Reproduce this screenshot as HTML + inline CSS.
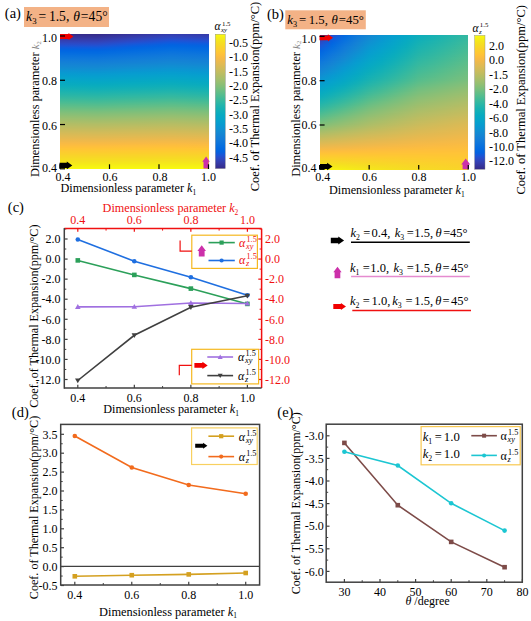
<!DOCTYPE html>
<html><head><meta charset="utf-8"><style>html,body{margin:0;padding:0;background:#fff;width:531px;height:621px;overflow:hidden}svg{display:block}</style></head>
<body><svg width="531" height="621" viewBox="0 0 531 621" font-family='"Liberation Serif", serif'>
<defs><linearGradient id="ga0" x1="0" x2="1" y1="0" y2="0"><stop offset="0.000" stop-color="#352c8a"/><stop offset="0.250" stop-color="#352c8a"/><stop offset="0.500" stop-color="#36359e"/><stop offset="0.750" stop-color="#343eb0"/><stop offset="1.000" stop-color="#353ba9"/></linearGradient><linearGradient id="ga1" x1="0" x2="1" y1="0" y2="0"><stop offset="0.000" stop-color="#362f91"/><stop offset="0.250" stop-color="#362f90"/><stop offset="0.500" stop-color="#3638a4"/><stop offset="0.750" stop-color="#3341b6"/><stop offset="1.000" stop-color="#343eaf"/></linearGradient><linearGradient id="ga2" x1="0" x2="1" y1="0" y2="0"><stop offset="0.000" stop-color="#363297"/><stop offset="0.250" stop-color="#363297"/><stop offset="0.500" stop-color="#353caa"/><stop offset="0.750" stop-color="#3145bc"/><stop offset="1.000" stop-color="#3341b5"/></linearGradient><linearGradient id="ga3" x1="0" x2="1" y1="0" y2="0"><stop offset="0.000" stop-color="#36359e"/><stop offset="0.250" stop-color="#36359d"/><stop offset="0.500" stop-color="#343fb0"/><stop offset="0.750" stop-color="#2e48c2"/><stop offset="1.000" stop-color="#3144bb"/></linearGradient><linearGradient id="ga4" x1="0" x2="1" y1="0" y2="0"><stop offset="0.000" stop-color="#3639a4"/><stop offset="0.250" stop-color="#3638a4"/><stop offset="0.500" stop-color="#3342b7"/><stop offset="0.750" stop-color="#2a4bc8"/><stop offset="1.000" stop-color="#2e48c1"/></linearGradient><linearGradient id="ga5" x1="0" x2="1" y1="0" y2="0"><stop offset="0.000" stop-color="#353cab"/><stop offset="0.250" stop-color="#353caa"/><stop offset="0.500" stop-color="#3045bd"/><stop offset="0.750" stop-color="#254fce"/><stop offset="1.000" stop-color="#2b4bc8"/></linearGradient><linearGradient id="ga6" x1="0" x2="1" y1="0" y2="0"><stop offset="0.000" stop-color="#343fb1"/><stop offset="0.250" stop-color="#343fb1"/><stop offset="0.500" stop-color="#2d49c3"/><stop offset="0.750" stop-color="#1f53d4"/><stop offset="1.000" stop-color="#254fce"/></linearGradient><linearGradient id="ga7" x1="0" x2="1" y1="0" y2="0"><stop offset="0.000" stop-color="#3243b8"/><stop offset="0.250" stop-color="#3342b7"/><stop offset="0.500" stop-color="#294cca"/><stop offset="0.750" stop-color="#1757d9"/><stop offset="1.000" stop-color="#2053d4"/></linearGradient><linearGradient id="ga8" x1="0" x2="1" y1="0" y2="0"><stop offset="0.000" stop-color="#2f46bf"/><stop offset="0.250" stop-color="#3046be"/><stop offset="0.500" stop-color="#2350d0"/><stop offset="0.750" stop-color="#105bdd"/><stop offset="1.000" stop-color="#1857d8"/></linearGradient><linearGradient id="ga9" x1="0" x2="1" y1="0" y2="0"><stop offset="0.000" stop-color="#2c4ac6"/><stop offset="0.250" stop-color="#2d49c5"/><stop offset="0.500" stop-color="#1c55d6"/><stop offset="0.750" stop-color="#0a5fdf"/><stop offset="1.000" stop-color="#115bdd"/></linearGradient><linearGradient id="ga10" x1="0" x2="1" y1="0" y2="0"><stop offset="0.000" stop-color="#264ecc"/><stop offset="0.250" stop-color="#284dcb"/><stop offset="0.500" stop-color="#1459da"/><stop offset="0.750" stop-color="#0462e1"/><stop offset="1.000" stop-color="#0b5edf"/></linearGradient><linearGradient id="ga11" x1="0" x2="1" y1="0" y2="0"><stop offset="0.000" stop-color="#2052d3"/><stop offset="0.250" stop-color="#2251d2"/><stop offset="0.500" stop-color="#0d5dde"/><stop offset="0.750" stop-color="#0265e1"/><stop offset="1.000" stop-color="#0562e0"/></linearGradient><linearGradient id="ga12" x1="0" x2="1" y1="0" y2="0"><stop offset="0.000" stop-color="#1857d8"/><stop offset="0.250" stop-color="#1a56d7"/><stop offset="0.500" stop-color="#0760e0"/><stop offset="0.750" stop-color="#0267e1"/><stop offset="1.000" stop-color="#0364e1"/></linearGradient><linearGradient id="ga13" x1="0" x2="1" y1="0" y2="0"><stop offset="0.000" stop-color="#0f5cdd"/><stop offset="0.250" stop-color="#115bdc"/><stop offset="0.500" stop-color="#0364e1"/><stop offset="0.750" stop-color="#026ae1"/><stop offset="1.000" stop-color="#0267e1"/></linearGradient><linearGradient id="ga14" x1="0" x2="1" y1="0" y2="0"><stop offset="0.000" stop-color="#095fdf"/><stop offset="0.250" stop-color="#0b5edf"/><stop offset="0.500" stop-color="#0266e1"/><stop offset="0.750" stop-color="#046ce0"/><stop offset="1.000" stop-color="#0269e1"/></linearGradient><linearGradient id="ga15" x1="0" x2="1" y1="0" y2="0"><stop offset="0.000" stop-color="#0363e1"/><stop offset="0.250" stop-color="#0462e0"/><stop offset="0.500" stop-color="#0269e1"/><stop offset="0.750" stop-color="#056ee0"/><stop offset="1.000" stop-color="#036be0"/></linearGradient><linearGradient id="ga16" x1="0" x2="1" y1="0" y2="0"><stop offset="0.000" stop-color="#0266e1"/><stop offset="0.250" stop-color="#0265e1"/><stop offset="0.500" stop-color="#036be0"/><stop offset="0.750" stop-color="#0770df"/><stop offset="1.000" stop-color="#056de0"/></linearGradient><linearGradient id="ga17" x1="0" x2="1" y1="0" y2="0"><stop offset="0.000" stop-color="#0268e1"/><stop offset="0.250" stop-color="#0268e1"/><stop offset="0.500" stop-color="#056de0"/><stop offset="0.750" stop-color="#0972de"/><stop offset="1.000" stop-color="#076fdf"/></linearGradient><linearGradient id="ga18" x1="0" x2="1" y1="0" y2="0"><stop offset="0.000" stop-color="#036be0"/><stop offset="0.250" stop-color="#036ae1"/><stop offset="0.500" stop-color="#076fdf"/><stop offset="0.750" stop-color="#0b74dd"/><stop offset="1.000" stop-color="#0971de"/></linearGradient><linearGradient id="ga19" x1="0" x2="1" y1="0" y2="0"><stop offset="0.000" stop-color="#056de0"/><stop offset="0.250" stop-color="#046ce0"/><stop offset="0.500" stop-color="#0971de"/><stop offset="0.750" stop-color="#0d75dc"/><stop offset="1.000" stop-color="#0b73dd"/></linearGradient><linearGradient id="ga20" x1="0" x2="1" y1="0" y2="0"><stop offset="0.000" stop-color="#076fdf"/><stop offset="0.250" stop-color="#066fdf"/><stop offset="0.500" stop-color="#0b73dd"/><stop offset="0.750" stop-color="#0f77db"/><stop offset="1.000" stop-color="#0d75dc"/></linearGradient><linearGradient id="ga21" x1="0" x2="1" y1="0" y2="0"><stop offset="0.000" stop-color="#0972de"/><stop offset="0.250" stop-color="#0871de"/><stop offset="0.500" stop-color="#0d75dc"/><stop offset="0.750" stop-color="#1079da"/><stop offset="1.000" stop-color="#0e77db"/></linearGradient><linearGradient id="ga22" x1="0" x2="1" y1="0" y2="0"><stop offset="0.000" stop-color="#0b74dd"/><stop offset="0.250" stop-color="#0a73dd"/><stop offset="0.500" stop-color="#0f77db"/><stop offset="0.750" stop-color="#117bd9"/><stop offset="1.000" stop-color="#1078da"/></linearGradient><linearGradient id="ga23" x1="0" x2="1" y1="0" y2="0"><stop offset="0.000" stop-color="#0d76dc"/><stop offset="0.250" stop-color="#0d75dc"/><stop offset="0.500" stop-color="#1079da"/><stop offset="0.750" stop-color="#127dd8"/><stop offset="1.000" stop-color="#117ad9"/></linearGradient><linearGradient id="ga24" x1="0" x2="1" y1="0" y2="0"><stop offset="0.000" stop-color="#0f78db"/><stop offset="0.250" stop-color="#0e77db"/><stop offset="0.500" stop-color="#117bd9"/><stop offset="0.750" stop-color="#137ed7"/><stop offset="1.000" stop-color="#127cd8"/></linearGradient><linearGradient id="ga25" x1="0" x2="1" y1="0" y2="0"><stop offset="0.000" stop-color="#117ada"/><stop offset="0.250" stop-color="#1079da"/><stop offset="0.500" stop-color="#127dd8"/><stop offset="0.750" stop-color="#1480d6"/><stop offset="1.000" stop-color="#137ed7"/></linearGradient><linearGradient id="ga26" x1="0" x2="1" y1="0" y2="0"><stop offset="0.000" stop-color="#127cd9"/><stop offset="0.250" stop-color="#117bd9"/><stop offset="0.500" stop-color="#137fd7"/><stop offset="0.750" stop-color="#1482d5"/><stop offset="1.000" stop-color="#1480d6"/></linearGradient><linearGradient id="ga27" x1="0" x2="1" y1="0" y2="0"><stop offset="0.000" stop-color="#137ed7"/><stop offset="0.250" stop-color="#127dd8"/><stop offset="0.500" stop-color="#1480d6"/><stop offset="0.750" stop-color="#1484d4"/><stop offset="1.000" stop-color="#1481d5"/></linearGradient><linearGradient id="ga28" x1="0" x2="1" y1="0" y2="0"><stop offset="0.000" stop-color="#1480d6"/><stop offset="0.250" stop-color="#137fd7"/><stop offset="0.500" stop-color="#1482d5"/><stop offset="0.750" stop-color="#1486d4"/><stop offset="1.000" stop-color="#1483d5"/></linearGradient><linearGradient id="ga29" x1="0" x2="1" y1="0" y2="0"><stop offset="0.000" stop-color="#1482d5"/><stop offset="0.250" stop-color="#1481d6"/><stop offset="0.500" stop-color="#1484d4"/><stop offset="0.750" stop-color="#1388d3"/><stop offset="1.000" stop-color="#1485d4"/></linearGradient><linearGradient id="ga30" x1="0" x2="1" y1="0" y2="0"><stop offset="0.000" stop-color="#1484d4"/><stop offset="0.250" stop-color="#1483d5"/><stop offset="0.500" stop-color="#1487d3"/><stop offset="0.750" stop-color="#128ad3"/><stop offset="1.000" stop-color="#1487d3"/></linearGradient><linearGradient id="ga31" x1="0" x2="1" y1="0" y2="0"><stop offset="0.000" stop-color="#1486d4"/><stop offset="0.250" stop-color="#1485d4"/><stop offset="0.500" stop-color="#1389d3"/><stop offset="0.750" stop-color="#118dd2"/><stop offset="1.000" stop-color="#1389d3"/></linearGradient><linearGradient id="ga32" x1="0" x2="1" y1="0" y2="0"><stop offset="0.000" stop-color="#1388d3"/><stop offset="0.250" stop-color="#1487d3"/><stop offset="0.500" stop-color="#128bd2"/><stop offset="0.750" stop-color="#108fd2"/><stop offset="1.000" stop-color="#128cd2"/></linearGradient><linearGradient id="ga33" x1="0" x2="1" y1="0" y2="0"><stop offset="0.000" stop-color="#128bd2"/><stop offset="0.250" stop-color="#1389d3"/><stop offset="0.500" stop-color="#118ed2"/><stop offset="0.750" stop-color="#0e91d2"/><stop offset="1.000" stop-color="#108ed2"/></linearGradient><linearGradient id="ga34" x1="0" x2="1" y1="0" y2="0"><stop offset="0.000" stop-color="#118dd2"/><stop offset="0.250" stop-color="#128cd2"/><stop offset="0.500" stop-color="#0f90d2"/><stop offset="0.750" stop-color="#0c94d2"/><stop offset="1.000" stop-color="#0f90d2"/></linearGradient><linearGradient id="ga35" x1="0" x2="1" y1="0" y2="0"><stop offset="0.000" stop-color="#0f90d2"/><stop offset="0.250" stop-color="#108ed2"/><stop offset="0.500" stop-color="#0d93d2"/><stop offset="0.750" stop-color="#0a96d1"/><stop offset="1.000" stop-color="#0d93d2"/></linearGradient><linearGradient id="ga36" x1="0" x2="1" y1="0" y2="0"><stop offset="0.000" stop-color="#0d93d2"/><stop offset="0.250" stop-color="#0e91d2"/><stop offset="0.500" stop-color="#0b95d2"/><stop offset="0.750" stop-color="#0998d1"/><stop offset="1.000" stop-color="#0b95d2"/></linearGradient><linearGradient id="ga37" x1="0" x2="1" y1="0" y2="0"><stop offset="0.000" stop-color="#0b95d1"/><stop offset="0.250" stop-color="#0c94d2"/><stop offset="0.500" stop-color="#0997d1"/><stop offset="0.750" stop-color="#089ad0"/><stop offset="1.000" stop-color="#0997d1"/></linearGradient><linearGradient id="ga38" x1="0" x2="1" y1="0" y2="0"><stop offset="0.000" stop-color="#0998d1"/><stop offset="0.250" stop-color="#0a96d1"/><stop offset="0.500" stop-color="#089ad0"/><stop offset="0.750" stop-color="#079dcf"/><stop offset="1.000" stop-color="#0899d1"/></linearGradient><linearGradient id="ga39" x1="0" x2="1" y1="0" y2="0"><stop offset="0.000" stop-color="#089ad0"/><stop offset="0.250" stop-color="#0999d1"/><stop offset="0.500" stop-color="#079cd0"/><stop offset="0.750" stop-color="#069ece"/><stop offset="1.000" stop-color="#079bd0"/></linearGradient><linearGradient id="ga40" x1="0" x2="1" y1="0" y2="0"><stop offset="0.000" stop-color="#079ccf"/><stop offset="0.250" stop-color="#089bd0"/><stop offset="0.500" stop-color="#079ecf"/><stop offset="0.750" stop-color="#06a0cd"/><stop offset="1.000" stop-color="#079dcf"/></linearGradient><linearGradient id="ga41" x1="0" x2="1" y1="0" y2="0"><stop offset="0.000" stop-color="#069ece"/><stop offset="0.250" stop-color="#079dcf"/><stop offset="0.500" stop-color="#06a0cd"/><stop offset="0.750" stop-color="#06a2cc"/><stop offset="1.000" stop-color="#069fce"/></linearGradient><linearGradient id="ga42" x1="0" x2="1" y1="0" y2="0"><stop offset="0.000" stop-color="#06a0cd"/><stop offset="0.250" stop-color="#069fce"/><stop offset="0.500" stop-color="#06a1cc"/><stop offset="0.750" stop-color="#06a3ca"/><stop offset="1.000" stop-color="#06a1cc"/></linearGradient><linearGradient id="ga43" x1="0" x2="1" y1="0" y2="0"><stop offset="0.000" stop-color="#06a2cb"/><stop offset="0.250" stop-color="#06a1cd"/><stop offset="0.500" stop-color="#06a3ca"/><stop offset="0.750" stop-color="#06a5c9"/><stop offset="1.000" stop-color="#06a2cb"/></linearGradient><linearGradient id="ga44" x1="0" x2="1" y1="0" y2="0"><stop offset="0.000" stop-color="#06a4ca"/><stop offset="0.250" stop-color="#06a2cb"/><stop offset="0.500" stop-color="#06a4c9"/><stop offset="0.750" stop-color="#06a6c7"/><stop offset="1.000" stop-color="#06a4c9"/></linearGradient><linearGradient id="ga45" x1="0" x2="1" y1="0" y2="0"><stop offset="0.000" stop-color="#06a5c8"/><stop offset="0.250" stop-color="#06a4c9"/><stop offset="0.500" stop-color="#06a6c7"/><stop offset="0.750" stop-color="#06a7c5"/><stop offset="1.000" stop-color="#06a5c8"/></linearGradient><linearGradient id="ga46" x1="0" x2="1" y1="0" y2="0"><stop offset="0.000" stop-color="#06a7c6"/><stop offset="0.250" stop-color="#06a5c8"/><stop offset="0.500" stop-color="#06a7c5"/><stop offset="0.750" stop-color="#07a9c3"/><stop offset="1.000" stop-color="#06a7c6"/></linearGradient><linearGradient id="ga47" x1="0" x2="1" y1="0" y2="0"><stop offset="0.000" stop-color="#06a8c4"/><stop offset="0.250" stop-color="#06a7c6"/><stop offset="0.500" stop-color="#06a8c3"/><stop offset="0.750" stop-color="#07aac1"/><stop offset="1.000" stop-color="#06a8c4"/></linearGradient><linearGradient id="ga48" x1="0" x2="1" y1="0" y2="0"><stop offset="0.000" stop-color="#07a9c2"/><stop offset="0.250" stop-color="#06a8c4"/><stop offset="0.500" stop-color="#07aac2"/><stop offset="0.750" stop-color="#09abbf"/><stop offset="1.000" stop-color="#07a9c2"/></linearGradient><linearGradient id="ga49" x1="0" x2="1" y1="0" y2="0"><stop offset="0.000" stop-color="#08aac1"/><stop offset="0.250" stop-color="#07a9c2"/><stop offset="0.500" stop-color="#08abc0"/><stop offset="0.750" stop-color="#0aacbd"/><stop offset="1.000" stop-color="#08aac1"/></linearGradient><linearGradient id="ga50" x1="0" x2="1" y1="0" y2="0"><stop offset="0.000" stop-color="#09abbf"/><stop offset="0.250" stop-color="#08aac0"/><stop offset="0.500" stop-color="#0aacbe"/><stop offset="0.750" stop-color="#0cadbb"/><stop offset="1.000" stop-color="#09abbf"/></linearGradient><linearGradient id="ga51" x1="0" x2="1" y1="0" y2="0"><stop offset="0.000" stop-color="#0bacbd"/><stop offset="0.250" stop-color="#09acbe"/><stop offset="0.500" stop-color="#0cadbc"/><stop offset="0.750" stop-color="#0faeb9"/><stop offset="1.000" stop-color="#0bacbd"/></linearGradient><linearGradient id="ga52" x1="0" x2="1" y1="0" y2="0"><stop offset="0.000" stop-color="#0daebb"/><stop offset="0.250" stop-color="#0badbc"/><stop offset="0.500" stop-color="#0eaeba"/><stop offset="0.750" stop-color="#11afb7"/><stop offset="1.000" stop-color="#0daebb"/></linearGradient><linearGradient id="ga53" x1="0" x2="1" y1="0" y2="0"><stop offset="0.000" stop-color="#10afb8"/><stop offset="0.250" stop-color="#0eaeba"/><stop offset="0.500" stop-color="#11afb7"/><stop offset="0.750" stop-color="#14b0b5"/><stop offset="1.000" stop-color="#10afb8"/></linearGradient><linearGradient id="ga54" x1="0" x2="1" y1="0" y2="0"><stop offset="0.000" stop-color="#13b0b6"/><stop offset="0.250" stop-color="#10afb8"/><stop offset="0.500" stop-color="#14b0b5"/><stop offset="0.750" stop-color="#17b1b3"/><stop offset="1.000" stop-color="#13b0b6"/></linearGradient><linearGradient id="ga55" x1="0" x2="1" y1="0" y2="0"><stop offset="0.000" stop-color="#16b1b4"/><stop offset="0.250" stop-color="#13b0b6"/><stop offset="0.500" stop-color="#17b1b3"/><stop offset="0.750" stop-color="#1ab2b1"/><stop offset="1.000" stop-color="#16b1b4"/></linearGradient><linearGradient id="ga56" x1="0" x2="1" y1="0" y2="0"><stop offset="0.000" stop-color="#19b2b2"/><stop offset="0.250" stop-color="#16b1b4"/><stop offset="0.500" stop-color="#1ab2b1"/><stop offset="0.750" stop-color="#1eb3ae"/><stop offset="1.000" stop-color="#19b2b2"/></linearGradient><linearGradient id="ga57" x1="0" x2="1" y1="0" y2="0"><stop offset="0.000" stop-color="#1cb3af"/><stop offset="0.250" stop-color="#1ab2b1"/><stop offset="0.500" stop-color="#1eb3ae"/><stop offset="0.750" stop-color="#21b4ac"/><stop offset="1.000" stop-color="#1cb3af"/></linearGradient><linearGradient id="ga58" x1="0" x2="1" y1="0" y2="0"><stop offset="0.000" stop-color="#20b4ad"/><stop offset="0.250" stop-color="#1db3af"/><stop offset="0.500" stop-color="#21b4ac"/><stop offset="0.750" stop-color="#25b5aa"/><stop offset="1.000" stop-color="#20b4ad"/></linearGradient><linearGradient id="ga59" x1="0" x2="1" y1="0" y2="0"><stop offset="0.000" stop-color="#23b5ab"/><stop offset="0.250" stop-color="#21b4ac"/><stop offset="0.500" stop-color="#25b5aa"/><stop offset="0.750" stop-color="#29b6a7"/><stop offset="1.000" stop-color="#23b5ab"/></linearGradient><linearGradient id="ga60" x1="0" x2="1" y1="0" y2="0"><stop offset="0.000" stop-color="#27b5a8"/><stop offset="0.250" stop-color="#24b5aa"/><stop offset="0.500" stop-color="#29b6a7"/><stop offset="0.750" stop-color="#2db7a5"/><stop offset="1.000" stop-color="#27b5a8"/></linearGradient><linearGradient id="ga61" x1="0" x2="1" y1="0" y2="0"><stop offset="0.000" stop-color="#2bb6a6"/><stop offset="0.250" stop-color="#28b6a7"/><stop offset="0.500" stop-color="#2db7a5"/><stop offset="0.750" stop-color="#31b8a2"/><stop offset="1.000" stop-color="#2bb6a6"/></linearGradient><linearGradient id="ga62" x1="0" x2="1" y1="0" y2="0"><stop offset="0.000" stop-color="#2fb7a3"/><stop offset="0.250" stop-color="#2cb7a5"/><stop offset="0.500" stop-color="#31b8a2"/><stop offset="0.750" stop-color="#35b89f"/><stop offset="1.000" stop-color="#2fb7a3"/></linearGradient><linearGradient id="ga63" x1="0" x2="1" y1="0" y2="0"><stop offset="0.000" stop-color="#34b8a0"/><stop offset="0.250" stop-color="#30b8a2"/><stop offset="0.500" stop-color="#35b89f"/><stop offset="0.750" stop-color="#39b99d"/><stop offset="1.000" stop-color="#34b8a0"/></linearGradient><linearGradient id="ga64" x1="0" x2="1" y1="0" y2="0"><stop offset="0.000" stop-color="#38b99e"/><stop offset="0.250" stop-color="#35b8a0"/><stop offset="0.500" stop-color="#3ab99d"/><stop offset="0.750" stop-color="#3eba9a"/><stop offset="1.000" stop-color="#38b99e"/></linearGradient><linearGradient id="ga65" x1="0" x2="1" y1="0" y2="0"><stop offset="0.000" stop-color="#3dba9b"/><stop offset="0.250" stop-color="#39b99d"/><stop offset="0.500" stop-color="#3eba9a"/><stop offset="0.750" stop-color="#43bb97"/><stop offset="1.000" stop-color="#3dba9b"/></linearGradient><linearGradient id="ga66" x1="0" x2="1" y1="0" y2="0"><stop offset="0.000" stop-color="#41ba98"/><stop offset="0.250" stop-color="#3eba9a"/><stop offset="0.500" stop-color="#43bb97"/><stop offset="0.750" stop-color="#48bb95"/><stop offset="1.000" stop-color="#41ba98"/></linearGradient><linearGradient id="ga67" x1="0" x2="1" y1="0" y2="0"><stop offset="0.000" stop-color="#46bb95"/><stop offset="0.250" stop-color="#43bb97"/><stop offset="0.500" stop-color="#48bb94"/><stop offset="0.750" stop-color="#4cbc92"/><stop offset="1.000" stop-color="#46bb95"/></linearGradient><linearGradient id="ga68" x1="0" x2="1" y1="0" y2="0"><stop offset="0.000" stop-color="#4bbc93"/><stop offset="0.250" stop-color="#48bb95"/><stop offset="0.500" stop-color="#4dbc92"/><stop offset="0.750" stop-color="#52bd8f"/><stop offset="1.000" stop-color="#4bbc93"/></linearGradient><linearGradient id="ga69" x1="0" x2="1" y1="0" y2="0"><stop offset="0.000" stop-color="#50bc90"/><stop offset="0.250" stop-color="#4dbc92"/><stop offset="0.500" stop-color="#52bd8f"/><stop offset="0.750" stop-color="#57bd8d"/><stop offset="1.000" stop-color="#50bc90"/></linearGradient><linearGradient id="ga70" x1="0" x2="1" y1="0" y2="0"><stop offset="0.000" stop-color="#56bd8d"/><stop offset="0.250" stop-color="#52bd8f"/><stop offset="0.500" stop-color="#57bd8c"/><stop offset="0.750" stop-color="#5cbe8a"/><stop offset="1.000" stop-color="#56bd8d"/></linearGradient><linearGradient id="ga71" x1="0" x2="1" y1="0" y2="0"><stop offset="0.000" stop-color="#5bbd8a"/><stop offset="0.250" stop-color="#57bd8c"/><stop offset="0.500" stop-color="#5dbe8a"/><stop offset="0.750" stop-color="#61be87"/><stop offset="1.000" stop-color="#5bbd8a"/></linearGradient><linearGradient id="ga72" x1="0" x2="1" y1="0" y2="0"><stop offset="0.000" stop-color="#60be88"/><stop offset="0.250" stop-color="#5dbe8a"/><stop offset="0.500" stop-color="#62be87"/><stop offset="0.750" stop-color="#66be85"/><stop offset="1.000" stop-color="#60be88"/></linearGradient><linearGradient id="ga73" x1="0" x2="1" y1="0" y2="0"><stop offset="0.000" stop-color="#66be85"/><stop offset="0.250" stop-color="#62be87"/><stop offset="0.500" stop-color="#67be85"/><stop offset="0.750" stop-color="#6cbf83"/><stop offset="1.000" stop-color="#66be85"/></linearGradient><linearGradient id="ga74" x1="0" x2="1" y1="0" y2="0"><stop offset="0.000" stop-color="#6bbe83"/><stop offset="0.250" stop-color="#68be84"/><stop offset="0.500" stop-color="#6dbf82"/><stop offset="0.750" stop-color="#71bf80"/><stop offset="1.000" stop-color="#6bbe83"/></linearGradient><linearGradient id="ga75" x1="0" x2="1" y1="0" y2="0"><stop offset="0.000" stop-color="#70bf80"/><stop offset="0.250" stop-color="#6dbf82"/><stop offset="0.500" stop-color="#72bf80"/><stop offset="0.750" stop-color="#76bf7e"/><stop offset="1.000" stop-color="#70bf80"/></linearGradient><linearGradient id="ga76" x1="0" x2="1" y1="0" y2="0"><stop offset="0.000" stop-color="#76bf7e"/><stop offset="0.250" stop-color="#72bf80"/><stop offset="0.500" stop-color="#77bf7e"/><stop offset="0.750" stop-color="#7bbf7c"/><stop offset="1.000" stop-color="#76bf7e"/></linearGradient><linearGradient id="ga77" x1="0" x2="1" y1="0" y2="0"><stop offset="0.000" stop-color="#7bbf7c"/><stop offset="0.250" stop-color="#78bf7d"/><stop offset="0.500" stop-color="#7cbf7b"/><stop offset="0.750" stop-color="#80bf7a"/><stop offset="1.000" stop-color="#7bbf7c"/></linearGradient><linearGradient id="ga78" x1="0" x2="1" y1="0" y2="0"><stop offset="0.000" stop-color="#80bf7a"/><stop offset="0.250" stop-color="#7dbf7b"/><stop offset="0.500" stop-color="#81bf79"/><stop offset="0.750" stop-color="#85bf78"/><stop offset="1.000" stop-color="#80bf7a"/></linearGradient><linearGradient id="ga79" x1="0" x2="1" y1="0" y2="0"><stop offset="0.000" stop-color="#85bf78"/><stop offset="0.250" stop-color="#82bf79"/><stop offset="0.500" stop-color="#86bf77"/><stop offset="0.750" stop-color="#89bf76"/><stop offset="1.000" stop-color="#85bf78"/></linearGradient><linearGradient id="ga80" x1="0" x2="1" y1="0" y2="0"><stop offset="0.000" stop-color="#89bf76"/><stop offset="0.250" stop-color="#87bf77"/><stop offset="0.500" stop-color="#8bbf75"/><stop offset="0.750" stop-color="#8ebf74"/><stop offset="1.000" stop-color="#89bf76"/></linearGradient><linearGradient id="ga81" x1="0" x2="1" y1="0" y2="0"><stop offset="0.000" stop-color="#8ebf74"/><stop offset="0.250" stop-color="#8bbf75"/><stop offset="0.500" stop-color="#8fbf74"/><stop offset="0.750" stop-color="#93bf72"/><stop offset="1.000" stop-color="#8ebf74"/></linearGradient><linearGradient id="ga82" x1="0" x2="1" y1="0" y2="0"><stop offset="0.000" stop-color="#93bf72"/><stop offset="0.250" stop-color="#90bf73"/><stop offset="0.500" stop-color="#94bf72"/><stop offset="0.750" stop-color="#97bf70"/><stop offset="1.000" stop-color="#93bf72"/></linearGradient><linearGradient id="ga83" x1="0" x2="1" y1="0" y2="0"><stop offset="0.000" stop-color="#97bf70"/><stop offset="0.250" stop-color="#95bf71"/><stop offset="0.500" stop-color="#98bf70"/><stop offset="0.750" stop-color="#9bbf6f"/><stop offset="1.000" stop-color="#97bf70"/></linearGradient><linearGradient id="ga84" x1="0" x2="1" y1="0" y2="0"><stop offset="0.000" stop-color="#9cbf6f"/><stop offset="0.250" stop-color="#99bf70"/><stop offset="0.500" stop-color="#9dbf6e"/><stop offset="0.750" stop-color="#a0be6d"/><stop offset="1.000" stop-color="#9cbf6f"/></linearGradient><linearGradient id="ga85" x1="0" x2="1" y1="0" y2="0"><stop offset="0.000" stop-color="#a0be6d"/><stop offset="0.250" stop-color="#9ebe6e"/><stop offset="0.500" stop-color="#a1be6c"/><stop offset="0.750" stop-color="#a4be6b"/><stop offset="1.000" stop-color="#a0be6d"/></linearGradient><linearGradient id="ga86" x1="0" x2="1" y1="0" y2="0"><stop offset="0.000" stop-color="#a4be6b"/><stop offset="0.250" stop-color="#a2be6c"/><stop offset="0.500" stop-color="#a5be6b"/><stop offset="0.750" stop-color="#a8be6a"/><stop offset="1.000" stop-color="#a4be6b"/></linearGradient><linearGradient id="ga87" x1="0" x2="1" y1="0" y2="0"><stop offset="0.000" stop-color="#a8be6a"/><stop offset="0.250" stop-color="#a6be6a"/><stop offset="0.500" stop-color="#a9be69"/><stop offset="0.750" stop-color="#acbe68"/><stop offset="1.000" stop-color="#a8be6a"/></linearGradient><linearGradient id="ga88" x1="0" x2="1" y1="0" y2="0"><stop offset="0.000" stop-color="#acbe68"/><stop offset="0.250" stop-color="#aabe69"/><stop offset="0.500" stop-color="#adbe67"/><stop offset="0.750" stop-color="#b0bd66"/><stop offset="1.000" stop-color="#acbe68"/></linearGradient><linearGradient id="ga89" x1="0" x2="1" y1="0" y2="0"><stop offset="0.000" stop-color="#b0bd66"/><stop offset="0.250" stop-color="#afbe67"/><stop offset="0.500" stop-color="#b1bd66"/><stop offset="0.750" stop-color="#b4bd65"/><stop offset="1.000" stop-color="#b0bd66"/></linearGradient><linearGradient id="ga90" x1="0" x2="1" y1="0" y2="0"><stop offset="0.000" stop-color="#b4bd65"/><stop offset="0.250" stop-color="#b3bd65"/><stop offset="0.500" stop-color="#b5bd64"/><stop offset="0.750" stop-color="#b8bd63"/><stop offset="1.000" stop-color="#b4bd65"/></linearGradient><linearGradient id="ga91" x1="0" x2="1" y1="0" y2="0"><stop offset="0.000" stop-color="#b8bd63"/><stop offset="0.250" stop-color="#b6bd64"/><stop offset="0.500" stop-color="#b9bd63"/><stop offset="0.750" stop-color="#bbbd62"/><stop offset="1.000" stop-color="#b8bd63"/></linearGradient><linearGradient id="ga92" x1="0" x2="1" y1="0" y2="0"><stop offset="0.000" stop-color="#bcbd62"/><stop offset="0.250" stop-color="#babd62"/><stop offset="0.500" stop-color="#bdbd61"/><stop offset="0.750" stop-color="#bfbc60"/><stop offset="1.000" stop-color="#bcbd62"/></linearGradient><linearGradient id="ga93" x1="0" x2="1" y1="0" y2="0"><stop offset="0.000" stop-color="#c0bc60"/><stop offset="0.250" stop-color="#bebc61"/><stop offset="0.500" stop-color="#c1bc60"/><stop offset="0.750" stop-color="#c3bc5f"/><stop offset="1.000" stop-color="#c0bc60"/></linearGradient><linearGradient id="ga94" x1="0" x2="1" y1="0" y2="0"><stop offset="0.000" stop-color="#c3bc5f"/><stop offset="0.250" stop-color="#c2bc5f"/><stop offset="0.500" stop-color="#c4bc5e"/><stop offset="0.750" stop-color="#c6bc5d"/><stop offset="1.000" stop-color="#c3bc5f"/></linearGradient><linearGradient id="ga95" x1="0" x2="1" y1="0" y2="0"><stop offset="0.000" stop-color="#c7bc5d"/><stop offset="0.250" stop-color="#c6bc5e"/><stop offset="0.500" stop-color="#c8bc5d"/><stop offset="0.750" stop-color="#cabb5c"/><stop offset="1.000" stop-color="#c7bc5d"/></linearGradient><linearGradient id="ga96" x1="0" x2="1" y1="0" y2="0"><stop offset="0.000" stop-color="#cbbb5c"/><stop offset="0.250" stop-color="#c9bb5c"/><stop offset="0.500" stop-color="#ccbb5b"/><stop offset="0.750" stop-color="#cdbb5b"/><stop offset="1.000" stop-color="#cbbb5c"/></linearGradient><linearGradient id="ga97" x1="0" x2="1" y1="0" y2="0"><stop offset="0.000" stop-color="#cebb5a"/><stop offset="0.250" stop-color="#cdbb5b"/><stop offset="0.500" stop-color="#cfbb5a"/><stop offset="0.750" stop-color="#d1bb59"/><stop offset="1.000" stop-color="#cebb5a"/></linearGradient><linearGradient id="ga98" x1="0" x2="1" y1="0" y2="0"><stop offset="0.000" stop-color="#d2bb59"/><stop offset="0.250" stop-color="#d1bb59"/><stop offset="0.500" stop-color="#d3bb58"/><stop offset="0.750" stop-color="#d4bb58"/><stop offset="1.000" stop-color="#d2bb59"/></linearGradient><linearGradient id="ga99" x1="0" x2="1" y1="0" y2="0"><stop offset="0.000" stop-color="#d6ba57"/><stop offset="0.250" stop-color="#d4bb58"/><stop offset="0.500" stop-color="#d6ba57"/><stop offset="0.750" stop-color="#d8ba56"/><stop offset="1.000" stop-color="#d6ba57"/></linearGradient><linearGradient id="ga100" x1="0" x2="1" y1="0" y2="0"><stop offset="0.000" stop-color="#d9ba56"/><stop offset="0.250" stop-color="#d8ba56"/><stop offset="0.500" stop-color="#daba55"/><stop offset="0.750" stop-color="#dbba55"/><stop offset="1.000" stop-color="#d9ba56"/></linearGradient><linearGradient id="ga101" x1="0" x2="1" y1="0" y2="0"><stop offset="0.000" stop-color="#ddba54"/><stop offset="0.250" stop-color="#dbba55"/><stop offset="0.500" stop-color="#ddba54"/><stop offset="0.750" stop-color="#dfba53"/><stop offset="1.000" stop-color="#ddba54"/></linearGradient><linearGradient id="ga102" x1="0" x2="1" y1="0" y2="0"><stop offset="0.000" stop-color="#e0ba52"/><stop offset="0.250" stop-color="#dfba53"/><stop offset="0.500" stop-color="#e1ba52"/><stop offset="0.750" stop-color="#e2b951"/><stop offset="1.000" stop-color="#e0ba52"/></linearGradient><linearGradient id="ga103" x1="0" x2="1" y1="0" y2="0"><stop offset="0.000" stop-color="#e4b951"/><stop offset="0.250" stop-color="#e2b951"/><stop offset="0.500" stop-color="#e4b950"/><stop offset="0.750" stop-color="#e6b950"/><stop offset="1.000" stop-color="#e4b951"/></linearGradient><linearGradient id="ga104" x1="0" x2="1" y1="0" y2="0"><stop offset="0.000" stop-color="#e7b94f"/><stop offset="0.250" stop-color="#e6b950"/><stop offset="0.500" stop-color="#e8b94f"/><stop offset="0.750" stop-color="#e9b94e"/><stop offset="1.000" stop-color="#e7b94f"/></linearGradient><linearGradient id="ga105" x1="0" x2="1" y1="0" y2="0"><stop offset="0.000" stop-color="#ebb94d"/><stop offset="0.250" stop-color="#eab94e"/><stop offset="0.500" stop-color="#ebb94d"/><stop offset="0.750" stop-color="#edb94c"/><stop offset="1.000" stop-color="#ebb94d"/></linearGradient><linearGradient id="ga106" x1="0" x2="1" y1="0" y2="0"><stop offset="0.000" stop-color="#eeb94b"/><stop offset="0.250" stop-color="#edb94c"/><stop offset="0.500" stop-color="#efb94b"/><stop offset="0.750" stop-color="#f0b94a"/><stop offset="1.000" stop-color="#eeb94b"/></linearGradient><linearGradient id="ga107" x1="0" x2="1" y1="0" y2="0"><stop offset="0.000" stop-color="#f1b949"/><stop offset="0.250" stop-color="#f0b94a"/><stop offset="0.500" stop-color="#f2b949"/><stop offset="0.750" stop-color="#f3ba48"/><stop offset="1.000" stop-color="#f1b949"/></linearGradient><linearGradient id="ga108" x1="0" x2="1" y1="0" y2="0"><stop offset="0.000" stop-color="#f5ba47"/><stop offset="0.250" stop-color="#f4ba47"/><stop offset="0.500" stop-color="#f5ba46"/><stop offset="0.750" stop-color="#f6ba46"/><stop offset="1.000" stop-color="#f5ba47"/></linearGradient><linearGradient id="ga109" x1="0" x2="1" y1="0" y2="0"><stop offset="0.000" stop-color="#f8ba44"/><stop offset="0.250" stop-color="#f7ba45"/><stop offset="0.500" stop-color="#f8ba44"/><stop offset="0.750" stop-color="#f9bb43"/><stop offset="1.000" stop-color="#f8ba44"/></linearGradient><linearGradient id="ga110" x1="0" x2="1" y1="0" y2="0"><stop offset="0.000" stop-color="#fabc42"/><stop offset="0.250" stop-color="#fabb42"/><stop offset="0.500" stop-color="#fabc41"/><stop offset="0.750" stop-color="#fbbd40"/><stop offset="1.000" stop-color="#fabc42"/></linearGradient><linearGradient id="ga111" x1="0" x2="1" y1="0" y2="0"><stop offset="0.000" stop-color="#fcbd3f"/><stop offset="0.250" stop-color="#fcbd3f"/><stop offset="0.500" stop-color="#fdbe3e"/><stop offset="0.750" stop-color="#fdbe3d"/><stop offset="1.000" stop-color="#fcbd3f"/></linearGradient><linearGradient id="ga112" x1="0" x2="1" y1="0" y2="0"><stop offset="0.000" stop-color="#febf3c"/><stop offset="0.250" stop-color="#febf3c"/><stop offset="0.500" stop-color="#fec03c"/><stop offset="0.750" stop-color="#fec03b"/><stop offset="1.000" stop-color="#febf3c"/></linearGradient><linearGradient id="ga113" x1="0" x2="1" y1="0" y2="0"><stop offset="0.000" stop-color="#fec139"/><stop offset="0.250" stop-color="#fec13a"/><stop offset="0.500" stop-color="#fec239"/><stop offset="0.750" stop-color="#ffc238"/><stop offset="1.000" stop-color="#fec139"/></linearGradient><linearGradient id="ga114" x1="0" x2="1" y1="0" y2="0"><stop offset="0.000" stop-color="#ffc437"/><stop offset="0.250" stop-color="#ffc337"/><stop offset="0.500" stop-color="#ffc436"/><stop offset="0.750" stop-color="#ffc536"/><stop offset="1.000" stop-color="#ffc437"/></linearGradient><linearGradient id="ga115" x1="0" x2="1" y1="0" y2="0"><stop offset="0.000" stop-color="#fec634"/><stop offset="0.250" stop-color="#fec635"/><stop offset="0.500" stop-color="#fec634"/><stop offset="0.750" stop-color="#fec734"/><stop offset="1.000" stop-color="#fec634"/></linearGradient><linearGradient id="ga116" x1="0" x2="1" y1="0" y2="0"><stop offset="0.000" stop-color="#fec832"/><stop offset="0.250" stop-color="#fec833"/><stop offset="0.500" stop-color="#fec932"/><stop offset="0.750" stop-color="#fec932"/><stop offset="1.000" stop-color="#fec832"/></linearGradient><linearGradient id="ga117" x1="0" x2="1" y1="0" y2="0"><stop offset="0.000" stop-color="#fdcb30"/><stop offset="0.250" stop-color="#fdca31"/><stop offset="0.500" stop-color="#fdcb30"/><stop offset="0.750" stop-color="#fdcb30"/><stop offset="1.000" stop-color="#fdcb30"/></linearGradient><linearGradient id="ga118" x1="0" x2="1" y1="0" y2="0"><stop offset="0.000" stop-color="#fccd2e"/><stop offset="0.250" stop-color="#fccc2f"/><stop offset="0.500" stop-color="#fccd2e"/><stop offset="0.750" stop-color="#fcce2e"/><stop offset="1.000" stop-color="#fccd2e"/></linearGradient><linearGradient id="ga119" x1="0" x2="1" y1="0" y2="0"><stop offset="0.000" stop-color="#fbcf2d"/><stop offset="0.250" stop-color="#fbcf2d"/><stop offset="0.500" stop-color="#fbcf2c"/><stop offset="0.750" stop-color="#fbd02c"/><stop offset="1.000" stop-color="#fbcf2d"/></linearGradient><linearGradient id="ga120" x1="0" x2="1" y1="0" y2="0"><stop offset="0.000" stop-color="#fad12b"/><stop offset="0.250" stop-color="#fad12b"/><stop offset="0.500" stop-color="#fad22b"/><stop offset="0.750" stop-color="#fad22a"/><stop offset="1.000" stop-color="#fad12b"/></linearGradient><linearGradient id="ga121" x1="0" x2="1" y1="0" y2="0"><stop offset="0.000" stop-color="#f9d429"/><stop offset="0.250" stop-color="#f9d329"/><stop offset="0.500" stop-color="#f9d429"/><stop offset="0.750" stop-color="#f9d429"/><stop offset="1.000" stop-color="#f9d429"/></linearGradient><linearGradient id="ga122" x1="0" x2="1" y1="0" y2="0"><stop offset="0.000" stop-color="#f8d627"/><stop offset="0.250" stop-color="#f8d628"/><stop offset="0.500" stop-color="#f8d627"/><stop offset="0.750" stop-color="#f8d727"/><stop offset="1.000" stop-color="#f8d627"/></linearGradient><linearGradient id="ga123" x1="0" x2="1" y1="0" y2="0"><stop offset="0.000" stop-color="#f7d826"/><stop offset="0.250" stop-color="#f7d826"/><stop offset="0.500" stop-color="#f7d825"/><stop offset="0.750" stop-color="#f7d925"/><stop offset="1.000" stop-color="#f7d826"/></linearGradient><linearGradient id="ga124" x1="0" x2="1" y1="0" y2="0"><stop offset="0.000" stop-color="#f6db24"/><stop offset="0.250" stop-color="#f7db24"/><stop offset="0.500" stop-color="#f6db24"/><stop offset="0.750" stop-color="#f6db23"/><stop offset="1.000" stop-color="#f6db24"/></linearGradient><linearGradient id="ga125" x1="0" x2="1" y1="0" y2="0"><stop offset="0.000" stop-color="#f6dd22"/><stop offset="0.250" stop-color="#f6dd22"/><stop offset="0.500" stop-color="#f6dd22"/><stop offset="0.750" stop-color="#f6de22"/><stop offset="1.000" stop-color="#f6dd22"/></linearGradient><linearGradient id="ga126" x1="0" x2="1" y1="0" y2="0"><stop offset="0.000" stop-color="#f5e020"/><stop offset="0.250" stop-color="#f5e020"/><stop offset="0.500" stop-color="#f5e020"/><stop offset="0.750" stop-color="#f5e020"/><stop offset="1.000" stop-color="#f5e020"/></linearGradient><linearGradient id="ga127" x1="0" x2="1" y1="0" y2="0"><stop offset="0.000" stop-color="#f5e31e"/><stop offset="0.250" stop-color="#f5e21e"/><stop offset="0.500" stop-color="#f5e31e"/><stop offset="0.750" stop-color="#f5e31e"/><stop offset="1.000" stop-color="#f5e31e"/></linearGradient><linearGradient id="ga128" x1="0" x2="1" y1="0" y2="0"><stop offset="0.000" stop-color="#f5e51c"/><stop offset="0.250" stop-color="#f5e51c"/><stop offset="0.500" stop-color="#f5e61c"/><stop offset="0.750" stop-color="#f5e61c"/><stop offset="1.000" stop-color="#f5e51c"/></linearGradient><linearGradient id="ga129" x1="0" x2="1" y1="0" y2="0"><stop offset="0.000" stop-color="#f5e81a"/><stop offset="0.250" stop-color="#f5e81a"/><stop offset="0.500" stop-color="#f5e81a"/><stop offset="0.750" stop-color="#f5e91a"/><stop offset="1.000" stop-color="#f5e81a"/></linearGradient><linearGradient id="ga130" x1="0" x2="1" y1="0" y2="0"><stop offset="0.000" stop-color="#f5eb18"/><stop offset="0.250" stop-color="#f5eb18"/><stop offset="0.500" stop-color="#f5ec18"/><stop offset="0.750" stop-color="#f5ec18"/><stop offset="1.000" stop-color="#f5eb18"/></linearGradient><linearGradient id="ga131" x1="0" x2="1" y1="0" y2="0"><stop offset="0.000" stop-color="#f6ef16"/><stop offset="0.250" stop-color="#f5ef16"/><stop offset="0.500" stop-color="#f6ef16"/><stop offset="0.750" stop-color="#f6ef16"/><stop offset="1.000" stop-color="#f6ef16"/></linearGradient><linearGradient id="ga132" x1="0" x2="1" y1="0" y2="0"><stop offset="0.000" stop-color="#f6f214"/><stop offset="0.250" stop-color="#f6f214"/><stop offset="0.500" stop-color="#f6f214"/><stop offset="0.750" stop-color="#f6f214"/><stop offset="1.000" stop-color="#f6f214"/></linearGradient><linearGradient id="ga133" x1="0" x2="1" y1="0" y2="0"><stop offset="0.000" stop-color="#f7f511"/><stop offset="0.250" stop-color="#f7f511"/><stop offset="0.500" stop-color="#f7f511"/><stop offset="0.750" stop-color="#f7f611"/><stop offset="1.000" stop-color="#f7f511"/></linearGradient><linearGradient id="ga134" x1="0" x2="1" y1="0" y2="0"><stop offset="0.000" stop-color="#f8f90f"/><stop offset="0.250" stop-color="#f8f90f"/><stop offset="0.500" stop-color="#f8f90f"/><stop offset="0.750" stop-color="#f8f90f"/><stop offset="1.000" stop-color="#f8f90f"/></linearGradient><linearGradient id="cba" x1="0" x2="0" y1="0" y2="1"><stop offset="0.000" stop-color="#f9fb0e"/><stop offset="0.025" stop-color="#f5ee16"/><stop offset="0.050" stop-color="#f5e31e"/><stop offset="0.075" stop-color="#f7da24"/><stop offset="0.100" stop-color="#fad12b"/><stop offset="0.125" stop-color="#fec932"/><stop offset="0.150" stop-color="#fec13a"/><stop offset="0.175" stop-color="#f8ba44"/><stop offset="0.200" stop-color="#ecb94c"/><stop offset="0.225" stop-color="#e0ba53"/><stop offset="0.250" stop-color="#d3bb58"/><stop offset="0.275" stop-color="#c6bc5e"/><stop offset="0.300" stop-color="#b8bd63"/><stop offset="0.325" stop-color="#aabe69"/><stop offset="0.350" stop-color="#9bbf6f"/><stop offset="0.375" stop-color="#8bbf75"/><stop offset="0.400" stop-color="#7abf7c"/><stop offset="0.425" stop-color="#67be85"/><stop offset="0.450" stop-color="#55bd8e"/><stop offset="0.475" stop-color="#43bb97"/><stop offset="0.500" stop-color="#33b8a1"/><stop offset="0.525" stop-color="#24b5aa"/><stop offset="0.550" stop-color="#18b1b2"/><stop offset="0.575" stop-color="#0eaeba"/><stop offset="0.600" stop-color="#07aac1"/><stop offset="0.625" stop-color="#06a6c7"/><stop offset="0.650" stop-color="#06a0cd"/><stop offset="0.675" stop-color="#089ad0"/><stop offset="0.700" stop-color="#0d93d2"/><stop offset="0.725" stop-color="#128bd3"/><stop offset="0.750" stop-color="#1484d4"/><stop offset="0.775" stop-color="#137dd8"/><stop offset="0.800" stop-color="#0f77db"/><stop offset="0.825" stop-color="#0871de"/><stop offset="0.850" stop-color="#036ae1"/><stop offset="0.875" stop-color="#0462e0"/><stop offset="0.900" stop-color="#1b55d7"/><stop offset="0.925" stop-color="#2d49c3"/><stop offset="0.950" stop-color="#353eaf"/><stop offset="0.975" stop-color="#36349b"/><stop offset="1.000" stop-color="#352a87"/></linearGradient><linearGradient id="gb0" x1="0" x2="1" y1="0" y2="0"><stop offset="0.000" stop-color="#3637a1"/><stop offset="0.083" stop-color="#2450d0"/><stop offset="0.167" stop-color="#026ae1"/><stop offset="0.250" stop-color="#1078da"/><stop offset="0.333" stop-color="#1487d3"/><stop offset="0.417" stop-color="#0c93d2"/><stop offset="0.500" stop-color="#069fce"/><stop offset="0.583" stop-color="#06a7c6"/><stop offset="0.667" stop-color="#0dadbb"/><stop offset="0.750" stop-color="#14b0b5"/><stop offset="0.833" stop-color="#1db3af"/><stop offset="0.917" stop-color="#28b6a8"/><stop offset="1.000" stop-color="#33b8a0"/></linearGradient><linearGradient id="gb1" x1="0" x2="1" y1="0" y2="0"><stop offset="0.000" stop-color="#363aa6"/><stop offset="0.083" stop-color="#1f53d4"/><stop offset="0.167" stop-color="#036be0"/><stop offset="0.250" stop-color="#117ada"/><stop offset="0.333" stop-color="#1388d3"/><stop offset="0.417" stop-color="#0b95d2"/><stop offset="0.500" stop-color="#069fce"/><stop offset="0.583" stop-color="#06a7c5"/><stop offset="0.667" stop-color="#0eaeba"/><stop offset="0.750" stop-color="#15b1b4"/><stop offset="0.833" stop-color="#1fb3ae"/><stop offset="0.917" stop-color="#29b6a7"/><stop offset="1.000" stop-color="#35b8a0"/></linearGradient><linearGradient id="gb2" x1="0" x2="1" y1="0" y2="0"><stop offset="0.000" stop-color="#353cab"/><stop offset="0.083" stop-color="#1956d8"/><stop offset="0.167" stop-color="#046de0"/><stop offset="0.250" stop-color="#117bd9"/><stop offset="0.333" stop-color="#1389d3"/><stop offset="0.417" stop-color="#0b96d1"/><stop offset="0.500" stop-color="#06a0cd"/><stop offset="0.583" stop-color="#06a8c4"/><stop offset="0.667" stop-color="#0faeb9"/><stop offset="0.750" stop-color="#17b1b3"/><stop offset="0.833" stop-color="#20b4ad"/><stop offset="0.917" stop-color="#2bb6a6"/><stop offset="1.000" stop-color="#36b99f"/></linearGradient><linearGradient id="gb3" x1="0" x2="1" y1="0" y2="0"><stop offset="0.000" stop-color="#343fb0"/><stop offset="0.083" stop-color="#135adb"/><stop offset="0.167" stop-color="#056ee0"/><stop offset="0.250" stop-color="#127cd8"/><stop offset="0.333" stop-color="#128bd3"/><stop offset="0.417" stop-color="#0a97d1"/><stop offset="0.500" stop-color="#06a1cc"/><stop offset="0.583" stop-color="#06a8c3"/><stop offset="0.667" stop-color="#10afb8"/><stop offset="0.750" stop-color="#18b1b2"/><stop offset="0.833" stop-color="#21b4ac"/><stop offset="0.917" stop-color="#2cb7a5"/><stop offset="1.000" stop-color="#37b99e"/></linearGradient><linearGradient id="gb4" x1="0" x2="1" y1="0" y2="0"><stop offset="0.000" stop-color="#3341b5"/><stop offset="0.083" stop-color="#0d5dde"/><stop offset="0.167" stop-color="#076fdf"/><stop offset="0.250" stop-color="#137dd8"/><stop offset="0.333" stop-color="#118cd2"/><stop offset="0.417" stop-color="#0998d1"/><stop offset="0.500" stop-color="#06a2cc"/><stop offset="0.583" stop-color="#07a9c3"/><stop offset="0.667" stop-color="#11afb8"/><stop offset="0.750" stop-color="#19b2b1"/><stop offset="0.833" stop-color="#23b4ab"/><stop offset="0.917" stop-color="#2db7a4"/><stop offset="1.000" stop-color="#39b99d"/></linearGradient><linearGradient id="gb5" x1="0" x2="1" y1="0" y2="0"><stop offset="0.000" stop-color="#3244ba"/><stop offset="0.083" stop-color="#095fdf"/><stop offset="0.167" stop-color="#0871de"/><stop offset="0.250" stop-color="#137ed7"/><stop offset="0.333" stop-color="#118dd2"/><stop offset="0.417" stop-color="#0899d1"/><stop offset="0.500" stop-color="#06a3cb"/><stop offset="0.583" stop-color="#07aac2"/><stop offset="0.667" stop-color="#12afb7"/><stop offset="0.750" stop-color="#1ab2b1"/><stop offset="0.833" stop-color="#24b5aa"/><stop offset="0.917" stop-color="#2fb7a3"/><stop offset="1.000" stop-color="#3ab99c"/></linearGradient><linearGradient id="gb6" x1="0" x2="1" y1="0" y2="0"><stop offset="0.000" stop-color="#2f47bf"/><stop offset="0.083" stop-color="#0562e0"/><stop offset="0.167" stop-color="#0a72de"/><stop offset="0.250" stop-color="#137fd6"/><stop offset="0.333" stop-color="#108fd2"/><stop offset="0.417" stop-color="#089ad0"/><stop offset="0.500" stop-color="#06a3ca"/><stop offset="0.583" stop-color="#08aac1"/><stop offset="0.667" stop-color="#13b0b6"/><stop offset="0.750" stop-color="#1cb3b0"/><stop offset="0.833" stop-color="#25b5a9"/><stop offset="0.917" stop-color="#30b7a3"/><stop offset="1.000" stop-color="#3cba9b"/></linearGradient><linearGradient id="gb7" x1="0" x2="1" y1="0" y2="0"><stop offset="0.000" stop-color="#2d49c4"/><stop offset="0.083" stop-color="#0364e1"/><stop offset="0.167" stop-color="#0b73dd"/><stop offset="0.250" stop-color="#1481d6"/><stop offset="0.333" stop-color="#0f90d2"/><stop offset="0.417" stop-color="#079bd0"/><stop offset="0.500" stop-color="#06a4c9"/><stop offset="0.583" stop-color="#08abc0"/><stop offset="0.667" stop-color="#14b0b5"/><stop offset="0.750" stop-color="#1db3af"/><stop offset="0.833" stop-color="#27b5a8"/><stop offset="0.917" stop-color="#32b8a2"/><stop offset="1.000" stop-color="#3dba9b"/></linearGradient><linearGradient id="gb8" x1="0" x2="1" y1="0" y2="0"><stop offset="0.000" stop-color="#294cca"/><stop offset="0.083" stop-color="#0266e1"/><stop offset="0.167" stop-color="#0c75dc"/><stop offset="0.250" stop-color="#1482d5"/><stop offset="0.333" stop-color="#0e91d2"/><stop offset="0.417" stop-color="#079dcf"/><stop offset="0.500" stop-color="#06a5c9"/><stop offset="0.583" stop-color="#09abbf"/><stop offset="0.667" stop-color="#16b1b4"/><stop offset="0.750" stop-color="#1eb3ae"/><stop offset="0.833" stop-color="#28b6a7"/><stop offset="0.917" stop-color="#33b8a1"/><stop offset="1.000" stop-color="#3fba9a"/></linearGradient><linearGradient id="gb9" x1="0" x2="1" y1="0" y2="0"><stop offset="0.000" stop-color="#2450cf"/><stop offset="0.083" stop-color="#0268e1"/><stop offset="0.167" stop-color="#0e76dc"/><stop offset="0.250" stop-color="#1483d5"/><stop offset="0.333" stop-color="#0d93d2"/><stop offset="0.417" stop-color="#079dcf"/><stop offset="0.500" stop-color="#06a5c8"/><stop offset="0.583" stop-color="#09acbe"/><stop offset="0.667" stop-color="#17b1b3"/><stop offset="0.750" stop-color="#20b4ad"/><stop offset="0.833" stop-color="#2ab6a7"/><stop offset="0.917" stop-color="#34b8a0"/><stop offset="1.000" stop-color="#40ba99"/></linearGradient><linearGradient id="gb10" x1="0" x2="1" y1="0" y2="0"><stop offset="0.000" stop-color="#2053d4"/><stop offset="0.083" stop-color="#026ae1"/><stop offset="0.167" stop-color="#0f77db"/><stop offset="0.250" stop-color="#1484d4"/><stop offset="0.333" stop-color="#0c94d2"/><stop offset="0.417" stop-color="#069ece"/><stop offset="0.500" stop-color="#06a6c7"/><stop offset="0.583" stop-color="#0aacbd"/><stop offset="0.667" stop-color="#18b2b2"/><stop offset="0.750" stop-color="#21b4ac"/><stop offset="0.833" stop-color="#2bb6a6"/><stop offset="0.917" stop-color="#36b99f"/><stop offset="1.000" stop-color="#42bb98"/></linearGradient><linearGradient id="gb11" x1="0" x2="1" y1="0" y2="0"><stop offset="0.000" stop-color="#1956d8"/><stop offset="0.083" stop-color="#036be0"/><stop offset="0.167" stop-color="#1079da"/><stop offset="0.250" stop-color="#1486d4"/><stop offset="0.333" stop-color="#0b96d1"/><stop offset="0.417" stop-color="#069fce"/><stop offset="0.500" stop-color="#06a7c6"/><stop offset="0.583" stop-color="#0badbc"/><stop offset="0.667" stop-color="#1ab2b1"/><stop offset="0.750" stop-color="#23b4ab"/><stop offset="0.833" stop-color="#2db7a5"/><stop offset="0.917" stop-color="#37b99e"/><stop offset="1.000" stop-color="#43bb97"/></linearGradient><linearGradient id="gb12" x1="0" x2="1" y1="0" y2="0"><stop offset="0.000" stop-color="#135adb"/><stop offset="0.083" stop-color="#046de0"/><stop offset="0.167" stop-color="#117ada"/><stop offset="0.250" stop-color="#1487d3"/><stop offset="0.333" stop-color="#0a97d1"/><stop offset="0.417" stop-color="#06a0cd"/><stop offset="0.500" stop-color="#06a7c5"/><stop offset="0.583" stop-color="#0cadbb"/><stop offset="0.667" stop-color="#1bb2b0"/><stop offset="0.750" stop-color="#24b5aa"/><stop offset="0.833" stop-color="#2eb7a4"/><stop offset="0.917" stop-color="#39b99d"/><stop offset="1.000" stop-color="#45bb96"/></linearGradient><linearGradient id="gb13" x1="0" x2="1" y1="0" y2="0"><stop offset="0.000" stop-color="#0d5dde"/><stop offset="0.083" stop-color="#066edf"/><stop offset="0.167" stop-color="#117bd9"/><stop offset="0.250" stop-color="#1388d3"/><stop offset="0.333" stop-color="#0998d1"/><stop offset="0.417" stop-color="#06a1cc"/><stop offset="0.500" stop-color="#06a8c4"/><stop offset="0.583" stop-color="#0daeba"/><stop offset="0.667" stop-color="#1cb3af"/><stop offset="0.750" stop-color="#25b5a9"/><stop offset="0.833" stop-color="#30b7a3"/><stop offset="0.917" stop-color="#3ab99c"/><stop offset="1.000" stop-color="#46bb95"/></linearGradient><linearGradient id="gb14" x1="0" x2="1" y1="0" y2="0"><stop offset="0.000" stop-color="#0860df"/><stop offset="0.083" stop-color="#0770df"/><stop offset="0.167" stop-color="#127cd8"/><stop offset="0.250" stop-color="#138ad3"/><stop offset="0.333" stop-color="#0899d1"/><stop offset="0.417" stop-color="#06a2cb"/><stop offset="0.500" stop-color="#07a9c3"/><stop offset="0.583" stop-color="#0faeb9"/><stop offset="0.667" stop-color="#1eb3ae"/><stop offset="0.750" stop-color="#27b5a8"/><stop offset="0.833" stop-color="#31b8a2"/><stop offset="0.917" stop-color="#3cba9b"/><stop offset="1.000" stop-color="#48bb95"/></linearGradient><linearGradient id="gb15" x1="0" x2="1" y1="0" y2="0"><stop offset="0.000" stop-color="#0363e1"/><stop offset="0.083" stop-color="#0971de"/><stop offset="0.167" stop-color="#137ed7"/><stop offset="0.250" stop-color="#128bd2"/><stop offset="0.333" stop-color="#089bd0"/><stop offset="0.417" stop-color="#06a3cb"/><stop offset="0.500" stop-color="#07a9c2"/><stop offset="0.583" stop-color="#10afb8"/><stop offset="0.667" stop-color="#1fb4ad"/><stop offset="0.750" stop-color="#29b6a7"/><stop offset="0.833" stop-color="#33b8a1"/><stop offset="0.917" stop-color="#3eba9a"/><stop offset="1.000" stop-color="#49bc94"/></linearGradient><linearGradient id="gb16" x1="0" x2="1" y1="0" y2="0"><stop offset="0.000" stop-color="#0265e1"/><stop offset="0.083" stop-color="#0a73dd"/><stop offset="0.167" stop-color="#137fd7"/><stop offset="0.250" stop-color="#118dd2"/><stop offset="0.333" stop-color="#079cd0"/><stop offset="0.417" stop-color="#06a4ca"/><stop offset="0.500" stop-color="#07aac1"/><stop offset="0.583" stop-color="#11afb7"/><stop offset="0.667" stop-color="#21b4ac"/><stop offset="0.750" stop-color="#2ab6a6"/><stop offset="0.833" stop-color="#34b8a0"/><stop offset="0.917" stop-color="#3fba99"/><stop offset="1.000" stop-color="#4bbc93"/></linearGradient><linearGradient id="gb17" x1="0" x2="1" y1="0" y2="0"><stop offset="0.000" stop-color="#0267e1"/><stop offset="0.083" stop-color="#0c74dd"/><stop offset="0.167" stop-color="#1480d6"/><stop offset="0.250" stop-color="#108ed2"/><stop offset="0.333" stop-color="#079dcf"/><stop offset="0.417" stop-color="#06a4c9"/><stop offset="0.500" stop-color="#08aac0"/><stop offset="0.583" stop-color="#12b0b6"/><stop offset="0.667" stop-color="#22b4ab"/><stop offset="0.750" stop-color="#2cb6a5"/><stop offset="0.833" stop-color="#36b99f"/><stop offset="0.917" stop-color="#41ba99"/><stop offset="1.000" stop-color="#4cbc92"/></linearGradient><linearGradient id="gb18" x1="0" x2="1" y1="0" y2="0"><stop offset="0.000" stop-color="#0269e1"/><stop offset="0.083" stop-color="#0d76dc"/><stop offset="0.167" stop-color="#1482d5"/><stop offset="0.250" stop-color="#0f90d2"/><stop offset="0.333" stop-color="#079ecf"/><stop offset="0.417" stop-color="#06a5c8"/><stop offset="0.500" stop-color="#09abbf"/><stop offset="0.583" stop-color="#14b0b5"/><stop offset="0.667" stop-color="#24b5aa"/><stop offset="0.750" stop-color="#2db7a4"/><stop offset="0.833" stop-color="#37b99e"/><stop offset="0.917" stop-color="#42bb98"/><stop offset="1.000" stop-color="#4ebc91"/></linearGradient><linearGradient id="gb19" x1="0" x2="1" y1="0" y2="0"><stop offset="0.000" stop-color="#036be1"/><stop offset="0.083" stop-color="#0f77db"/><stop offset="0.167" stop-color="#1483d5"/><stop offset="0.250" stop-color="#0e91d2"/><stop offset="0.333" stop-color="#069fce"/><stop offset="0.417" stop-color="#06a6c7"/><stop offset="0.500" stop-color="#09acbe"/><stop offset="0.583" stop-color="#15b1b4"/><stop offset="0.667" stop-color="#25b5a9"/><stop offset="0.750" stop-color="#2fb7a3"/><stop offset="0.833" stop-color="#39b99d"/><stop offset="0.917" stop-color="#44bb97"/><stop offset="1.000" stop-color="#50bc90"/></linearGradient><linearGradient id="gb20" x1="0" x2="1" y1="0" y2="0"><stop offset="0.000" stop-color="#046ce0"/><stop offset="0.083" stop-color="#1078da"/><stop offset="0.167" stop-color="#1484d4"/><stop offset="0.250" stop-color="#0d93d2"/><stop offset="0.333" stop-color="#06a0cd"/><stop offset="0.417" stop-color="#06a7c6"/><stop offset="0.500" stop-color="#0aacbd"/><stop offset="0.583" stop-color="#17b1b3"/><stop offset="0.667" stop-color="#27b5a8"/><stop offset="0.750" stop-color="#30b7a2"/><stop offset="0.833" stop-color="#3bb99c"/><stop offset="0.917" stop-color="#46bb96"/><stop offset="1.000" stop-color="#51bd8f"/></linearGradient><linearGradient id="gb21" x1="0" x2="1" y1="0" y2="0"><stop offset="0.000" stop-color="#066ee0"/><stop offset="0.083" stop-color="#117ada"/><stop offset="0.167" stop-color="#1486d4"/><stop offset="0.250" stop-color="#0c94d2"/><stop offset="0.333" stop-color="#06a1cc"/><stop offset="0.417" stop-color="#06a7c5"/><stop offset="0.500" stop-color="#0badbc"/><stop offset="0.583" stop-color="#18b1b2"/><stop offset="0.667" stop-color="#29b6a7"/><stop offset="0.750" stop-color="#32b8a1"/><stop offset="0.833" stop-color="#3cba9b"/><stop offset="0.917" stop-color="#47bb95"/><stop offset="1.000" stop-color="#53bd8f"/></linearGradient><linearGradient id="gb22" x1="0" x2="1" y1="0" y2="0"><stop offset="0.000" stop-color="#0770df"/><stop offset="0.083" stop-color="#127bd9"/><stop offset="0.167" stop-color="#1487d3"/><stop offset="0.250" stop-color="#0b96d1"/><stop offset="0.333" stop-color="#06a2cc"/><stop offset="0.417" stop-color="#06a8c4"/><stop offset="0.500" stop-color="#0cadbb"/><stop offset="0.583" stop-color="#1ab2b1"/><stop offset="0.667" stop-color="#2ab6a6"/><stop offset="0.750" stop-color="#34b8a0"/><stop offset="0.833" stop-color="#3eba9a"/><stop offset="0.917" stop-color="#49bc94"/><stop offset="1.000" stop-color="#55bd8e"/></linearGradient><linearGradient id="gb23" x1="0" x2="1" y1="0" y2="0"><stop offset="0.000" stop-color="#0971de"/><stop offset="0.083" stop-color="#127dd8"/><stop offset="0.167" stop-color="#1389d3"/><stop offset="0.250" stop-color="#0997d1"/><stop offset="0.333" stop-color="#06a3cb"/><stop offset="0.417" stop-color="#07a9c3"/><stop offset="0.500" stop-color="#0eaeba"/><stop offset="0.583" stop-color="#1bb2b0"/><stop offset="0.667" stop-color="#2cb7a5"/><stop offset="0.750" stop-color="#35b89f"/><stop offset="0.833" stop-color="#40ba99"/><stop offset="0.917" stop-color="#4bbc93"/><stop offset="1.000" stop-color="#56bd8d"/></linearGradient><linearGradient id="gb24" x1="0" x2="1" y1="0" y2="0"><stop offset="0.000" stop-color="#0b73dd"/><stop offset="0.083" stop-color="#137ed7"/><stop offset="0.167" stop-color="#128ad3"/><stop offset="0.250" stop-color="#0999d1"/><stop offset="0.333" stop-color="#06a4ca"/><stop offset="0.417" stop-color="#07a9c2"/><stop offset="0.500" stop-color="#0faeb9"/><stop offset="0.583" stop-color="#1db3af"/><stop offset="0.667" stop-color="#2eb7a4"/><stop offset="0.750" stop-color="#37b99e"/><stop offset="0.833" stop-color="#41ba98"/><stop offset="0.917" stop-color="#4cbc92"/><stop offset="1.000" stop-color="#58bd8c"/></linearGradient><linearGradient id="gb25" x1="0" x2="1" y1="0" y2="0"><stop offset="0.000" stop-color="#0c74dd"/><stop offset="0.083" stop-color="#137fd6"/><stop offset="0.167" stop-color="#128cd2"/><stop offset="0.250" stop-color="#089ad0"/><stop offset="0.333" stop-color="#06a4c9"/><stop offset="0.417" stop-color="#07aac1"/><stop offset="0.500" stop-color="#10afb8"/><stop offset="0.583" stop-color="#1eb3ae"/><stop offset="0.667" stop-color="#2fb7a3"/><stop offset="0.750" stop-color="#39b99d"/><stop offset="0.833" stop-color="#43bb97"/><stop offset="0.917" stop-color="#4ebc91"/><stop offset="1.000" stop-color="#5abd8b"/></linearGradient><linearGradient id="gb26" x1="0" x2="1" y1="0" y2="0"><stop offset="0.000" stop-color="#0e76dc"/><stop offset="0.083" stop-color="#1481d6"/><stop offset="0.167" stop-color="#118ed2"/><stop offset="0.250" stop-color="#079bd0"/><stop offset="0.333" stop-color="#06a5c8"/><stop offset="0.417" stop-color="#08abc0"/><stop offset="0.500" stop-color="#12afb7"/><stop offset="0.583" stop-color="#20b4ad"/><stop offset="0.667" stop-color="#31b8a2"/><stop offset="0.750" stop-color="#3bb99c"/><stop offset="0.833" stop-color="#45bb96"/><stop offset="0.917" stop-color="#50bc90"/><stop offset="1.000" stop-color="#5bbe8a"/></linearGradient><linearGradient id="gb27" x1="0" x2="1" y1="0" y2="0"><stop offset="0.000" stop-color="#0f78db"/><stop offset="0.083" stop-color="#1482d5"/><stop offset="0.167" stop-color="#0f8fd2"/><stop offset="0.250" stop-color="#079dcf"/><stop offset="0.333" stop-color="#06a6c7"/><stop offset="0.417" stop-color="#09abbf"/><stop offset="0.500" stop-color="#13b0b6"/><stop offset="0.583" stop-color="#22b4ac"/><stop offset="0.667" stop-color="#33b8a1"/><stop offset="0.750" stop-color="#3cba9b"/><stop offset="0.833" stop-color="#47bb95"/><stop offset="0.917" stop-color="#52bd8f"/><stop offset="1.000" stop-color="#5dbe8a"/></linearGradient><linearGradient id="gb28" x1="0" x2="1" y1="0" y2="0"><stop offset="0.000" stop-color="#1079da"/><stop offset="0.083" stop-color="#1484d4"/><stop offset="0.167" stop-color="#0e91d2"/><stop offset="0.250" stop-color="#079ecf"/><stop offset="0.333" stop-color="#06a7c6"/><stop offset="0.417" stop-color="#0aacbe"/><stop offset="0.500" stop-color="#15b0b5"/><stop offset="0.583" stop-color="#23b5ab"/><stop offset="0.667" stop-color="#35b8a0"/><stop offset="0.750" stop-color="#3eba9a"/><stop offset="0.833" stop-color="#49bb94"/><stop offset="0.917" stop-color="#53bd8e"/><stop offset="1.000" stop-color="#5fbe89"/></linearGradient><linearGradient id="gb29" x1="0" x2="1" y1="0" y2="0"><stop offset="0.000" stop-color="#117bd9"/><stop offset="0.083" stop-color="#1485d4"/><stop offset="0.167" stop-color="#0d93d2"/><stop offset="0.250" stop-color="#069fce"/><stop offset="0.333" stop-color="#06a8c5"/><stop offset="0.417" stop-color="#0bacbd"/><stop offset="0.500" stop-color="#16b1b4"/><stop offset="0.583" stop-color="#25b5aa"/><stop offset="0.667" stop-color="#36b99f"/><stop offset="0.750" stop-color="#40ba99"/><stop offset="0.833" stop-color="#4abc93"/><stop offset="0.917" stop-color="#55bd8d"/><stop offset="1.000" stop-color="#60be88"/></linearGradient><linearGradient id="gb30" x1="0" x2="1" y1="0" y2="0"><stop offset="0.000" stop-color="#127cd8"/><stop offset="0.083" stop-color="#1487d3"/><stop offset="0.167" stop-color="#0c94d2"/><stop offset="0.250" stop-color="#06a0cd"/><stop offset="0.333" stop-color="#06a8c4"/><stop offset="0.417" stop-color="#0cadbb"/><stop offset="0.500" stop-color="#18b1b2"/><stop offset="0.583" stop-color="#27b5a8"/><stop offset="0.667" stop-color="#38b99e"/><stop offset="0.750" stop-color="#42bb98"/><stop offset="0.833" stop-color="#4cbc92"/><stop offset="0.917" stop-color="#57bd8d"/><stop offset="1.000" stop-color="#62be87"/></linearGradient><linearGradient id="gb31" x1="0" x2="1" y1="0" y2="0"><stop offset="0.000" stop-color="#137ed7"/><stop offset="0.083" stop-color="#1389d3"/><stop offset="0.167" stop-color="#0a96d1"/><stop offset="0.250" stop-color="#06a1cc"/><stop offset="0.333" stop-color="#07a9c3"/><stop offset="0.417" stop-color="#0daeba"/><stop offset="0.500" stop-color="#1ab2b1"/><stop offset="0.583" stop-color="#29b6a7"/><stop offset="0.667" stop-color="#3ab99c"/><stop offset="0.750" stop-color="#44bb97"/><stop offset="0.833" stop-color="#4ebc91"/><stop offset="0.917" stop-color="#59bd8c"/><stop offset="1.000" stop-color="#64be86"/></linearGradient><linearGradient id="gb32" x1="0" x2="1" y1="0" y2="0"><stop offset="0.000" stop-color="#137fd7"/><stop offset="0.083" stop-color="#128ad3"/><stop offset="0.167" stop-color="#0998d1"/><stop offset="0.250" stop-color="#06a2cb"/><stop offset="0.333" stop-color="#07aac1"/><stop offset="0.417" stop-color="#0faeb9"/><stop offset="0.500" stop-color="#1bb2b0"/><stop offset="0.583" stop-color="#2ab6a6"/><stop offset="0.667" stop-color="#3cba9b"/><stop offset="0.750" stop-color="#46bb96"/><stop offset="0.833" stop-color="#50bc90"/><stop offset="0.917" stop-color="#5bbd8b"/><stop offset="1.000" stop-color="#65be85"/></linearGradient><linearGradient id="gb33" x1="0" x2="1" y1="0" y2="0"><stop offset="0.000" stop-color="#1481d6"/><stop offset="0.083" stop-color="#118cd2"/><stop offset="0.167" stop-color="#0899d1"/><stop offset="0.250" stop-color="#06a3ca"/><stop offset="0.333" stop-color="#08aac0"/><stop offset="0.417" stop-color="#10afb8"/><stop offset="0.500" stop-color="#1db3af"/><stop offset="0.583" stop-color="#2cb7a5"/><stop offset="0.667" stop-color="#3eba9a"/><stop offset="0.750" stop-color="#48bb95"/><stop offset="0.833" stop-color="#52bd8f"/><stop offset="0.917" stop-color="#5cbe8a"/><stop offset="1.000" stop-color="#67be85"/></linearGradient><linearGradient id="gb34" x1="0" x2="1" y1="0" y2="0"><stop offset="0.000" stop-color="#1482d5"/><stop offset="0.083" stop-color="#108ed2"/><stop offset="0.167" stop-color="#089ad0"/><stop offset="0.250" stop-color="#06a4c9"/><stop offset="0.333" stop-color="#09abbf"/><stop offset="0.417" stop-color="#12afb7"/><stop offset="0.500" stop-color="#1fb3ae"/><stop offset="0.583" stop-color="#2eb7a4"/><stop offset="0.667" stop-color="#40ba99"/><stop offset="0.750" stop-color="#49bc94"/><stop offset="0.833" stop-color="#54bd8e"/><stop offset="0.917" stop-color="#5ebe89"/><stop offset="1.000" stop-color="#69be84"/></linearGradient><linearGradient id="gb35" x1="0" x2="1" y1="0" y2="0"><stop offset="0.000" stop-color="#1484d4"/><stop offset="0.083" stop-color="#0f90d2"/><stop offset="0.167" stop-color="#079cd0"/><stop offset="0.250" stop-color="#06a5c8"/><stop offset="0.333" stop-color="#0aacbe"/><stop offset="0.417" stop-color="#14b0b6"/><stop offset="0.500" stop-color="#21b4ac"/><stop offset="0.583" stop-color="#30b7a3"/><stop offset="0.667" stop-color="#42bb98"/><stop offset="0.750" stop-color="#4bbc93"/><stop offset="0.833" stop-color="#56bd8d"/><stop offset="0.917" stop-color="#60be88"/><stop offset="1.000" stop-color="#6abe83"/></linearGradient><linearGradient id="gb36" x1="0" x2="1" y1="0" y2="0"><stop offset="0.000" stop-color="#1485d4"/><stop offset="0.083" stop-color="#0e92d2"/><stop offset="0.167" stop-color="#079dcf"/><stop offset="0.250" stop-color="#06a6c7"/><stop offset="0.333" stop-color="#0bacbd"/><stop offset="0.417" stop-color="#15b1b4"/><stop offset="0.500" stop-color="#22b4ab"/><stop offset="0.583" stop-color="#32b8a1"/><stop offset="0.667" stop-color="#44bb97"/><stop offset="0.750" stop-color="#4dbc92"/><stop offset="0.833" stop-color="#57bd8c"/><stop offset="0.917" stop-color="#62be87"/><stop offset="1.000" stop-color="#6cbf82"/></linearGradient><linearGradient id="gb37" x1="0" x2="1" y1="0" y2="0"><stop offset="0.000" stop-color="#1487d3"/><stop offset="0.083" stop-color="#0c93d2"/><stop offset="0.167" stop-color="#069fce"/><stop offset="0.250" stop-color="#06a7c6"/><stop offset="0.333" stop-color="#0cadbb"/><stop offset="0.417" stop-color="#17b1b3"/><stop offset="0.500" stop-color="#24b5aa"/><stop offset="0.583" stop-color="#34b8a0"/><stop offset="0.667" stop-color="#46bb96"/><stop offset="0.750" stop-color="#4fbc90"/><stop offset="0.833" stop-color="#59bd8b"/><stop offset="0.917" stop-color="#64be86"/><stop offset="1.000" stop-color="#6ebf82"/></linearGradient><linearGradient id="gb38" x1="0" x2="1" y1="0" y2="0"><stop offset="0.000" stop-color="#1389d3"/><stop offset="0.083" stop-color="#0b95d2"/><stop offset="0.167" stop-color="#06a0cd"/><stop offset="0.250" stop-color="#06a7c5"/><stop offset="0.333" stop-color="#0eaeba"/><stop offset="0.417" stop-color="#19b2b2"/><stop offset="0.500" stop-color="#26b5a9"/><stop offset="0.583" stop-color="#36b99f"/><stop offset="0.667" stop-color="#48bb95"/><stop offset="0.750" stop-color="#51bd8f"/><stop offset="0.833" stop-color="#5bbe8a"/><stop offset="0.917" stop-color="#65be85"/><stop offset="1.000" stop-color="#6fbf81"/></linearGradient><linearGradient id="gb39" x1="0" x2="1" y1="0" y2="0"><stop offset="0.000" stop-color="#128bd2"/><stop offset="0.083" stop-color="#0a97d1"/><stop offset="0.167" stop-color="#06a1cc"/><stop offset="0.250" stop-color="#06a8c4"/><stop offset="0.333" stop-color="#0faeb9"/><stop offset="0.417" stop-color="#1bb2b1"/><stop offset="0.500" stop-color="#28b6a7"/><stop offset="0.583" stop-color="#38b99e"/><stop offset="0.667" stop-color="#4abc93"/><stop offset="0.750" stop-color="#53bd8e"/><stop offset="0.833" stop-color="#5dbe89"/><stop offset="0.917" stop-color="#67be85"/><stop offset="1.000" stop-color="#71bf80"/></linearGradient><linearGradient id="gb40" x1="0" x2="1" y1="0" y2="0"><stop offset="0.000" stop-color="#118dd2"/><stop offset="0.083" stop-color="#0899d1"/><stop offset="0.167" stop-color="#06a2cb"/><stop offset="0.250" stop-color="#07a9c2"/><stop offset="0.333" stop-color="#11afb8"/><stop offset="0.417" stop-color="#1cb3af"/><stop offset="0.500" stop-color="#2ab6a6"/><stop offset="0.583" stop-color="#3ab99c"/><stop offset="0.667" stop-color="#4cbc92"/><stop offset="0.750" stop-color="#55bd8d"/><stop offset="0.833" stop-color="#5fbe88"/><stop offset="0.917" stop-color="#69be84"/><stop offset="1.000" stop-color="#73bf80"/></linearGradient><linearGradient id="gb41" x1="0" x2="1" y1="0" y2="0"><stop offset="0.000" stop-color="#108fd2"/><stop offset="0.083" stop-color="#089ad0"/><stop offset="0.167" stop-color="#06a3ca"/><stop offset="0.250" stop-color="#07aac1"/><stop offset="0.333" stop-color="#13b0b6"/><stop offset="0.417" stop-color="#1eb3ae"/><stop offset="0.500" stop-color="#2cb7a5"/><stop offset="0.583" stop-color="#3cba9b"/><stop offset="0.667" stop-color="#4ebc91"/><stop offset="0.750" stop-color="#57bd8c"/><stop offset="0.833" stop-color="#61be88"/><stop offset="0.917" stop-color="#6bbe83"/><stop offset="1.000" stop-color="#74bf7f"/></linearGradient><linearGradient id="gb42" x1="0" x2="1" y1="0" y2="0"><stop offset="0.000" stop-color="#0e91d2"/><stop offset="0.083" stop-color="#079cd0"/><stop offset="0.167" stop-color="#06a4c9"/><stop offset="0.250" stop-color="#08abc0"/><stop offset="0.333" stop-color="#14b0b5"/><stop offset="0.417" stop-color="#20b4ad"/><stop offset="0.500" stop-color="#2eb7a4"/><stop offset="0.583" stop-color="#3eba9a"/><stop offset="0.667" stop-color="#50bc90"/><stop offset="0.750" stop-color="#59bd8b"/><stop offset="0.833" stop-color="#63be87"/><stop offset="0.917" stop-color="#6dbf82"/><stop offset="1.000" stop-color="#76bf7e"/></linearGradient><linearGradient id="gb43" x1="0" x2="1" y1="0" y2="0"><stop offset="0.000" stop-color="#0d93d2"/><stop offset="0.083" stop-color="#079dcf"/><stop offset="0.167" stop-color="#06a5c8"/><stop offset="0.250" stop-color="#09abbe"/><stop offset="0.333" stop-color="#16b1b4"/><stop offset="0.417" stop-color="#22b4ab"/><stop offset="0.500" stop-color="#30b8a2"/><stop offset="0.583" stop-color="#40ba99"/><stop offset="0.667" stop-color="#52bd8f"/><stop offset="0.750" stop-color="#5cbe8a"/><stop offset="0.833" stop-color="#65be86"/><stop offset="0.917" stop-color="#6ebf81"/><stop offset="1.000" stop-color="#77bf7d"/></linearGradient><linearGradient id="gb44" x1="0" x2="1" y1="0" y2="0"><stop offset="0.000" stop-color="#0b95d2"/><stop offset="0.083" stop-color="#069fce"/><stop offset="0.167" stop-color="#06a6c7"/><stop offset="0.250" stop-color="#0aacbd"/><stop offset="0.333" stop-color="#18b1b2"/><stop offset="0.417" stop-color="#24b5aa"/><stop offset="0.500" stop-color="#33b8a1"/><stop offset="0.583" stop-color="#43bb97"/><stop offset="0.667" stop-color="#54bd8e"/><stop offset="0.750" stop-color="#5ebe89"/><stop offset="0.833" stop-color="#67be85"/><stop offset="0.917" stop-color="#70bf81"/><stop offset="1.000" stop-color="#79bf7d"/></linearGradient><linearGradient id="gb45" x1="0" x2="1" y1="0" y2="0"><stop offset="0.000" stop-color="#0a97d1"/><stop offset="0.083" stop-color="#06a0cd"/><stop offset="0.167" stop-color="#06a7c5"/><stop offset="0.250" stop-color="#0cadbc"/><stop offset="0.333" stop-color="#1ab2b1"/><stop offset="0.417" stop-color="#27b5a8"/><stop offset="0.500" stop-color="#35b89f"/><stop offset="0.583" stop-color="#45bb96"/><stop offset="0.667" stop-color="#57bd8c"/><stop offset="0.750" stop-color="#60be88"/><stop offset="0.833" stop-color="#69be84"/><stop offset="0.917" stop-color="#72bf80"/><stop offset="1.000" stop-color="#7bbf7c"/></linearGradient><linearGradient id="gb46" x1="0" x2="1" y1="0" y2="0"><stop offset="0.000" stop-color="#0899d1"/><stop offset="0.083" stop-color="#06a2cc"/><stop offset="0.167" stop-color="#06a8c4"/><stop offset="0.250" stop-color="#0eaeba"/><stop offset="0.333" stop-color="#1db3af"/><stop offset="0.417" stop-color="#2ab6a7"/><stop offset="0.500" stop-color="#38b99e"/><stop offset="0.583" stop-color="#48bb94"/><stop offset="0.667" stop-color="#5abd8b"/><stop offset="0.750" stop-color="#63be86"/><stop offset="0.833" stop-color="#6cbf82"/><stop offset="0.917" stop-color="#75bf7e"/><stop offset="1.000" stop-color="#7ebf7b"/></linearGradient><linearGradient id="gb47" x1="0" x2="1" y1="0" y2="0"><stop offset="0.000" stop-color="#089bd0"/><stop offset="0.083" stop-color="#06a3cb"/><stop offset="0.167" stop-color="#07a9c2"/><stop offset="0.250" stop-color="#10afb8"/><stop offset="0.333" stop-color="#1fb3ad"/><stop offset="0.417" stop-color="#2cb7a5"/><stop offset="0.500" stop-color="#3bb99c"/><stop offset="0.583" stop-color="#4bbc93"/><stop offset="0.667" stop-color="#5dbe89"/><stop offset="0.750" stop-color="#66be85"/><stop offset="0.833" stop-color="#6fbf81"/><stop offset="0.917" stop-color="#78bf7d"/><stop offset="1.000" stop-color="#81bf7a"/></linearGradient><linearGradient id="gb48" x1="0" x2="1" y1="0" y2="0"><stop offset="0.000" stop-color="#079ccf"/><stop offset="0.083" stop-color="#06a4c9"/><stop offset="0.167" stop-color="#08aac1"/><stop offset="0.250" stop-color="#12afb7"/><stop offset="0.333" stop-color="#22b4ac"/><stop offset="0.417" stop-color="#2fb7a3"/><stop offset="0.500" stop-color="#3eba9a"/><stop offset="0.583" stop-color="#4ebc91"/><stop offset="0.667" stop-color="#60be88"/><stop offset="0.750" stop-color="#69be84"/><stop offset="0.833" stop-color="#72bf80"/><stop offset="0.917" stop-color="#7bbf7c"/><stop offset="1.000" stop-color="#83bf79"/></linearGradient><linearGradient id="gb49" x1="0" x2="1" y1="0" y2="0"><stop offset="0.000" stop-color="#069ece"/><stop offset="0.083" stop-color="#06a5c8"/><stop offset="0.167" stop-color="#09abbf"/><stop offset="0.250" stop-color="#14b0b5"/><stop offset="0.333" stop-color="#24b5aa"/><stop offset="0.417" stop-color="#32b8a1"/><stop offset="0.500" stop-color="#41ba98"/><stop offset="0.583" stop-color="#52bd8f"/><stop offset="0.667" stop-color="#63be86"/><stop offset="0.750" stop-color="#6cbf82"/><stop offset="0.833" stop-color="#75bf7e"/><stop offset="0.917" stop-color="#7ebf7b"/><stop offset="1.000" stop-color="#86bf77"/></linearGradient><linearGradient id="gb50" x1="0" x2="1" y1="0" y2="0"><stop offset="0.000" stop-color="#06a0cd"/><stop offset="0.083" stop-color="#06a6c6"/><stop offset="0.167" stop-color="#0aacbd"/><stop offset="0.250" stop-color="#17b1b3"/><stop offset="0.333" stop-color="#27b5a8"/><stop offset="0.417" stop-color="#35b8a0"/><stop offset="0.500" stop-color="#44bb97"/><stop offset="0.583" stop-color="#55bd8e"/><stop offset="0.667" stop-color="#66be85"/><stop offset="0.750" stop-color="#6fbf81"/><stop offset="0.833" stop-color="#78bf7d"/><stop offset="0.917" stop-color="#80bf7a"/><stop offset="1.000" stop-color="#88bf76"/></linearGradient><linearGradient id="gb51" x1="0" x2="1" y1="0" y2="0"><stop offset="0.000" stop-color="#06a1cc"/><stop offset="0.083" stop-color="#06a8c5"/><stop offset="0.167" stop-color="#0cadbc"/><stop offset="0.250" stop-color="#19b2b2"/><stop offset="0.333" stop-color="#2ab6a6"/><stop offset="0.417" stop-color="#38b99e"/><stop offset="0.500" stop-color="#47bb95"/><stop offset="0.583" stop-color="#58bd8c"/><stop offset="0.667" stop-color="#6abe84"/><stop offset="0.750" stop-color="#72bf80"/><stop offset="0.833" stop-color="#7bbf7c"/><stop offset="0.917" stop-color="#83bf79"/><stop offset="1.000" stop-color="#8bbf75"/></linearGradient><linearGradient id="gb52" x1="0" x2="1" y1="0" y2="0"><stop offset="0.000" stop-color="#06a3cb"/><stop offset="0.083" stop-color="#07a9c3"/><stop offset="0.167" stop-color="#0eaeba"/><stop offset="0.250" stop-color="#1cb3b0"/><stop offset="0.333" stop-color="#2db7a4"/><stop offset="0.417" stop-color="#3bb99c"/><stop offset="0.500" stop-color="#4bbc93"/><stop offset="0.583" stop-color="#5bbe8a"/><stop offset="0.667" stop-color="#6dbf82"/><stop offset="0.750" stop-color="#75bf7e"/><stop offset="0.833" stop-color="#7ebf7b"/><stop offset="0.917" stop-color="#86bf78"/><stop offset="1.000" stop-color="#8dbf74"/></linearGradient><linearGradient id="gb53" x1="0" x2="1" y1="0" y2="0"><stop offset="0.000" stop-color="#06a4c9"/><stop offset="0.083" stop-color="#07aac1"/><stop offset="0.167" stop-color="#10afb8"/><stop offset="0.250" stop-color="#1eb3ae"/><stop offset="0.333" stop-color="#30b7a3"/><stop offset="0.417" stop-color="#3eba9a"/><stop offset="0.500" stop-color="#4ebc91"/><stop offset="0.583" stop-color="#5fbe89"/><stop offset="0.667" stop-color="#70bf81"/><stop offset="0.750" stop-color="#78bf7d"/><stop offset="0.833" stop-color="#80bf7a"/><stop offset="0.917" stop-color="#88bf76"/><stop offset="1.000" stop-color="#90bf73"/></linearGradient><linearGradient id="gb54" x1="0" x2="1" y1="0" y2="0"><stop offset="0.000" stop-color="#06a5c8"/><stop offset="0.083" stop-color="#08abc0"/><stop offset="0.167" stop-color="#12b0b6"/><stop offset="0.250" stop-color="#21b4ac"/><stop offset="0.333" stop-color="#33b8a1"/><stop offset="0.417" stop-color="#41ba98"/><stop offset="0.500" stop-color="#51bd8f"/><stop offset="0.583" stop-color="#62be87"/><stop offset="0.667" stop-color="#73bf7f"/><stop offset="0.750" stop-color="#7bbf7c"/><stop offset="0.833" stop-color="#83bf79"/><stop offset="0.917" stop-color="#8bbf75"/><stop offset="1.000" stop-color="#92bf72"/></linearGradient><linearGradient id="gb55" x1="0" x2="1" y1="0" y2="0"><stop offset="0.000" stop-color="#06a6c6"/><stop offset="0.083" stop-color="#0aacbe"/><stop offset="0.167" stop-color="#15b0b5"/><stop offset="0.250" stop-color="#24b5aa"/><stop offset="0.333" stop-color="#36b99f"/><stop offset="0.417" stop-color="#45bb96"/><stop offset="0.500" stop-color="#55bd8e"/><stop offset="0.583" stop-color="#65be86"/><stop offset="0.667" stop-color="#76bf7e"/><stop offset="0.750" stop-color="#7ebf7b"/><stop offset="0.833" stop-color="#86bf77"/><stop offset="0.917" stop-color="#8dbf74"/><stop offset="1.000" stop-color="#95bf71"/></linearGradient><linearGradient id="gb56" x1="0" x2="1" y1="0" y2="0"><stop offset="0.000" stop-color="#06a8c5"/><stop offset="0.083" stop-color="#0badbc"/><stop offset="0.167" stop-color="#17b1b3"/><stop offset="0.250" stop-color="#27b5a8"/><stop offset="0.333" stop-color="#39b99d"/><stop offset="0.417" stop-color="#48bb94"/><stop offset="0.500" stop-color="#58bd8c"/><stop offset="0.583" stop-color="#68be84"/><stop offset="0.667" stop-color="#79bf7d"/><stop offset="0.750" stop-color="#81bf7a"/><stop offset="0.833" stop-color="#88bf76"/><stop offset="0.917" stop-color="#90bf73"/><stop offset="1.000" stop-color="#97bf70"/></linearGradient><linearGradient id="gb57" x1="0" x2="1" y1="0" y2="0"><stop offset="0.000" stop-color="#07a9c3"/><stop offset="0.083" stop-color="#0eaeba"/><stop offset="0.167" stop-color="#1ab2b1"/><stop offset="0.250" stop-color="#2ab6a6"/><stop offset="0.333" stop-color="#3dba9b"/><stop offset="0.417" stop-color="#4bbc93"/><stop offset="0.500" stop-color="#5bbe8a"/><stop offset="0.583" stop-color="#6cbf83"/><stop offset="0.667" stop-color="#7cbf7c"/><stop offset="0.750" stop-color="#83bf78"/><stop offset="0.833" stop-color="#8bbf75"/><stop offset="0.917" stop-color="#92bf72"/><stop offset="1.000" stop-color="#99bf6f"/></linearGradient><linearGradient id="gb58" x1="0" x2="1" y1="0" y2="0"><stop offset="0.000" stop-color="#07aac1"/><stop offset="0.083" stop-color="#10afb8"/><stop offset="0.167" stop-color="#1db3af"/><stop offset="0.250" stop-color="#2db7a4"/><stop offset="0.333" stop-color="#40ba99"/><stop offset="0.417" stop-color="#4fbc91"/><stop offset="0.500" stop-color="#5fbe89"/><stop offset="0.583" stop-color="#6fbf81"/><stop offset="0.667" stop-color="#7ebf7a"/><stop offset="0.750" stop-color="#86bf77"/><stop offset="0.833" stop-color="#8ebf74"/><stop offset="0.917" stop-color="#95bf71"/><stop offset="1.000" stop-color="#9cbf6f"/></linearGradient><linearGradient id="gb59" x1="0" x2="1" y1="0" y2="0"><stop offset="0.000" stop-color="#09abbf"/><stop offset="0.083" stop-color="#12b0b7"/><stop offset="0.167" stop-color="#20b4ad"/><stop offset="0.250" stop-color="#30b7a2"/><stop offset="0.333" stop-color="#43bb97"/><stop offset="0.417" stop-color="#53bd8f"/><stop offset="0.500" stop-color="#62be87"/><stop offset="0.583" stop-color="#72bf80"/><stop offset="0.667" stop-color="#81bf79"/><stop offset="0.750" stop-color="#89bf76"/><stop offset="0.833" stop-color="#90bf73"/><stop offset="0.917" stop-color="#97bf70"/><stop offset="1.000" stop-color="#9ebe6e"/></linearGradient><linearGradient id="gb60" x1="0" x2="1" y1="0" y2="0"><stop offset="0.000" stop-color="#0aacbd"/><stop offset="0.083" stop-color="#15b0b5"/><stop offset="0.167" stop-color="#23b4ab"/><stop offset="0.250" stop-color="#34b8a0"/><stop offset="0.333" stop-color="#47bb95"/><stop offset="0.417" stop-color="#56bd8d"/><stop offset="0.500" stop-color="#66be85"/><stop offset="0.583" stop-color="#75bf7e"/><stop offset="0.667" stop-color="#84bf78"/><stop offset="0.750" stop-color="#8bbf75"/><stop offset="0.833" stop-color="#93bf72"/><stop offset="0.917" stop-color="#99bf6f"/><stop offset="1.000" stop-color="#a0be6d"/></linearGradient><linearGradient id="gb61" x1="0" x2="1" y1="0" y2="0"><stop offset="0.000" stop-color="#0cadbb"/><stop offset="0.083" stop-color="#18b1b3"/><stop offset="0.167" stop-color="#26b5a9"/><stop offset="0.250" stop-color="#37b99e"/><stop offset="0.333" stop-color="#4bbc93"/><stop offset="0.417" stop-color="#5abd8b"/><stop offset="0.500" stop-color="#69be84"/><stop offset="0.583" stop-color="#79bf7d"/><stop offset="0.667" stop-color="#87bf77"/><stop offset="0.750" stop-color="#8ebf74"/><stop offset="0.833" stop-color="#95bf71"/><stop offset="0.917" stop-color="#9cbf6e"/><stop offset="1.000" stop-color="#a2be6c"/></linearGradient><linearGradient id="gb62" x1="0" x2="1" y1="0" y2="0"><stop offset="0.000" stop-color="#0eaeba"/><stop offset="0.083" stop-color="#1bb2b1"/><stop offset="0.167" stop-color="#29b6a7"/><stop offset="0.250" stop-color="#3bb99c"/><stop offset="0.333" stop-color="#4ebc91"/><stop offset="0.417" stop-color="#5dbe89"/><stop offset="0.500" stop-color="#6dbf82"/><stop offset="0.583" stop-color="#7cbf7c"/><stop offset="0.667" stop-color="#8abf76"/><stop offset="0.750" stop-color="#91bf73"/><stop offset="0.833" stop-color="#98bf70"/><stop offset="0.917" stop-color="#9ebe6e"/><stop offset="1.000" stop-color="#a5be6b"/></linearGradient><linearGradient id="gb63" x1="0" x2="1" y1="0" y2="0"><stop offset="0.000" stop-color="#11afb8"/><stop offset="0.083" stop-color="#1eb3ae"/><stop offset="0.167" stop-color="#2db7a5"/><stop offset="0.250" stop-color="#3eba9a"/><stop offset="0.333" stop-color="#52bd8f"/><stop offset="0.417" stop-color="#61be88"/><stop offset="0.500" stop-color="#70bf81"/><stop offset="0.583" stop-color="#7fbf7a"/><stop offset="0.667" stop-color="#8cbf75"/><stop offset="0.750" stop-color="#93bf72"/><stop offset="0.833" stop-color="#9abf6f"/><stop offset="0.917" stop-color="#a1be6d"/><stop offset="1.000" stop-color="#a7be6a"/></linearGradient><linearGradient id="gb64" x1="0" x2="1" y1="0" y2="0"><stop offset="0.000" stop-color="#14b0b5"/><stop offset="0.083" stop-color="#21b4ac"/><stop offset="0.167" stop-color="#30b7a2"/><stop offset="0.250" stop-color="#42bb98"/><stop offset="0.333" stop-color="#56bd8d"/><stop offset="0.417" stop-color="#65be86"/><stop offset="0.500" stop-color="#74bf7f"/><stop offset="0.583" stop-color="#82bf79"/><stop offset="0.667" stop-color="#8fbf74"/><stop offset="0.750" stop-color="#96bf71"/><stop offset="0.833" stop-color="#9cbf6e"/><stop offset="0.917" stop-color="#a3be6c"/><stop offset="1.000" stop-color="#a9be69"/></linearGradient><linearGradient id="gb65" x1="0" x2="1" y1="0" y2="0"><stop offset="0.000" stop-color="#17b1b3"/><stop offset="0.083" stop-color="#24b5aa"/><stop offset="0.167" stop-color="#34b8a0"/><stop offset="0.250" stop-color="#46bb96"/><stop offset="0.333" stop-color="#59bd8b"/><stop offset="0.417" stop-color="#68be84"/><stop offset="0.500" stop-color="#77bf7e"/><stop offset="0.583" stop-color="#85bf78"/><stop offset="0.667" stop-color="#92bf73"/><stop offset="0.750" stop-color="#98bf70"/><stop offset="0.833" stop-color="#9fbe6d"/><stop offset="0.917" stop-color="#a5be6b"/><stop offset="1.000" stop-color="#abbe68"/></linearGradient><linearGradient id="gb66" x1="0" x2="1" y1="0" y2="0"><stop offset="0.000" stop-color="#1ab2b1"/><stop offset="0.083" stop-color="#27b6a8"/><stop offset="0.167" stop-color="#37b99e"/><stop offset="0.250" stop-color="#49bc94"/><stop offset="0.333" stop-color="#5dbe89"/><stop offset="0.417" stop-color="#6cbf82"/><stop offset="0.500" stop-color="#7abf7c"/><stop offset="0.583" stop-color="#88bf77"/><stop offset="0.667" stop-color="#94bf72"/><stop offset="0.750" stop-color="#9bbf6f"/><stop offset="0.833" stop-color="#a1be6c"/><stop offset="0.917" stop-color="#a7be6a"/><stop offset="1.000" stop-color="#aebe67"/></linearGradient><linearGradient id="gb67" x1="0" x2="1" y1="0" y2="0"><stop offset="0.000" stop-color="#1db3af"/><stop offset="0.083" stop-color="#2bb6a6"/><stop offset="0.167" stop-color="#3bb99c"/><stop offset="0.250" stop-color="#4dbc92"/><stop offset="0.333" stop-color="#61be87"/><stop offset="0.417" stop-color="#70bf81"/><stop offset="0.500" stop-color="#7dbf7b"/><stop offset="0.583" stop-color="#8bbf75"/><stop offset="0.667" stop-color="#97bf70"/><stop offset="0.750" stop-color="#9dbe6e"/><stop offset="0.833" stop-color="#a4be6b"/><stop offset="0.917" stop-color="#aabe69"/><stop offset="1.000" stop-color="#b0bd67"/></linearGradient><linearGradient id="gb68" x1="0" x2="1" y1="0" y2="0"><stop offset="0.000" stop-color="#20b4ad"/><stop offset="0.083" stop-color="#2eb7a3"/><stop offset="0.167" stop-color="#3fba9a"/><stop offset="0.250" stop-color="#51bd8f"/><stop offset="0.333" stop-color="#65be86"/><stop offset="0.417" stop-color="#73bf7f"/><stop offset="0.500" stop-color="#81bf7a"/><stop offset="0.583" stop-color="#8dbf74"/><stop offset="0.667" stop-color="#99bf6f"/><stop offset="0.750" stop-color="#a0be6d"/><stop offset="0.833" stop-color="#a6be6a"/><stop offset="0.917" stop-color="#acbe68"/><stop offset="1.000" stop-color="#b2bd66"/></linearGradient><linearGradient id="gb69" x1="0" x2="1" y1="0" y2="0"><stop offset="0.000" stop-color="#24b5aa"/><stop offset="0.083" stop-color="#32b8a1"/><stop offset="0.167" stop-color="#43bb97"/><stop offset="0.250" stop-color="#55bd8d"/><stop offset="0.333" stop-color="#69be84"/><stop offset="0.417" stop-color="#77bf7e"/><stop offset="0.500" stop-color="#84bf78"/><stop offset="0.583" stop-color="#90bf73"/><stop offset="0.667" stop-color="#9cbf6e"/><stop offset="0.750" stop-color="#a2be6c"/><stop offset="0.833" stop-color="#a8be6a"/><stop offset="0.917" stop-color="#aebe67"/><stop offset="1.000" stop-color="#b4bd65"/></linearGradient><linearGradient id="gb70" x1="0" x2="1" y1="0" y2="0"><stop offset="0.000" stop-color="#27b5a8"/><stop offset="0.083" stop-color="#36b99f"/><stop offset="0.167" stop-color="#47bb95"/><stop offset="0.250" stop-color="#59bd8b"/><stop offset="0.333" stop-color="#6dbf82"/><stop offset="0.417" stop-color="#7abf7c"/><stop offset="0.500" stop-color="#87bf77"/><stop offset="0.583" stop-color="#93bf72"/><stop offset="0.667" stop-color="#9ebe6d"/><stop offset="0.750" stop-color="#a5be6b"/><stop offset="0.833" stop-color="#aabe69"/><stop offset="0.917" stop-color="#b0bd66"/><stop offset="1.000" stop-color="#b6bd64"/></linearGradient><linearGradient id="gb71" x1="0" x2="1" y1="0" y2="0"><stop offset="0.000" stop-color="#2bb6a6"/><stop offset="0.083" stop-color="#3ab99c"/><stop offset="0.167" stop-color="#4bbc93"/><stop offset="0.250" stop-color="#5ebe89"/><stop offset="0.333" stop-color="#70bf80"/><stop offset="0.417" stop-color="#7ebf7b"/><stop offset="0.500" stop-color="#8abf76"/><stop offset="0.583" stop-color="#96bf71"/><stop offset="0.667" stop-color="#a1be6c"/><stop offset="0.750" stop-color="#a7be6a"/><stop offset="0.833" stop-color="#adbe68"/><stop offset="0.917" stop-color="#b2bd65"/><stop offset="1.000" stop-color="#b8bd63"/></linearGradient><linearGradient id="gb72" x1="0" x2="1" y1="0" y2="0"><stop offset="0.000" stop-color="#2fb7a3"/><stop offset="0.083" stop-color="#3eba9a"/><stop offset="0.167" stop-color="#4fbc90"/><stop offset="0.250" stop-color="#62be87"/><stop offset="0.333" stop-color="#74bf7f"/><stop offset="0.417" stop-color="#81bf79"/><stop offset="0.500" stop-color="#8dbf74"/><stop offset="0.583" stop-color="#98bf70"/><stop offset="0.667" stop-color="#a3be6b"/><stop offset="0.750" stop-color="#a9be69"/><stop offset="0.833" stop-color="#afbe67"/><stop offset="0.917" stop-color="#b5bd65"/><stop offset="1.000" stop-color="#babd62"/></linearGradient><linearGradient id="gb73" x1="0" x2="1" y1="0" y2="0"><stop offset="0.000" stop-color="#33b8a1"/><stop offset="0.083" stop-color="#42bb98"/><stop offset="0.167" stop-color="#54bd8e"/><stop offset="0.250" stop-color="#66be85"/><stop offset="0.333" stop-color="#78bf7d"/><stop offset="0.417" stop-color="#84bf78"/><stop offset="0.500" stop-color="#90bf73"/><stop offset="0.583" stop-color="#9bbf6f"/><stop offset="0.667" stop-color="#a6be6b"/><stop offset="0.750" stop-color="#acbe68"/><stop offset="0.833" stop-color="#b1bd66"/><stop offset="0.917" stop-color="#b7bd64"/><stop offset="1.000" stop-color="#bcbd62"/></linearGradient><linearGradient id="gb74" x1="0" x2="1" y1="0" y2="0"><stop offset="0.000" stop-color="#37b99e"/><stop offset="0.083" stop-color="#47bb95"/><stop offset="0.167" stop-color="#58bd8c"/><stop offset="0.250" stop-color="#6abe83"/><stop offset="0.333" stop-color="#7cbf7c"/><stop offset="0.417" stop-color="#88bf77"/><stop offset="0.500" stop-color="#93bf72"/><stop offset="0.583" stop-color="#9ebe6e"/><stop offset="0.667" stop-color="#a8be6a"/><stop offset="0.750" stop-color="#aebe67"/><stop offset="0.833" stop-color="#b3bd65"/><stop offset="0.917" stop-color="#b9bd63"/><stop offset="1.000" stop-color="#bebc61"/></linearGradient><linearGradient id="gb75" x1="0" x2="1" y1="0" y2="0"><stop offset="0.000" stop-color="#3bb99c"/><stop offset="0.083" stop-color="#4bbc93"/><stop offset="0.167" stop-color="#5cbe8a"/><stop offset="0.250" stop-color="#6ebf82"/><stop offset="0.333" stop-color="#7fbf7a"/><stop offset="0.417" stop-color="#8bbf75"/><stop offset="0.500" stop-color="#96bf71"/><stop offset="0.583" stop-color="#a0be6d"/><stop offset="0.667" stop-color="#abbe69"/><stop offset="0.750" stop-color="#b0bd66"/><stop offset="0.833" stop-color="#b6bd64"/><stop offset="0.917" stop-color="#bbbd62"/><stop offset="1.000" stop-color="#c0bc60"/></linearGradient><linearGradient id="gb76" x1="0" x2="1" y1="0" y2="0"><stop offset="0.000" stop-color="#3fba99"/><stop offset="0.083" stop-color="#50bc90"/><stop offset="0.167" stop-color="#61be88"/><stop offset="0.250" stop-color="#72bf80"/><stop offset="0.333" stop-color="#83bf79"/><stop offset="0.417" stop-color="#8ebf74"/><stop offset="0.500" stop-color="#99bf70"/><stop offset="0.583" stop-color="#a3be6c"/><stop offset="0.667" stop-color="#adbe68"/><stop offset="0.750" stop-color="#b2bd65"/><stop offset="0.833" stop-color="#b8bd63"/><stop offset="0.917" stop-color="#bdbd61"/><stop offset="1.000" stop-color="#c2bc5f"/></linearGradient><linearGradient id="gb77" x1="0" x2="1" y1="0" y2="0"><stop offset="0.000" stop-color="#44bb97"/><stop offset="0.083" stop-color="#54bd8e"/><stop offset="0.167" stop-color="#65be86"/><stop offset="0.250" stop-color="#76bf7e"/><stop offset="0.333" stop-color="#86bf77"/><stop offset="0.417" stop-color="#91bf73"/><stop offset="0.500" stop-color="#9cbf6f"/><stop offset="0.583" stop-color="#a6be6b"/><stop offset="0.667" stop-color="#afbe67"/><stop offset="0.750" stop-color="#b5bd65"/><stop offset="0.833" stop-color="#babd62"/><stop offset="0.917" stop-color="#bfbc60"/><stop offset="1.000" stop-color="#c4bc5e"/></linearGradient><linearGradient id="gb78" x1="0" x2="1" y1="0" y2="0"><stop offset="0.000" stop-color="#49bb94"/><stop offset="0.083" stop-color="#59bd8c"/><stop offset="0.167" stop-color="#6abe84"/><stop offset="0.250" stop-color="#7abf7c"/><stop offset="0.333" stop-color="#89bf76"/><stop offset="0.417" stop-color="#94bf72"/><stop offset="0.500" stop-color="#9ebe6d"/><stop offset="0.583" stop-color="#a8be6a"/><stop offset="0.667" stop-color="#b2bd66"/><stop offset="0.750" stop-color="#b7bd64"/><stop offset="0.833" stop-color="#bcbd62"/><stop offset="0.917" stop-color="#c1bc5f"/><stop offset="1.000" stop-color="#c6bc5d"/></linearGradient><linearGradient id="gb79" x1="0" x2="1" y1="0" y2="0"><stop offset="0.000" stop-color="#4dbc92"/><stop offset="0.083" stop-color="#5ebe89"/><stop offset="0.167" stop-color="#6ebf82"/><stop offset="0.250" stop-color="#7ebf7b"/><stop offset="0.333" stop-color="#8dbf75"/><stop offset="0.417" stop-color="#97bf70"/><stop offset="0.500" stop-color="#a1be6c"/><stop offset="0.583" stop-color="#abbe69"/><stop offset="0.667" stop-color="#b4bd65"/><stop offset="0.750" stop-color="#b9bd63"/><stop offset="0.833" stop-color="#bebc61"/><stop offset="0.917" stop-color="#c3bc5f"/><stop offset="1.000" stop-color="#c8bc5d"/></linearGradient><linearGradient id="gb80" x1="0" x2="1" y1="0" y2="0"><stop offset="0.000" stop-color="#52bd8f"/><stop offset="0.083" stop-color="#62be87"/><stop offset="0.167" stop-color="#72bf80"/><stop offset="0.250" stop-color="#82bf79"/><stop offset="0.333" stop-color="#90bf73"/><stop offset="0.417" stop-color="#9abf6f"/><stop offset="0.500" stop-color="#a4be6b"/><stop offset="0.583" stop-color="#adbe68"/><stop offset="0.667" stop-color="#b6bd64"/><stop offset="0.750" stop-color="#bbbd62"/><stop offset="0.833" stop-color="#c0bc60"/><stop offset="0.917" stop-color="#c5bc5e"/><stop offset="1.000" stop-color="#cabb5c"/></linearGradient><linearGradient id="gb81" x1="0" x2="1" y1="0" y2="0"><stop offset="0.000" stop-color="#57bd8c"/><stop offset="0.083" stop-color="#67be85"/><stop offset="0.167" stop-color="#77bf7e"/><stop offset="0.250" stop-color="#86bf78"/><stop offset="0.333" stop-color="#93bf72"/><stop offset="0.417" stop-color="#9dbe6e"/><stop offset="0.500" stop-color="#a7be6a"/><stop offset="0.583" stop-color="#b0bd67"/><stop offset="0.667" stop-color="#b8bd63"/><stop offset="0.750" stop-color="#bebc61"/><stop offset="0.833" stop-color="#c3bc5f"/><stop offset="0.917" stop-color="#c8bc5d"/><stop offset="1.000" stop-color="#ccbb5b"/></linearGradient><linearGradient id="gb82" x1="0" x2="1" y1="0" y2="0"><stop offset="0.000" stop-color="#5cbe8a"/><stop offset="0.083" stop-color="#6cbf83"/><stop offset="0.167" stop-color="#7bbf7c"/><stop offset="0.250" stop-color="#89bf76"/><stop offset="0.333" stop-color="#97bf71"/><stop offset="0.417" stop-color="#a0be6d"/><stop offset="0.500" stop-color="#a9be69"/><stop offset="0.583" stop-color="#b2bd66"/><stop offset="0.667" stop-color="#bbbd62"/><stop offset="0.750" stop-color="#c0bc60"/><stop offset="0.833" stop-color="#c5bc5e"/><stop offset="0.917" stop-color="#cabb5c"/><stop offset="1.000" stop-color="#cebb5a"/></linearGradient><linearGradient id="gb83" x1="0" x2="1" y1="0" y2="0"><stop offset="0.000" stop-color="#61be87"/><stop offset="0.083" stop-color="#70bf80"/><stop offset="0.167" stop-color="#7fbf7a"/><stop offset="0.250" stop-color="#8dbf75"/><stop offset="0.333" stop-color="#9abf6f"/><stop offset="0.417" stop-color="#a3be6c"/><stop offset="0.500" stop-color="#acbe68"/><stop offset="0.583" stop-color="#b5bd65"/><stop offset="0.667" stop-color="#bdbd61"/><stop offset="0.750" stop-color="#c2bc5f"/><stop offset="0.833" stop-color="#c7bc5d"/><stop offset="0.917" stop-color="#ccbb5b"/><stop offset="1.000" stop-color="#d0bb59"/></linearGradient><linearGradient id="gb84" x1="0" x2="1" y1="0" y2="0"><stop offset="0.000" stop-color="#66be85"/><stop offset="0.083" stop-color="#75bf7e"/><stop offset="0.167" stop-color="#83bf79"/><stop offset="0.250" stop-color="#90bf73"/><stop offset="0.333" stop-color="#9dbf6e"/><stop offset="0.417" stop-color="#a6be6a"/><stop offset="0.500" stop-color="#afbe67"/><stop offset="0.583" stop-color="#b7bd64"/><stop offset="0.667" stop-color="#bfbc60"/><stop offset="0.750" stop-color="#c4bc5e"/><stop offset="0.833" stop-color="#c9bc5c"/><stop offset="0.917" stop-color="#cebb5a"/><stop offset="1.000" stop-color="#d2bb58"/></linearGradient><linearGradient id="gb85" x1="0" x2="1" y1="0" y2="0"><stop offset="0.000" stop-color="#6bbf83"/><stop offset="0.083" stop-color="#7abf7d"/><stop offset="0.167" stop-color="#87bf77"/><stop offset="0.250" stop-color="#94bf72"/><stop offset="0.333" stop-color="#a0be6d"/><stop offset="0.417" stop-color="#a9be69"/><stop offset="0.500" stop-color="#b1bd66"/><stop offset="0.583" stop-color="#b9bd63"/><stop offset="0.667" stop-color="#c1bc5f"/><stop offset="0.750" stop-color="#c6bc5e"/><stop offset="0.833" stop-color="#cbbb5c"/><stop offset="0.917" stop-color="#d0bb5a"/><stop offset="1.000" stop-color="#d4bb58"/></linearGradient><linearGradient id="gb86" x1="0" x2="1" y1="0" y2="0"><stop offset="0.000" stop-color="#70bf81"/><stop offset="0.083" stop-color="#7ebf7b"/><stop offset="0.167" stop-color="#8bbf75"/><stop offset="0.250" stop-color="#97bf70"/><stop offset="0.333" stop-color="#a3be6c"/><stop offset="0.417" stop-color="#acbe68"/><stop offset="0.500" stop-color="#b4bd65"/><stop offset="0.583" stop-color="#bcbd62"/><stop offset="0.667" stop-color="#c4bc5f"/><stop offset="0.750" stop-color="#c8bc5d"/><stop offset="0.833" stop-color="#cdbb5b"/><stop offset="0.917" stop-color="#d2bb59"/><stop offset="1.000" stop-color="#d6ba57"/></linearGradient><linearGradient id="gb87" x1="0" x2="1" y1="0" y2="0"><stop offset="0.000" stop-color="#75bf7e"/><stop offset="0.083" stop-color="#82bf79"/><stop offset="0.167" stop-color="#8fbf74"/><stop offset="0.250" stop-color="#9bbf6f"/><stop offset="0.333" stop-color="#a6be6a"/><stop offset="0.417" stop-color="#aebe67"/><stop offset="0.500" stop-color="#b6bd64"/><stop offset="0.583" stop-color="#bebc61"/><stop offset="0.667" stop-color="#c6bc5e"/><stop offset="0.750" stop-color="#cabb5c"/><stop offset="0.833" stop-color="#cfbb5a"/><stop offset="0.917" stop-color="#d4bb58"/><stop offset="1.000" stop-color="#d8ba56"/></linearGradient><linearGradient id="gb88" x1="0" x2="1" y1="0" y2="0"><stop offset="0.000" stop-color="#7abf7c"/><stop offset="0.083" stop-color="#87bf77"/><stop offset="0.167" stop-color="#93bf72"/><stop offset="0.250" stop-color="#9ebe6e"/><stop offset="0.333" stop-color="#a9be69"/><stop offset="0.417" stop-color="#b1bd66"/><stop offset="0.500" stop-color="#b9bd63"/><stop offset="0.583" stop-color="#c0bc60"/><stop offset="0.667" stop-color="#c8bc5d"/><stop offset="0.750" stop-color="#cdbb5b"/><stop offset="0.833" stop-color="#d1bb59"/><stop offset="0.917" stop-color="#d6ba57"/><stop offset="1.000" stop-color="#daba55"/></linearGradient><linearGradient id="gb89" x1="0" x2="1" y1="0" y2="0"><stop offset="0.000" stop-color="#7fbf7a"/><stop offset="0.083" stop-color="#8bbf75"/><stop offset="0.167" stop-color="#96bf71"/><stop offset="0.250" stop-color="#a1be6c"/><stop offset="0.333" stop-color="#acbe68"/><stop offset="0.417" stop-color="#b4bd65"/><stop offset="0.500" stop-color="#bbbd62"/><stop offset="0.583" stop-color="#c3bc5f"/><stop offset="0.667" stop-color="#cabb5c"/><stop offset="0.750" stop-color="#cfbb5a"/><stop offset="0.833" stop-color="#d3bb58"/><stop offset="0.917" stop-color="#d8ba56"/><stop offset="1.000" stop-color="#dcba54"/></linearGradient><linearGradient id="gb90" x1="0" x2="1" y1="0" y2="0"><stop offset="0.000" stop-color="#84bf78"/><stop offset="0.083" stop-color="#90bf73"/><stop offset="0.167" stop-color="#9bbf6f"/><stop offset="0.250" stop-color="#a5be6b"/><stop offset="0.333" stop-color="#afbe67"/><stop offset="0.417" stop-color="#b7bd64"/><stop offset="0.500" stop-color="#bebc61"/><stop offset="0.583" stop-color="#c5bc5e"/><stop offset="0.667" stop-color="#ccbb5b"/><stop offset="0.750" stop-color="#d1bb59"/><stop offset="0.833" stop-color="#d5ba57"/><stop offset="0.917" stop-color="#daba55"/><stop offset="1.000" stop-color="#deba53"/></linearGradient><linearGradient id="gb91" x1="0" x2="1" y1="0" y2="0"><stop offset="0.000" stop-color="#8abf76"/><stop offset="0.083" stop-color="#95bf71"/><stop offset="0.167" stop-color="#9fbe6d"/><stop offset="0.250" stop-color="#a9be69"/><stop offset="0.333" stop-color="#b3bd65"/><stop offset="0.417" stop-color="#babd62"/><stop offset="0.500" stop-color="#c1bc60"/><stop offset="0.583" stop-color="#c8bc5d"/><stop offset="0.667" stop-color="#cfbb5a"/><stop offset="0.750" stop-color="#d3bb58"/><stop offset="0.833" stop-color="#d7ba56"/><stop offset="0.917" stop-color="#dbba55"/><stop offset="1.000" stop-color="#dfba53"/></linearGradient><linearGradient id="gb92" x1="0" x2="1" y1="0" y2="0"><stop offset="0.000" stop-color="#8fbf73"/><stop offset="0.083" stop-color="#9abf6f"/><stop offset="0.167" stop-color="#a4be6b"/><stop offset="0.250" stop-color="#adbe68"/><stop offset="0.333" stop-color="#b6bd64"/><stop offset="0.417" stop-color="#bdbd61"/><stop offset="0.500" stop-color="#c4bc5f"/><stop offset="0.583" stop-color="#cabb5c"/><stop offset="0.667" stop-color="#d1bb59"/><stop offset="0.750" stop-color="#d5ba57"/><stop offset="0.833" stop-color="#d9ba56"/><stop offset="0.917" stop-color="#ddba54"/><stop offset="1.000" stop-color="#e1b952"/></linearGradient><linearGradient id="gb93" x1="0" x2="1" y1="0" y2="0"><stop offset="0.000" stop-color="#95bf71"/><stop offset="0.083" stop-color="#9fbe6d"/><stop offset="0.167" stop-color="#a8be6a"/><stop offset="0.250" stop-color="#b1bd66"/><stop offset="0.333" stop-color="#babd63"/><stop offset="0.417" stop-color="#c0bc60"/><stop offset="0.500" stop-color="#c7bc5d"/><stop offset="0.583" stop-color="#cdbb5b"/><stop offset="0.667" stop-color="#d3bb58"/><stop offset="0.750" stop-color="#d7ba56"/><stop offset="0.833" stop-color="#dbba55"/><stop offset="0.917" stop-color="#dfba53"/><stop offset="1.000" stop-color="#e3b951"/></linearGradient><linearGradient id="gb94" x1="0" x2="1" y1="0" y2="0"><stop offset="0.000" stop-color="#9abf6f"/><stop offset="0.083" stop-color="#a3be6b"/><stop offset="0.167" stop-color="#acbe68"/><stop offset="0.250" stop-color="#b5bd65"/><stop offset="0.333" stop-color="#bdbd61"/><stop offset="0.417" stop-color="#c3bc5f"/><stop offset="0.500" stop-color="#c9bb5c"/><stop offset="0.583" stop-color="#cfbb5a"/><stop offset="0.667" stop-color="#d5ba57"/><stop offset="0.750" stop-color="#d9ba56"/><stop offset="0.833" stop-color="#ddba54"/><stop offset="0.917" stop-color="#e0ba52"/><stop offset="1.000" stop-color="#e4b950"/></linearGradient><linearGradient id="gb95" x1="0" x2="1" y1="0" y2="0"><stop offset="0.000" stop-color="#a0be6d"/><stop offset="0.083" stop-color="#a8be6a"/><stop offset="0.167" stop-color="#b0bd66"/><stop offset="0.250" stop-color="#b9bd63"/><stop offset="0.333" stop-color="#c0bc60"/><stop offset="0.417" stop-color="#c6bc5d"/><stop offset="0.500" stop-color="#ccbb5b"/><stop offset="0.583" stop-color="#d2bb59"/><stop offset="0.667" stop-color="#d8ba56"/><stop offset="0.750" stop-color="#dbba55"/><stop offset="0.833" stop-color="#dfba53"/><stop offset="0.917" stop-color="#e2b951"/><stop offset="1.000" stop-color="#e6b950"/></linearGradient><linearGradient id="gb96" x1="0" x2="1" y1="0" y2="0"><stop offset="0.000" stop-color="#a5be6b"/><stop offset="0.083" stop-color="#adbe68"/><stop offset="0.167" stop-color="#b5bd65"/><stop offset="0.250" stop-color="#bcbd62"/><stop offset="0.333" stop-color="#c4bc5f"/><stop offset="0.417" stop-color="#c9bb5c"/><stop offset="0.500" stop-color="#cfbb5a"/><stop offset="0.583" stop-color="#d4bb58"/><stop offset="0.667" stop-color="#daba55"/><stop offset="0.750" stop-color="#ddba54"/><stop offset="0.833" stop-color="#e1ba52"/><stop offset="0.917" stop-color="#e4b951"/><stop offset="1.000" stop-color="#e7b94f"/></linearGradient><linearGradient id="gb97" x1="0" x2="1" y1="0" y2="0"><stop offset="0.000" stop-color="#aabe69"/><stop offset="0.083" stop-color="#b1bd66"/><stop offset="0.167" stop-color="#b9bd63"/><stop offset="0.250" stop-color="#c0bc60"/><stop offset="0.333" stop-color="#c7bc5d"/><stop offset="0.417" stop-color="#ccbb5b"/><stop offset="0.500" stop-color="#d2bb59"/><stop offset="0.583" stop-color="#d7ba57"/><stop offset="0.667" stop-color="#dcba54"/><stop offset="0.750" stop-color="#dfba53"/><stop offset="0.833" stop-color="#e2b951"/><stop offset="0.917" stop-color="#e6b950"/><stop offset="1.000" stop-color="#e9b94e"/></linearGradient><linearGradient id="gb98" x1="0" x2="1" y1="0" y2="0"><stop offset="0.000" stop-color="#afbe67"/><stop offset="0.083" stop-color="#b6bd64"/><stop offset="0.167" stop-color="#bdbd61"/><stop offset="0.250" stop-color="#c4bc5f"/><stop offset="0.333" stop-color="#cabb5c"/><stop offset="0.417" stop-color="#cfbb5a"/><stop offset="0.500" stop-color="#d4bb58"/><stop offset="0.583" stop-color="#d9ba56"/><stop offset="0.667" stop-color="#deba53"/><stop offset="0.750" stop-color="#e1b952"/><stop offset="0.833" stop-color="#e4b950"/><stop offset="0.917" stop-color="#e7b94f"/><stop offset="1.000" stop-color="#eab94d"/></linearGradient><linearGradient id="gb99" x1="0" x2="1" y1="0" y2="0"><stop offset="0.000" stop-color="#b4bd65"/><stop offset="0.083" stop-color="#babd62"/><stop offset="0.167" stop-color="#c1bc60"/><stop offset="0.250" stop-color="#c7bc5d"/><stop offset="0.333" stop-color="#cebb5b"/><stop offset="0.417" stop-color="#d2bb59"/><stop offset="0.500" stop-color="#d7ba56"/><stop offset="0.583" stop-color="#dcba54"/><stop offset="0.667" stop-color="#e0ba52"/><stop offset="0.750" stop-color="#e3b951"/><stop offset="0.833" stop-color="#e6b94f"/><stop offset="0.917" stop-color="#e9b94e"/><stop offset="1.000" stop-color="#ecb94c"/></linearGradient><linearGradient id="gb100" x1="0" x2="1" y1="0" y2="0"><stop offset="0.000" stop-color="#b9bd63"/><stop offset="0.083" stop-color="#bfbc61"/><stop offset="0.167" stop-color="#c5bc5e"/><stop offset="0.250" stop-color="#cbbb5c"/><stop offset="0.333" stop-color="#d1bb59"/><stop offset="0.417" stop-color="#d5ba57"/><stop offset="0.500" stop-color="#daba55"/><stop offset="0.583" stop-color="#deba53"/><stop offset="0.667" stop-color="#e3b951"/><stop offset="0.750" stop-color="#e5b950"/><stop offset="0.833" stop-color="#e8b94f"/><stop offset="0.917" stop-color="#ebb94d"/><stop offset="1.000" stop-color="#eeb94c"/></linearGradient><linearGradient id="gb101" x1="0" x2="1" y1="0" y2="0"><stop offset="0.000" stop-color="#bdbc61"/><stop offset="0.083" stop-color="#c3bc5f"/><stop offset="0.167" stop-color="#c9bc5c"/><stop offset="0.250" stop-color="#cebb5a"/><stop offset="0.333" stop-color="#d4bb58"/><stop offset="0.417" stop-color="#d8ba56"/><stop offset="0.500" stop-color="#dcba54"/><stop offset="0.583" stop-color="#e1ba52"/><stop offset="0.667" stop-color="#e5b950"/><stop offset="0.750" stop-color="#e7b94f"/><stop offset="0.833" stop-color="#eab94e"/><stop offset="0.917" stop-color="#edb94c"/><stop offset="1.000" stop-color="#efb94b"/></linearGradient><linearGradient id="gb102" x1="0" x2="1" y1="0" y2="0"><stop offset="0.000" stop-color="#c2bc5f"/><stop offset="0.083" stop-color="#c7bc5d"/><stop offset="0.167" stop-color="#cdbb5b"/><stop offset="0.250" stop-color="#d2bb59"/><stop offset="0.333" stop-color="#d7ba56"/><stop offset="0.417" stop-color="#dbba55"/><stop offset="0.500" stop-color="#dfba53"/><stop offset="0.583" stop-color="#e3b951"/><stop offset="0.667" stop-color="#e7b94f"/><stop offset="0.750" stop-color="#e9b94e"/><stop offset="0.833" stop-color="#ecb94d"/><stop offset="0.917" stop-color="#eeb94b"/><stop offset="1.000" stop-color="#f1b94a"/></linearGradient><linearGradient id="gb103" x1="0" x2="1" y1="0" y2="0"><stop offset="0.000" stop-color="#c7bc5d"/><stop offset="0.083" stop-color="#ccbb5b"/><stop offset="0.167" stop-color="#d1bb59"/><stop offset="0.250" stop-color="#d6ba57"/><stop offset="0.333" stop-color="#daba55"/><stop offset="0.417" stop-color="#deba53"/><stop offset="0.500" stop-color="#e2b952"/><stop offset="0.583" stop-color="#e5b950"/><stop offset="0.667" stop-color="#e9b94e"/><stop offset="0.750" stop-color="#ebb94d"/><stop offset="0.833" stop-color="#eeb94b"/><stop offset="0.917" stop-color="#f0b94a"/><stop offset="1.000" stop-color="#f2b949"/></linearGradient><linearGradient id="gb104" x1="0" x2="1" y1="0" y2="0"><stop offset="0.000" stop-color="#cbbb5b"/><stop offset="0.083" stop-color="#d0bb5a"/><stop offset="0.167" stop-color="#d4bb58"/><stop offset="0.250" stop-color="#d9ba56"/><stop offset="0.333" stop-color="#deba54"/><stop offset="0.417" stop-color="#e1b952"/><stop offset="0.500" stop-color="#e4b950"/><stop offset="0.583" stop-color="#e8b94f"/><stop offset="0.667" stop-color="#ebb94d"/><stop offset="0.750" stop-color="#edb94c"/><stop offset="0.833" stop-color="#f0b94a"/><stop offset="0.917" stop-color="#f2b949"/><stop offset="1.000" stop-color="#f4ba48"/></linearGradient><linearGradient id="gb105" x1="0" x2="1" y1="0" y2="0"><stop offset="0.000" stop-color="#d0bb5a"/><stop offset="0.083" stop-color="#d4bb58"/><stop offset="0.167" stop-color="#d8ba56"/><stop offset="0.250" stop-color="#ddba54"/><stop offset="0.333" stop-color="#e1ba52"/><stop offset="0.417" stop-color="#e4b951"/><stop offset="0.500" stop-color="#e7b94f"/><stop offset="0.583" stop-color="#eab94d"/><stop offset="0.667" stop-color="#edb94c"/><stop offset="0.750" stop-color="#efb94a"/><stop offset="0.833" stop-color="#f1b949"/><stop offset="0.917" stop-color="#f3ba48"/><stop offset="1.000" stop-color="#f5ba47"/></linearGradient><linearGradient id="gb106" x1="0" x2="1" y1="0" y2="0"><stop offset="0.000" stop-color="#d4bb58"/><stop offset="0.083" stop-color="#d8ba56"/><stop offset="0.167" stop-color="#dcba54"/><stop offset="0.250" stop-color="#e0ba52"/><stop offset="0.333" stop-color="#e4b951"/><stop offset="0.417" stop-color="#e7b94f"/><stop offset="0.500" stop-color="#eab94e"/><stop offset="0.583" stop-color="#edb94c"/><stop offset="0.667" stop-color="#f0b94a"/><stop offset="0.750" stop-color="#f1b949"/><stop offset="0.833" stop-color="#f3ba48"/><stop offset="0.917" stop-color="#f5ba47"/><stop offset="1.000" stop-color="#f6ba45"/></linearGradient><linearGradient id="gb107" x1="0" x2="1" y1="0" y2="0"><stop offset="0.000" stop-color="#d9ba56"/><stop offset="0.083" stop-color="#dcba54"/><stop offset="0.167" stop-color="#e0ba53"/><stop offset="0.250" stop-color="#e3b951"/><stop offset="0.333" stop-color="#e7b94f"/><stop offset="0.417" stop-color="#eab94e"/><stop offset="0.500" stop-color="#ecb94c"/><stop offset="0.583" stop-color="#efb94b"/><stop offset="0.667" stop-color="#f2b949"/><stop offset="0.750" stop-color="#f3ba48"/><stop offset="0.833" stop-color="#f5ba47"/><stop offset="0.917" stop-color="#f6ba46"/><stop offset="1.000" stop-color="#f8ba44"/></linearGradient><linearGradient id="gb108" x1="0" x2="1" y1="0" y2="0"><stop offset="0.000" stop-color="#ddba54"/><stop offset="0.083" stop-color="#e0ba52"/><stop offset="0.167" stop-color="#e4b951"/><stop offset="0.250" stop-color="#e7b94f"/><stop offset="0.333" stop-color="#eab94e"/><stop offset="0.417" stop-color="#edb94c"/><stop offset="0.500" stop-color="#efb94b"/><stop offset="0.583" stop-color="#f1b949"/><stop offset="0.667" stop-color="#f4ba47"/><stop offset="0.750" stop-color="#f5ba46"/><stop offset="0.833" stop-color="#f7ba45"/><stop offset="0.917" stop-color="#f8ba44"/><stop offset="1.000" stop-color="#f9bb43"/></linearGradient><linearGradient id="gb109" x1="0" x2="1" y1="0" y2="0"><stop offset="0.000" stop-color="#e2b952"/><stop offset="0.083" stop-color="#e5b950"/><stop offset="0.167" stop-color="#e7b94f"/><stop offset="0.250" stop-color="#eab94d"/><stop offset="0.333" stop-color="#edb94c"/><stop offset="0.417" stop-color="#efb94a"/><stop offset="0.500" stop-color="#f2b949"/><stop offset="0.583" stop-color="#f4ba48"/><stop offset="0.667" stop-color="#f6ba46"/><stop offset="0.750" stop-color="#f7ba45"/><stop offset="0.833" stop-color="#f8ba44"/><stop offset="0.917" stop-color="#f9bb43"/><stop offset="1.000" stop-color="#fabc42"/></linearGradient><linearGradient id="gb110" x1="0" x2="1" y1="0" y2="0"><stop offset="0.000" stop-color="#e6b950"/><stop offset="0.083" stop-color="#e9b94e"/><stop offset="0.167" stop-color="#ebb94d"/><stop offset="0.250" stop-color="#eeb94b"/><stop offset="0.333" stop-color="#f0b94a"/><stop offset="0.417" stop-color="#f2b949"/><stop offset="0.500" stop-color="#f4ba47"/><stop offset="0.583" stop-color="#f6ba46"/><stop offset="0.667" stop-color="#f8ba44"/><stop offset="0.750" stop-color="#f9bb44"/><stop offset="0.833" stop-color="#f9bb42"/><stop offset="0.917" stop-color="#fabc41"/><stop offset="1.000" stop-color="#fbbc40"/></linearGradient><linearGradient id="gb111" x1="0" x2="1" y1="0" y2="0"><stop offset="0.000" stop-color="#eab94d"/><stop offset="0.083" stop-color="#edb94c"/><stop offset="0.167" stop-color="#efb94b"/><stop offset="0.250" stop-color="#f1b949"/><stop offset="0.333" stop-color="#f3ba48"/><stop offset="0.417" stop-color="#f5ba47"/><stop offset="0.500" stop-color="#f6ba45"/><stop offset="0.583" stop-color="#f8ba44"/><stop offset="0.667" stop-color="#f9bb43"/><stop offset="0.750" stop-color="#fabc42"/><stop offset="0.833" stop-color="#fbbc41"/><stop offset="0.917" stop-color="#fbbd40"/><stop offset="1.000" stop-color="#fcbd3f"/></linearGradient><linearGradient id="gb112" x1="0" x2="1" y1="0" y2="0"><stop offset="0.000" stop-color="#efb94b"/><stop offset="0.083" stop-color="#f1b94a"/><stop offset="0.167" stop-color="#f2b948"/><stop offset="0.250" stop-color="#f4ba47"/><stop offset="0.333" stop-color="#f6ba46"/><stop offset="0.417" stop-color="#f8ba45"/><stop offset="0.500" stop-color="#f9bb43"/><stop offset="0.583" stop-color="#fabb42"/><stop offset="0.667" stop-color="#fbbc41"/><stop offset="0.750" stop-color="#fbbd40"/><stop offset="0.833" stop-color="#fcbd3f"/><stop offset="0.917" stop-color="#fcbd3f"/><stop offset="1.000" stop-color="#fdbe3e"/></linearGradient><linearGradient id="gb113" x1="0" x2="1" y1="0" y2="0"><stop offset="0.000" stop-color="#f3ba48"/><stop offset="0.083" stop-color="#f4ba47"/><stop offset="0.167" stop-color="#f6ba46"/><stop offset="0.250" stop-color="#f7ba45"/><stop offset="0.333" stop-color="#f9bb43"/><stop offset="0.417" stop-color="#fabb42"/><stop offset="0.500" stop-color="#fabc41"/><stop offset="0.583" stop-color="#fbbd40"/><stop offset="0.667" stop-color="#fcbd3f"/><stop offset="0.750" stop-color="#fdbd3e"/><stop offset="0.833" stop-color="#fdbe3e"/><stop offset="0.917" stop-color="#fdbe3d"/><stop offset="1.000" stop-color="#febf3d"/></linearGradient><linearGradient id="gb114" x1="0" x2="1" y1="0" y2="0"><stop offset="0.000" stop-color="#f7ba45"/><stop offset="0.083" stop-color="#f8ba44"/><stop offset="0.167" stop-color="#f9bb43"/><stop offset="0.250" stop-color="#fabc42"/><stop offset="0.333" stop-color="#fbbc41"/><stop offset="0.417" stop-color="#fbbd40"/><stop offset="0.500" stop-color="#fcbd3f"/><stop offset="0.583" stop-color="#fdbe3e"/><stop offset="0.667" stop-color="#fdbe3d"/><stop offset="0.750" stop-color="#febf3d"/><stop offset="0.833" stop-color="#febf3c"/><stop offset="0.917" stop-color="#febf3c"/><stop offset="1.000" stop-color="#fec03b"/></linearGradient><linearGradient id="gb115" x1="0" x2="1" y1="0" y2="0"><stop offset="0.000" stop-color="#fabc42"/><stop offset="0.083" stop-color="#fbbc41"/><stop offset="0.167" stop-color="#fbbd40"/><stop offset="0.250" stop-color="#fcbd3f"/><stop offset="0.333" stop-color="#fdbe3e"/><stop offset="0.417" stop-color="#fdbe3d"/><stop offset="0.500" stop-color="#febe3d"/><stop offset="0.583" stop-color="#febf3c"/><stop offset="0.667" stop-color="#fec03c"/><stop offset="0.750" stop-color="#fec03b"/><stop offset="0.833" stop-color="#fec03b"/><stop offset="0.917" stop-color="#fec03b"/><stop offset="1.000" stop-color="#fec13a"/></linearGradient><linearGradient id="gb116" x1="0" x2="1" y1="0" y2="0"><stop offset="0.000" stop-color="#fdbe3e"/><stop offset="0.083" stop-color="#fdbe3d"/><stop offset="0.167" stop-color="#febe3d"/><stop offset="0.250" stop-color="#febf3c"/><stop offset="0.333" stop-color="#febf3c"/><stop offset="0.417" stop-color="#fec03b"/><stop offset="0.500" stop-color="#fec03b"/><stop offset="0.583" stop-color="#fec13a"/><stop offset="0.667" stop-color="#fec13a"/><stop offset="0.750" stop-color="#fec13a"/><stop offset="0.833" stop-color="#fec139"/><stop offset="0.917" stop-color="#fec139"/><stop offset="1.000" stop-color="#fec239"/></linearGradient><linearGradient id="gb117" x1="0" x2="1" y1="0" y2="0"><stop offset="0.000" stop-color="#fec03b"/><stop offset="0.083" stop-color="#fec13a"/><stop offset="0.167" stop-color="#fec13a"/><stop offset="0.250" stop-color="#fec13a"/><stop offset="0.333" stop-color="#fec139"/><stop offset="0.417" stop-color="#fec239"/><stop offset="0.500" stop-color="#fec239"/><stop offset="0.583" stop-color="#fec239"/><stop offset="0.667" stop-color="#ffc238"/><stop offset="0.750" stop-color="#ffc238"/><stop offset="0.833" stop-color="#ffc238"/><stop offset="0.917" stop-color="#ffc338"/><stop offset="1.000" stop-color="#ffc338"/></linearGradient><linearGradient id="gb118" x1="0" x2="1" y1="0" y2="0"><stop offset="0.000" stop-color="#ffc337"/><stop offset="0.083" stop-color="#ffc337"/><stop offset="0.167" stop-color="#ffc337"/><stop offset="0.250" stop-color="#ffc337"/><stop offset="0.333" stop-color="#ffc337"/><stop offset="0.417" stop-color="#ffc337"/><stop offset="0.500" stop-color="#ffc437"/><stop offset="0.583" stop-color="#ffc437"/><stop offset="0.667" stop-color="#ffc437"/><stop offset="0.750" stop-color="#ffc437"/><stop offset="0.833" stop-color="#ffc437"/><stop offset="0.917" stop-color="#ffc437"/><stop offset="1.000" stop-color="#ffc437"/></linearGradient><linearGradient id="gb119" x1="0" x2="1" y1="0" y2="0"><stop offset="0.000" stop-color="#fec634"/><stop offset="0.083" stop-color="#fec635"/><stop offset="0.167" stop-color="#fec635"/><stop offset="0.250" stop-color="#fec635"/><stop offset="0.333" stop-color="#fec535"/><stop offset="0.417" stop-color="#fec535"/><stop offset="0.500" stop-color="#fec535"/><stop offset="0.583" stop-color="#fec535"/><stop offset="0.667" stop-color="#fec535"/><stop offset="0.750" stop-color="#fec535"/><stop offset="0.833" stop-color="#fec536"/><stop offset="0.917" stop-color="#fec536"/><stop offset="1.000" stop-color="#fec536"/></linearGradient><linearGradient id="gb120" x1="0" x2="1" y1="0" y2="0"><stop offset="0.000" stop-color="#fec932"/><stop offset="0.083" stop-color="#fec932"/><stop offset="0.167" stop-color="#fec832"/><stop offset="0.250" stop-color="#fec833"/><stop offset="0.333" stop-color="#fec733"/><stop offset="0.417" stop-color="#fec733"/><stop offset="0.500" stop-color="#fec734"/><stop offset="0.583" stop-color="#fec734"/><stop offset="0.667" stop-color="#fec734"/><stop offset="0.750" stop-color="#fec634"/><stop offset="0.833" stop-color="#fec634"/><stop offset="0.917" stop-color="#fec635"/><stop offset="1.000" stop-color="#fec635"/></linearGradient><linearGradient id="gb121" x1="0" x2="1" y1="0" y2="0"><stop offset="0.000" stop-color="#fdcc2f"/><stop offset="0.083" stop-color="#fdcb30"/><stop offset="0.167" stop-color="#fdcb30"/><stop offset="0.250" stop-color="#fdca31"/><stop offset="0.333" stop-color="#fdca31"/><stop offset="0.417" stop-color="#fec932"/><stop offset="0.500" stop-color="#fec932"/><stop offset="0.583" stop-color="#fec832"/><stop offset="0.667" stop-color="#fec833"/><stop offset="0.750" stop-color="#fec833"/><stop offset="0.833" stop-color="#fec733"/><stop offset="0.917" stop-color="#fec733"/><stop offset="1.000" stop-color="#fec734"/></linearGradient><linearGradient id="gb122" x1="0" x2="1" y1="0" y2="0"><stop offset="0.000" stop-color="#fccf2d"/><stop offset="0.083" stop-color="#fcce2e"/><stop offset="0.167" stop-color="#fccd2e"/><stop offset="0.250" stop-color="#fccc2f"/><stop offset="0.333" stop-color="#fdcc30"/><stop offset="0.417" stop-color="#fdcb30"/><stop offset="0.500" stop-color="#fdcb30"/><stop offset="0.583" stop-color="#fdca31"/><stop offset="0.667" stop-color="#fec931"/><stop offset="0.750" stop-color="#fec932"/><stop offset="0.833" stop-color="#fec932"/><stop offset="0.917" stop-color="#fec832"/><stop offset="1.000" stop-color="#fec833"/></linearGradient><linearGradient id="gb123" x1="0" x2="1" y1="0" y2="0"><stop offset="0.000" stop-color="#fad12b"/><stop offset="0.083" stop-color="#fbd12c"/><stop offset="0.167" stop-color="#fbd02c"/><stop offset="0.250" stop-color="#fccf2d"/><stop offset="0.333" stop-color="#fcce2e"/><stop offset="0.417" stop-color="#fccd2e"/><stop offset="0.500" stop-color="#fccc2f"/><stop offset="0.583" stop-color="#fdcc30"/><stop offset="0.667" stop-color="#fdcb30"/><stop offset="0.750" stop-color="#fdca31"/><stop offset="0.833" stop-color="#fdca31"/><stop offset="0.917" stop-color="#fec931"/><stop offset="1.000" stop-color="#fec932"/></linearGradient><linearGradient id="gb124" x1="0" x2="1" y1="0" y2="0"><stop offset="0.000" stop-color="#f9d429"/><stop offset="0.083" stop-color="#fad329"/><stop offset="0.167" stop-color="#fad22a"/><stop offset="0.250" stop-color="#fbd12b"/><stop offset="0.333" stop-color="#fbd02c"/><stop offset="0.417" stop-color="#fbcf2d"/><stop offset="0.500" stop-color="#fcce2e"/><stop offset="0.583" stop-color="#fccd2e"/><stop offset="0.667" stop-color="#fccc2f"/><stop offset="0.750" stop-color="#fdcc2f"/><stop offset="0.833" stop-color="#fdcb30"/><stop offset="0.917" stop-color="#fdca30"/><stop offset="1.000" stop-color="#fdca31"/></linearGradient><linearGradient id="gb125" x1="0" x2="1" y1="0" y2="0"><stop offset="0.000" stop-color="#f8d726"/><stop offset="0.083" stop-color="#f8d627"/><stop offset="0.167" stop-color="#f9d428"/><stop offset="0.250" stop-color="#fad32a"/><stop offset="0.333" stop-color="#fad22b"/><stop offset="0.417" stop-color="#fbd12b"/><stop offset="0.500" stop-color="#fbd02c"/><stop offset="0.583" stop-color="#fbcf2d"/><stop offset="0.667" stop-color="#fcce2e"/><stop offset="0.750" stop-color="#fccd2e"/><stop offset="0.833" stop-color="#fccc2f"/><stop offset="0.917" stop-color="#fdcc2f"/><stop offset="1.000" stop-color="#fdcb30"/></linearGradient><linearGradient id="gb126" x1="0" x2="1" y1="0" y2="0"><stop offset="0.000" stop-color="#f7da24"/><stop offset="0.083" stop-color="#f7d925"/><stop offset="0.167" stop-color="#f8d727"/><stop offset="0.250" stop-color="#f9d528"/><stop offset="0.333" stop-color="#f9d429"/><stop offset="0.417" stop-color="#fad32a"/><stop offset="0.500" stop-color="#fad12b"/><stop offset="0.583" stop-color="#fbd02c"/><stop offset="0.667" stop-color="#fbcf2d"/><stop offset="0.750" stop-color="#fcce2d"/><stop offset="0.833" stop-color="#fcce2e"/><stop offset="0.917" stop-color="#fccd2f"/><stop offset="1.000" stop-color="#fdcc2f"/></linearGradient><linearGradient id="gb127" x1="0" x2="1" y1="0" y2="0"><stop offset="0.000" stop-color="#f6dd22"/><stop offset="0.083" stop-color="#f6dc23"/><stop offset="0.167" stop-color="#f7da25"/><stop offset="0.250" stop-color="#f8d826"/><stop offset="0.333" stop-color="#f8d627"/><stop offset="0.417" stop-color="#f9d528"/><stop offset="0.500" stop-color="#f9d329"/><stop offset="0.583" stop-color="#fad22a"/><stop offset="0.667" stop-color="#fbd12b"/><stop offset="0.750" stop-color="#fbd02c"/><stop offset="0.833" stop-color="#fbcf2d"/><stop offset="0.917" stop-color="#fcce2e"/><stop offset="1.000" stop-color="#fccd2e"/></linearGradient><linearGradient id="gb128" x1="0" x2="1" y1="0" y2="0"><stop offset="0.000" stop-color="#f5e11f"/><stop offset="0.083" stop-color="#f5de21"/><stop offset="0.167" stop-color="#f6dc23"/><stop offset="0.250" stop-color="#f7da24"/><stop offset="0.333" stop-color="#f7d826"/><stop offset="0.417" stop-color="#f8d627"/><stop offset="0.500" stop-color="#f9d528"/><stop offset="0.583" stop-color="#f9d329"/><stop offset="0.667" stop-color="#fad22a"/><stop offset="0.750" stop-color="#fad12b"/><stop offset="0.833" stop-color="#fbd02c"/><stop offset="0.917" stop-color="#fbcf2d"/><stop offset="1.000" stop-color="#fcce2e"/></linearGradient><linearGradient id="gb129" x1="0" x2="1" y1="0" y2="0"><stop offset="0.000" stop-color="#f5e41d"/><stop offset="0.083" stop-color="#f5e21f"/><stop offset="0.167" stop-color="#f5df21"/><stop offset="0.250" stop-color="#f6dd22"/><stop offset="0.333" stop-color="#f7da24"/><stop offset="0.417" stop-color="#f7d826"/><stop offset="0.500" stop-color="#f8d727"/><stop offset="0.583" stop-color="#f9d528"/><stop offset="0.667" stop-color="#f9d329"/><stop offset="0.750" stop-color="#fad22a"/><stop offset="0.833" stop-color="#fad12b"/><stop offset="0.917" stop-color="#fbd02c"/><stop offset="1.000" stop-color="#fbcf2d"/></linearGradient><linearGradient id="gb130" x1="0" x2="1" y1="0" y2="0"><stop offset="0.000" stop-color="#f5e81a"/><stop offset="0.083" stop-color="#f5e51c"/><stop offset="0.167" stop-color="#f5e21f"/><stop offset="0.250" stop-color="#f5df21"/><stop offset="0.333" stop-color="#f6dc23"/><stop offset="0.417" stop-color="#f7da24"/><stop offset="0.500" stop-color="#f7d925"/><stop offset="0.583" stop-color="#f8d727"/><stop offset="0.667" stop-color="#f9d528"/><stop offset="0.750" stop-color="#f9d429"/><stop offset="0.833" stop-color="#fad22a"/><stop offset="0.917" stop-color="#fad12b"/><stop offset="1.000" stop-color="#fbd02c"/></linearGradient><linearGradient id="gb131" x1="0" x2="1" y1="0" y2="0"><stop offset="0.000" stop-color="#f5ec18"/><stop offset="0.083" stop-color="#f5e81a"/><stop offset="0.167" stop-color="#f5e51c"/><stop offset="0.250" stop-color="#f5e21f"/><stop offset="0.333" stop-color="#f5df21"/><stop offset="0.417" stop-color="#f6dd22"/><stop offset="0.500" stop-color="#f7da24"/><stop offset="0.583" stop-color="#f7d826"/><stop offset="0.667" stop-color="#f8d627"/><stop offset="0.750" stop-color="#f9d528"/><stop offset="0.833" stop-color="#f9d429"/><stop offset="0.917" stop-color="#fad22a"/><stop offset="1.000" stop-color="#fad12b"/></linearGradient><linearGradient id="gb132" x1="0" x2="1" y1="0" y2="0"><stop offset="0.000" stop-color="#f6f015"/><stop offset="0.083" stop-color="#f5ec18"/><stop offset="0.167" stop-color="#f5e81a"/><stop offset="0.250" stop-color="#f5e41d"/><stop offset="0.333" stop-color="#f5e11f"/><stop offset="0.417" stop-color="#f5df21"/><stop offset="0.500" stop-color="#f6dc23"/><stop offset="0.583" stop-color="#f7da24"/><stop offset="0.667" stop-color="#f7d826"/><stop offset="0.750" stop-color="#f8d627"/><stop offset="0.833" stop-color="#f9d528"/><stop offset="0.917" stop-color="#f9d329"/><stop offset="1.000" stop-color="#fad22a"/></linearGradient><linearGradient id="gb133" x1="0" x2="1" y1="0" y2="0"><stop offset="0.000" stop-color="#f7f412"/><stop offset="0.083" stop-color="#f6f015"/><stop offset="0.167" stop-color="#f5eb18"/><stop offset="0.250" stop-color="#f5e71b"/><stop offset="0.333" stop-color="#f5e41d"/><stop offset="0.417" stop-color="#f5e11f"/><stop offset="0.500" stop-color="#f5de21"/><stop offset="0.583" stop-color="#f6dc23"/><stop offset="0.667" stop-color="#f7d925"/><stop offset="0.750" stop-color="#f8d826"/><stop offset="0.833" stop-color="#f8d627"/><stop offset="0.917" stop-color="#f9d528"/><stop offset="1.000" stop-color="#fad329"/></linearGradient><linearGradient id="gb134" x1="0" x2="1" y1="0" y2="0"><stop offset="0.000" stop-color="#f8f80f"/><stop offset="0.083" stop-color="#f7f413"/><stop offset="0.167" stop-color="#f6ef16"/><stop offset="0.250" stop-color="#f5ea19"/><stop offset="0.333" stop-color="#f5e61c"/><stop offset="0.417" stop-color="#f5e31e"/><stop offset="0.500" stop-color="#f5e020"/><stop offset="0.583" stop-color="#f6dd22"/><stop offset="0.667" stop-color="#f6db24"/><stop offset="0.750" stop-color="#f7d925"/><stop offset="0.833" stop-color="#f8d726"/><stop offset="0.917" stop-color="#f8d627"/><stop offset="1.000" stop-color="#f9d429"/></linearGradient><linearGradient id="cbb" x1="0" x2="0" y1="0" y2="1"><stop offset="0.000" stop-color="#f9fb0e"/><stop offset="0.025" stop-color="#f5ee16"/><stop offset="0.050" stop-color="#f5e31e"/><stop offset="0.075" stop-color="#f7da24"/><stop offset="0.100" stop-color="#fad12b"/><stop offset="0.125" stop-color="#fec932"/><stop offset="0.150" stop-color="#fec13a"/><stop offset="0.175" stop-color="#f8ba44"/><stop offset="0.200" stop-color="#ecb94c"/><stop offset="0.225" stop-color="#e0ba53"/><stop offset="0.250" stop-color="#d3bb58"/><stop offset="0.275" stop-color="#c6bc5e"/><stop offset="0.300" stop-color="#b8bd63"/><stop offset="0.325" stop-color="#aabe69"/><stop offset="0.350" stop-color="#9bbf6f"/><stop offset="0.375" stop-color="#8bbf75"/><stop offset="0.400" stop-color="#7abf7c"/><stop offset="0.425" stop-color="#67be85"/><stop offset="0.450" stop-color="#55bd8e"/><stop offset="0.475" stop-color="#43bb97"/><stop offset="0.500" stop-color="#33b8a1"/><stop offset="0.525" stop-color="#24b5aa"/><stop offset="0.550" stop-color="#18b1b2"/><stop offset="0.575" stop-color="#0eaeba"/><stop offset="0.600" stop-color="#07aac1"/><stop offset="0.625" stop-color="#06a6c7"/><stop offset="0.650" stop-color="#06a0cd"/><stop offset="0.675" stop-color="#089ad0"/><stop offset="0.700" stop-color="#0d93d2"/><stop offset="0.725" stop-color="#128bd3"/><stop offset="0.750" stop-color="#1484d4"/><stop offset="0.775" stop-color="#137dd8"/><stop offset="0.800" stop-color="#0f77db"/><stop offset="0.825" stop-color="#0871de"/><stop offset="0.850" stop-color="#036ae1"/><stop offset="0.875" stop-color="#0462e0"/><stop offset="0.900" stop-color="#1b55d7"/><stop offset="0.925" stop-color="#2d49c3"/><stop offset="0.950" stop-color="#353eaf"/><stop offset="0.975" stop-color="#36349b"/><stop offset="1.000" stop-color="#352a87"/></linearGradient></defs>
<rect width="531" height="621" fill="#fff"/>
<text x="4.8" y="17.8" font-size="14.5" text-anchor="start" fill="#000" >(a)</text>
<rect x="24.00" y="7.00" width="85.00" height="20.00" fill="#F3B286" stroke="none" stroke-width="1" />
<text x="26.0" y="21.2" font-size="13.60" font-style="italic">k</text>
<text x="32.3" y="24.4" font-size="8.80">3</text>
<text x="38.6" y="21.2" font-size="13.60">=</text>
<text x="48.9" y="21.2" font-size="13.60">1.5,</text>
<text x="73.3" y="21.2" font-size="13.60" font-style="italic">θ</text>
<text x="80.8" y="21.2" font-size="13.60">=</text>
<text x="88.6" y="21.2" font-size="13.60">45°</text>
<rect x="60.00" y="34" width="148.50" height="1" fill="url(#ga0)" shape-rendering="crispEdges"/>
<rect x="60.00" y="35" width="148.50" height="1" fill="url(#ga1)" shape-rendering="crispEdges"/>
<rect x="60.00" y="36" width="148.50" height="1" fill="url(#ga2)" shape-rendering="crispEdges"/>
<rect x="60.00" y="37" width="148.50" height="1" fill="url(#ga3)" shape-rendering="crispEdges"/>
<rect x="60.00" y="38" width="148.50" height="1" fill="url(#ga4)" shape-rendering="crispEdges"/>
<rect x="60.00" y="39" width="148.50" height="1" fill="url(#ga5)" shape-rendering="crispEdges"/>
<rect x="60.00" y="40" width="148.50" height="1" fill="url(#ga6)" shape-rendering="crispEdges"/>
<rect x="60.00" y="41" width="148.50" height="1" fill="url(#ga7)" shape-rendering="crispEdges"/>
<rect x="60.00" y="42" width="148.50" height="1" fill="url(#ga8)" shape-rendering="crispEdges"/>
<rect x="60.00" y="43" width="148.50" height="1" fill="url(#ga9)" shape-rendering="crispEdges"/>
<rect x="60.00" y="44" width="148.50" height="1" fill="url(#ga10)" shape-rendering="crispEdges"/>
<rect x="60.00" y="45" width="148.50" height="1" fill="url(#ga11)" shape-rendering="crispEdges"/>
<rect x="60.00" y="46" width="148.50" height="1" fill="url(#ga12)" shape-rendering="crispEdges"/>
<rect x="60.00" y="47" width="148.50" height="1" fill="url(#ga13)" shape-rendering="crispEdges"/>
<rect x="60.00" y="48" width="148.50" height="1" fill="url(#ga14)" shape-rendering="crispEdges"/>
<rect x="60.00" y="49" width="148.50" height="1" fill="url(#ga15)" shape-rendering="crispEdges"/>
<rect x="60.00" y="50" width="148.50" height="1" fill="url(#ga16)" shape-rendering="crispEdges"/>
<rect x="60.00" y="51" width="148.50" height="1" fill="url(#ga17)" shape-rendering="crispEdges"/>
<rect x="60.00" y="52" width="148.50" height="1" fill="url(#ga18)" shape-rendering="crispEdges"/>
<rect x="60.00" y="53" width="148.50" height="1" fill="url(#ga19)" shape-rendering="crispEdges"/>
<rect x="60.00" y="54" width="148.50" height="1" fill="url(#ga20)" shape-rendering="crispEdges"/>
<rect x="60.00" y="55" width="148.50" height="1" fill="url(#ga21)" shape-rendering="crispEdges"/>
<rect x="60.00" y="56" width="148.50" height="1" fill="url(#ga22)" shape-rendering="crispEdges"/>
<rect x="60.00" y="57" width="148.50" height="1" fill="url(#ga23)" shape-rendering="crispEdges"/>
<rect x="60.00" y="58" width="148.50" height="1" fill="url(#ga24)" shape-rendering="crispEdges"/>
<rect x="60.00" y="59" width="148.50" height="1" fill="url(#ga25)" shape-rendering="crispEdges"/>
<rect x="60.00" y="60" width="148.50" height="1" fill="url(#ga26)" shape-rendering="crispEdges"/>
<rect x="60.00" y="61" width="148.50" height="1" fill="url(#ga27)" shape-rendering="crispEdges"/>
<rect x="60.00" y="62" width="148.50" height="1" fill="url(#ga28)" shape-rendering="crispEdges"/>
<rect x="60.00" y="63" width="148.50" height="1" fill="url(#ga29)" shape-rendering="crispEdges"/>
<rect x="60.00" y="64" width="148.50" height="1" fill="url(#ga30)" shape-rendering="crispEdges"/>
<rect x="60.00" y="65" width="148.50" height="1" fill="url(#ga31)" shape-rendering="crispEdges"/>
<rect x="60.00" y="66" width="148.50" height="1" fill="url(#ga32)" shape-rendering="crispEdges"/>
<rect x="60.00" y="67" width="148.50" height="1" fill="url(#ga33)" shape-rendering="crispEdges"/>
<rect x="60.00" y="68" width="148.50" height="1" fill="url(#ga34)" shape-rendering="crispEdges"/>
<rect x="60.00" y="69" width="148.50" height="1" fill="url(#ga35)" shape-rendering="crispEdges"/>
<rect x="60.00" y="70" width="148.50" height="1" fill="url(#ga36)" shape-rendering="crispEdges"/>
<rect x="60.00" y="71" width="148.50" height="1" fill="url(#ga37)" shape-rendering="crispEdges"/>
<rect x="60.00" y="72" width="148.50" height="1" fill="url(#ga38)" shape-rendering="crispEdges"/>
<rect x="60.00" y="73" width="148.50" height="1" fill="url(#ga39)" shape-rendering="crispEdges"/>
<rect x="60.00" y="74" width="148.50" height="1" fill="url(#ga40)" shape-rendering="crispEdges"/>
<rect x="60.00" y="75" width="148.50" height="1" fill="url(#ga41)" shape-rendering="crispEdges"/>
<rect x="60.00" y="76" width="148.50" height="1" fill="url(#ga42)" shape-rendering="crispEdges"/>
<rect x="60.00" y="77" width="148.50" height="1" fill="url(#ga43)" shape-rendering="crispEdges"/>
<rect x="60.00" y="78" width="148.50" height="1" fill="url(#ga44)" shape-rendering="crispEdges"/>
<rect x="60.00" y="79" width="148.50" height="1" fill="url(#ga45)" shape-rendering="crispEdges"/>
<rect x="60.00" y="80" width="148.50" height="1" fill="url(#ga46)" shape-rendering="crispEdges"/>
<rect x="60.00" y="81" width="148.50" height="1" fill="url(#ga47)" shape-rendering="crispEdges"/>
<rect x="60.00" y="82" width="148.50" height="1" fill="url(#ga48)" shape-rendering="crispEdges"/>
<rect x="60.00" y="83" width="148.50" height="1" fill="url(#ga49)" shape-rendering="crispEdges"/>
<rect x="60.00" y="84" width="148.50" height="1" fill="url(#ga50)" shape-rendering="crispEdges"/>
<rect x="60.00" y="85" width="148.50" height="1" fill="url(#ga51)" shape-rendering="crispEdges"/>
<rect x="60.00" y="86" width="148.50" height="1" fill="url(#ga52)" shape-rendering="crispEdges"/>
<rect x="60.00" y="87" width="148.50" height="1" fill="url(#ga53)" shape-rendering="crispEdges"/>
<rect x="60.00" y="88" width="148.50" height="1" fill="url(#ga54)" shape-rendering="crispEdges"/>
<rect x="60.00" y="89" width="148.50" height="1" fill="url(#ga55)" shape-rendering="crispEdges"/>
<rect x="60.00" y="90" width="148.50" height="1" fill="url(#ga56)" shape-rendering="crispEdges"/>
<rect x="60.00" y="91" width="148.50" height="1" fill="url(#ga57)" shape-rendering="crispEdges"/>
<rect x="60.00" y="92" width="148.50" height="1" fill="url(#ga58)" shape-rendering="crispEdges"/>
<rect x="60.00" y="93" width="148.50" height="1" fill="url(#ga59)" shape-rendering="crispEdges"/>
<rect x="60.00" y="94" width="148.50" height="1" fill="url(#ga60)" shape-rendering="crispEdges"/>
<rect x="60.00" y="95" width="148.50" height="1" fill="url(#ga61)" shape-rendering="crispEdges"/>
<rect x="60.00" y="96" width="148.50" height="1" fill="url(#ga62)" shape-rendering="crispEdges"/>
<rect x="60.00" y="97" width="148.50" height="1" fill="url(#ga63)" shape-rendering="crispEdges"/>
<rect x="60.00" y="98" width="148.50" height="1" fill="url(#ga64)" shape-rendering="crispEdges"/>
<rect x="60.00" y="99" width="148.50" height="1" fill="url(#ga65)" shape-rendering="crispEdges"/>
<rect x="60.00" y="100" width="148.50" height="1" fill="url(#ga66)" shape-rendering="crispEdges"/>
<rect x="60.00" y="101" width="148.50" height="1" fill="url(#ga67)" shape-rendering="crispEdges"/>
<rect x="60.00" y="102" width="148.50" height="1" fill="url(#ga68)" shape-rendering="crispEdges"/>
<rect x="60.00" y="103" width="148.50" height="1" fill="url(#ga69)" shape-rendering="crispEdges"/>
<rect x="60.00" y="104" width="148.50" height="1" fill="url(#ga70)" shape-rendering="crispEdges"/>
<rect x="60.00" y="105" width="148.50" height="1" fill="url(#ga71)" shape-rendering="crispEdges"/>
<rect x="60.00" y="106" width="148.50" height="1" fill="url(#ga72)" shape-rendering="crispEdges"/>
<rect x="60.00" y="107" width="148.50" height="1" fill="url(#ga73)" shape-rendering="crispEdges"/>
<rect x="60.00" y="108" width="148.50" height="1" fill="url(#ga74)" shape-rendering="crispEdges"/>
<rect x="60.00" y="109" width="148.50" height="1" fill="url(#ga75)" shape-rendering="crispEdges"/>
<rect x="60.00" y="110" width="148.50" height="1" fill="url(#ga76)" shape-rendering="crispEdges"/>
<rect x="60.00" y="111" width="148.50" height="1" fill="url(#ga77)" shape-rendering="crispEdges"/>
<rect x="60.00" y="112" width="148.50" height="1" fill="url(#ga78)" shape-rendering="crispEdges"/>
<rect x="60.00" y="113" width="148.50" height="1" fill="url(#ga79)" shape-rendering="crispEdges"/>
<rect x="60.00" y="114" width="148.50" height="1" fill="url(#ga80)" shape-rendering="crispEdges"/>
<rect x="60.00" y="115" width="148.50" height="1" fill="url(#ga81)" shape-rendering="crispEdges"/>
<rect x="60.00" y="116" width="148.50" height="1" fill="url(#ga82)" shape-rendering="crispEdges"/>
<rect x="60.00" y="117" width="148.50" height="1" fill="url(#ga83)" shape-rendering="crispEdges"/>
<rect x="60.00" y="118" width="148.50" height="1" fill="url(#ga84)" shape-rendering="crispEdges"/>
<rect x="60.00" y="119" width="148.50" height="1" fill="url(#ga85)" shape-rendering="crispEdges"/>
<rect x="60.00" y="120" width="148.50" height="1" fill="url(#ga86)" shape-rendering="crispEdges"/>
<rect x="60.00" y="121" width="148.50" height="1" fill="url(#ga87)" shape-rendering="crispEdges"/>
<rect x="60.00" y="122" width="148.50" height="1" fill="url(#ga88)" shape-rendering="crispEdges"/>
<rect x="60.00" y="123" width="148.50" height="1" fill="url(#ga89)" shape-rendering="crispEdges"/>
<rect x="60.00" y="124" width="148.50" height="1" fill="url(#ga90)" shape-rendering="crispEdges"/>
<rect x="60.00" y="125" width="148.50" height="1" fill="url(#ga91)" shape-rendering="crispEdges"/>
<rect x="60.00" y="126" width="148.50" height="1" fill="url(#ga92)" shape-rendering="crispEdges"/>
<rect x="60.00" y="127" width="148.50" height="1" fill="url(#ga93)" shape-rendering="crispEdges"/>
<rect x="60.00" y="128" width="148.50" height="1" fill="url(#ga94)" shape-rendering="crispEdges"/>
<rect x="60.00" y="129" width="148.50" height="1" fill="url(#ga95)" shape-rendering="crispEdges"/>
<rect x="60.00" y="130" width="148.50" height="1" fill="url(#ga96)" shape-rendering="crispEdges"/>
<rect x="60.00" y="131" width="148.50" height="1" fill="url(#ga97)" shape-rendering="crispEdges"/>
<rect x="60.00" y="132" width="148.50" height="1" fill="url(#ga98)" shape-rendering="crispEdges"/>
<rect x="60.00" y="133" width="148.50" height="1" fill="url(#ga99)" shape-rendering="crispEdges"/>
<rect x="60.00" y="134" width="148.50" height="1" fill="url(#ga100)" shape-rendering="crispEdges"/>
<rect x="60.00" y="135" width="148.50" height="1" fill="url(#ga101)" shape-rendering="crispEdges"/>
<rect x="60.00" y="136" width="148.50" height="1" fill="url(#ga102)" shape-rendering="crispEdges"/>
<rect x="60.00" y="137" width="148.50" height="1" fill="url(#ga103)" shape-rendering="crispEdges"/>
<rect x="60.00" y="138" width="148.50" height="1" fill="url(#ga104)" shape-rendering="crispEdges"/>
<rect x="60.00" y="139" width="148.50" height="1" fill="url(#ga105)" shape-rendering="crispEdges"/>
<rect x="60.00" y="140" width="148.50" height="1" fill="url(#ga106)" shape-rendering="crispEdges"/>
<rect x="60.00" y="141" width="148.50" height="1" fill="url(#ga107)" shape-rendering="crispEdges"/>
<rect x="60.00" y="142" width="148.50" height="1" fill="url(#ga108)" shape-rendering="crispEdges"/>
<rect x="60.00" y="143" width="148.50" height="1" fill="url(#ga109)" shape-rendering="crispEdges"/>
<rect x="60.00" y="144" width="148.50" height="1" fill="url(#ga110)" shape-rendering="crispEdges"/>
<rect x="60.00" y="145" width="148.50" height="1" fill="url(#ga111)" shape-rendering="crispEdges"/>
<rect x="60.00" y="146" width="148.50" height="1" fill="url(#ga112)" shape-rendering="crispEdges"/>
<rect x="60.00" y="147" width="148.50" height="1" fill="url(#ga113)" shape-rendering="crispEdges"/>
<rect x="60.00" y="148" width="148.50" height="1" fill="url(#ga114)" shape-rendering="crispEdges"/>
<rect x="60.00" y="149" width="148.50" height="1" fill="url(#ga115)" shape-rendering="crispEdges"/>
<rect x="60.00" y="150" width="148.50" height="1" fill="url(#ga116)" shape-rendering="crispEdges"/>
<rect x="60.00" y="151" width="148.50" height="1" fill="url(#ga117)" shape-rendering="crispEdges"/>
<rect x="60.00" y="152" width="148.50" height="1" fill="url(#ga118)" shape-rendering="crispEdges"/>
<rect x="60.00" y="153" width="148.50" height="1" fill="url(#ga119)" shape-rendering="crispEdges"/>
<rect x="60.00" y="154" width="148.50" height="1" fill="url(#ga120)" shape-rendering="crispEdges"/>
<rect x="60.00" y="155" width="148.50" height="1" fill="url(#ga121)" shape-rendering="crispEdges"/>
<rect x="60.00" y="156" width="148.50" height="1" fill="url(#ga122)" shape-rendering="crispEdges"/>
<rect x="60.00" y="157" width="148.50" height="1" fill="url(#ga123)" shape-rendering="crispEdges"/>
<rect x="60.00" y="158" width="148.50" height="1" fill="url(#ga124)" shape-rendering="crispEdges"/>
<rect x="60.00" y="159" width="148.50" height="1" fill="url(#ga125)" shape-rendering="crispEdges"/>
<rect x="60.00" y="160" width="148.50" height="1" fill="url(#ga126)" shape-rendering="crispEdges"/>
<rect x="60.00" y="161" width="148.50" height="1" fill="url(#ga127)" shape-rendering="crispEdges"/>
<rect x="60.00" y="162" width="148.50" height="1" fill="url(#ga128)" shape-rendering="crispEdges"/>
<rect x="60.00" y="163" width="148.50" height="1" fill="url(#ga129)" shape-rendering="crispEdges"/>
<rect x="60.00" y="164" width="148.50" height="1" fill="url(#ga130)" shape-rendering="crispEdges"/>
<rect x="60.00" y="165" width="148.50" height="1" fill="url(#ga131)" shape-rendering="crispEdges"/>
<rect x="60.00" y="166" width="148.50" height="1" fill="url(#ga132)" shape-rendering="crispEdges"/>
<rect x="60.00" y="167" width="148.50" height="1" fill="url(#ga133)" shape-rendering="crispEdges"/>
<rect x="60.00" y="168" width="148.50" height="1" fill="url(#ga134)" shape-rendering="crispEdges"/>
<path d="M60.0,34.1 L68.5,34.1 L68.5,33.0 L73.5,36.5 L68.5,40.0 L68.5,38.9 L60.0,38.9 Z" fill="#f00000"/>
<path d="M59.5,162.8 L66.8,162.8 L66.8,161.6 L72.3,165.4 L66.8,169.3 L66.8,168.1 L59.5,168.1 Z" fill="#000"/>
<path d="M203.5,168.5 L203.5,161.7 L202.3,161.7 L206.1,156.6 L209.8,161.7 L208.6,161.7 L208.6,168.5 Z" fill="#cc30aa"/>
<line x1="60.00" y1="168.80" x2="65.00" y2="168.80" stroke="#000" stroke-width="1.2" />
<line x1="60.00" y1="169.00" x2="60.00" y2="164.30" stroke="#000" stroke-width="1.2" />
<line x1="60.00" y1="124.53" x2="65.00" y2="124.53" stroke="#000" stroke-width="1.2" />
<line x1="109.50" y1="169.00" x2="109.50" y2="164.30" stroke="#000" stroke-width="1.2" />
<line x1="60.00" y1="80.26" x2="65.00" y2="80.26" stroke="#000" stroke-width="1.2" />
<line x1="159.00" y1="169.00" x2="159.00" y2="164.30" stroke="#000" stroke-width="1.2" />
<line x1="60.00" y1="35.99" x2="65.00" y2="35.99" stroke="#000" stroke-width="1.2" />
<line x1="208.50" y1="169.00" x2="208.50" y2="164.30" stroke="#000" stroke-width="1.2" />
<text x="57.0" y="171.7" font-size="12" text-anchor="end" fill="#000" >0.4</text>
<text x="57.0" y="129.6" font-size="12" text-anchor="end" fill="#000" >0.6</text>
<text x="57.0" y="85.0" font-size="12" text-anchor="end" fill="#000" >0.8</text>
<text x="57.0" y="42.1" font-size="12" text-anchor="end" fill="#000" >1.0</text>
<text x="63.0" y="181.3" font-size="12" text-anchor="middle" fill="#000" >0.4</text>
<text x="110.0" y="181.3" font-size="12" text-anchor="middle" fill="#000" >0.6</text>
<text x="160.0" y="181.3" font-size="12" text-anchor="middle" fill="#000" >0.8</text>
<text x="208.5" y="181.3" font-size="12" text-anchor="middle" fill="#000" >1.0</text>
<text x="60.5" y="192" font-size="12.2">Dimensionless parameter <tspan font-style="italic">k</tspan><tspan font-size="7.5" dy="2.5">1</tspan></text>
<text transform="translate(39.0,177) rotate(-90)" x="0" y="0" font-size="12.3">Dimensionless parameter <tspan font-style="italic" fill="#888" font-size="11">k</tspan><tspan font-size="6.5" dy="1.5" fill="#888">2</tspan></text>
<rect x="215.30" y="34.20" width="10.00" height="134.40" fill="url(#cba)" stroke="#888" stroke-width="0.4" />
<text x="229.0" y="46.8" font-size="12" text-anchor="start" fill="#000" >-0.5</text>
<text x="229.0" y="61.2" font-size="12" text-anchor="start" fill="#000" >-1.0</text>
<text x="229.0" y="75.5" font-size="12" text-anchor="start" fill="#000" >-1.5</text>
<text x="229.0" y="89.9" font-size="12" text-anchor="start" fill="#000" >-2.0</text>
<text x="229.0" y="104.2" font-size="12" text-anchor="start" fill="#000" >-2.5</text>
<text x="229.0" y="118.5" font-size="12" text-anchor="start" fill="#000" >-3.0</text>
<text x="229.0" y="132.9" font-size="12" text-anchor="start" fill="#000" >-3.5</text>
<text x="229.0" y="147.2" font-size="12" text-anchor="start" fill="#000" >-4.0</text>
<text x="229.0" y="161.6" font-size="12" text-anchor="start" fill="#000" >-4.5</text>
<text x="214.6" y="30.3" font-size="11.5" font-style="italic">α</text><text x="222" y="26" font-size="6.8">1.5</text><text x="221" y="32.3" font-size="6.8" font-style="italic">xy</text>
<text transform="translate(259.3,96.6) rotate(-90)" x="0" y="0" font-size="12.5" text-anchor="middle">Coef. of Thermal Expansion(ppm/°C)</text>
<text x="267.0" y="18.6" font-size="14.5" text-anchor="start" fill="#000" >(b)</text>
<rect x="285.30" y="10.30" width="80.50" height="19.00" fill="#F3B286" stroke="none" stroke-width="1" />
<text x="287.2" y="23.9" font-size="12.78" font-style="italic">k</text>
<text x="293.1" y="26.9" font-size="8.27">3</text>
<text x="299.0" y="23.9" font-size="12.78">=</text>
<text x="308.7" y="23.9" font-size="12.78">1.5,</text>
<text x="331.6" y="23.9" font-size="12.78" font-style="italic">θ</text>
<text x="338.7" y="23.9" font-size="12.78">=</text>
<text x="346.0" y="23.9" font-size="12.78">45°</text>
<rect x="319.60" y="35" width="148.70" height="1" fill="url(#gb0)" shape-rendering="crispEdges"/>
<rect x="319.60" y="36" width="148.70" height="1" fill="url(#gb1)" shape-rendering="crispEdges"/>
<rect x="319.60" y="37" width="148.70" height="1" fill="url(#gb2)" shape-rendering="crispEdges"/>
<rect x="319.60" y="38" width="148.70" height="1" fill="url(#gb3)" shape-rendering="crispEdges"/>
<rect x="319.60" y="39" width="148.70" height="1" fill="url(#gb4)" shape-rendering="crispEdges"/>
<rect x="319.60" y="40" width="148.70" height="1" fill="url(#gb5)" shape-rendering="crispEdges"/>
<rect x="319.60" y="41" width="148.70" height="1" fill="url(#gb6)" shape-rendering="crispEdges"/>
<rect x="319.60" y="42" width="148.70" height="1" fill="url(#gb7)" shape-rendering="crispEdges"/>
<rect x="319.60" y="43" width="148.70" height="1" fill="url(#gb8)" shape-rendering="crispEdges"/>
<rect x="319.60" y="44" width="148.70" height="1" fill="url(#gb9)" shape-rendering="crispEdges"/>
<rect x="319.60" y="45" width="148.70" height="1" fill="url(#gb10)" shape-rendering="crispEdges"/>
<rect x="319.60" y="46" width="148.70" height="1" fill="url(#gb11)" shape-rendering="crispEdges"/>
<rect x="319.60" y="47" width="148.70" height="1" fill="url(#gb12)" shape-rendering="crispEdges"/>
<rect x="319.60" y="48" width="148.70" height="1" fill="url(#gb13)" shape-rendering="crispEdges"/>
<rect x="319.60" y="49" width="148.70" height="1" fill="url(#gb14)" shape-rendering="crispEdges"/>
<rect x="319.60" y="50" width="148.70" height="1" fill="url(#gb15)" shape-rendering="crispEdges"/>
<rect x="319.60" y="51" width="148.70" height="1" fill="url(#gb16)" shape-rendering="crispEdges"/>
<rect x="319.60" y="52" width="148.70" height="1" fill="url(#gb17)" shape-rendering="crispEdges"/>
<rect x="319.60" y="53" width="148.70" height="1" fill="url(#gb18)" shape-rendering="crispEdges"/>
<rect x="319.60" y="54" width="148.70" height="1" fill="url(#gb19)" shape-rendering="crispEdges"/>
<rect x="319.60" y="55" width="148.70" height="1" fill="url(#gb20)" shape-rendering="crispEdges"/>
<rect x="319.60" y="56" width="148.70" height="1" fill="url(#gb21)" shape-rendering="crispEdges"/>
<rect x="319.60" y="57" width="148.70" height="1" fill="url(#gb22)" shape-rendering="crispEdges"/>
<rect x="319.60" y="58" width="148.70" height="1" fill="url(#gb23)" shape-rendering="crispEdges"/>
<rect x="319.60" y="59" width="148.70" height="1" fill="url(#gb24)" shape-rendering="crispEdges"/>
<rect x="319.60" y="60" width="148.70" height="1" fill="url(#gb25)" shape-rendering="crispEdges"/>
<rect x="319.60" y="61" width="148.70" height="1" fill="url(#gb26)" shape-rendering="crispEdges"/>
<rect x="319.60" y="62" width="148.70" height="1" fill="url(#gb27)" shape-rendering="crispEdges"/>
<rect x="319.60" y="63" width="148.70" height="1" fill="url(#gb28)" shape-rendering="crispEdges"/>
<rect x="319.60" y="64" width="148.70" height="1" fill="url(#gb29)" shape-rendering="crispEdges"/>
<rect x="319.60" y="65" width="148.70" height="1" fill="url(#gb30)" shape-rendering="crispEdges"/>
<rect x="319.60" y="66" width="148.70" height="1" fill="url(#gb31)" shape-rendering="crispEdges"/>
<rect x="319.60" y="67" width="148.70" height="1" fill="url(#gb32)" shape-rendering="crispEdges"/>
<rect x="319.60" y="68" width="148.70" height="1" fill="url(#gb33)" shape-rendering="crispEdges"/>
<rect x="319.60" y="69" width="148.70" height="1" fill="url(#gb34)" shape-rendering="crispEdges"/>
<rect x="319.60" y="70" width="148.70" height="1" fill="url(#gb35)" shape-rendering="crispEdges"/>
<rect x="319.60" y="71" width="148.70" height="1" fill="url(#gb36)" shape-rendering="crispEdges"/>
<rect x="319.60" y="72" width="148.70" height="1" fill="url(#gb37)" shape-rendering="crispEdges"/>
<rect x="319.60" y="73" width="148.70" height="1" fill="url(#gb38)" shape-rendering="crispEdges"/>
<rect x="319.60" y="74" width="148.70" height="1" fill="url(#gb39)" shape-rendering="crispEdges"/>
<rect x="319.60" y="75" width="148.70" height="1" fill="url(#gb40)" shape-rendering="crispEdges"/>
<rect x="319.60" y="76" width="148.70" height="1" fill="url(#gb41)" shape-rendering="crispEdges"/>
<rect x="319.60" y="77" width="148.70" height="1" fill="url(#gb42)" shape-rendering="crispEdges"/>
<rect x="319.60" y="78" width="148.70" height="1" fill="url(#gb43)" shape-rendering="crispEdges"/>
<rect x="319.60" y="79" width="148.70" height="1" fill="url(#gb44)" shape-rendering="crispEdges"/>
<rect x="319.60" y="80" width="148.70" height="1" fill="url(#gb45)" shape-rendering="crispEdges"/>
<rect x="319.60" y="81" width="148.70" height="1" fill="url(#gb46)" shape-rendering="crispEdges"/>
<rect x="319.60" y="82" width="148.70" height="1" fill="url(#gb47)" shape-rendering="crispEdges"/>
<rect x="319.60" y="83" width="148.70" height="1" fill="url(#gb48)" shape-rendering="crispEdges"/>
<rect x="319.60" y="84" width="148.70" height="1" fill="url(#gb49)" shape-rendering="crispEdges"/>
<rect x="319.60" y="85" width="148.70" height="1" fill="url(#gb50)" shape-rendering="crispEdges"/>
<rect x="319.60" y="86" width="148.70" height="1" fill="url(#gb51)" shape-rendering="crispEdges"/>
<rect x="319.60" y="87" width="148.70" height="1" fill="url(#gb52)" shape-rendering="crispEdges"/>
<rect x="319.60" y="88" width="148.70" height="1" fill="url(#gb53)" shape-rendering="crispEdges"/>
<rect x="319.60" y="89" width="148.70" height="1" fill="url(#gb54)" shape-rendering="crispEdges"/>
<rect x="319.60" y="90" width="148.70" height="1" fill="url(#gb55)" shape-rendering="crispEdges"/>
<rect x="319.60" y="91" width="148.70" height="1" fill="url(#gb56)" shape-rendering="crispEdges"/>
<rect x="319.60" y="92" width="148.70" height="1" fill="url(#gb57)" shape-rendering="crispEdges"/>
<rect x="319.60" y="93" width="148.70" height="1" fill="url(#gb58)" shape-rendering="crispEdges"/>
<rect x="319.60" y="94" width="148.70" height="1" fill="url(#gb59)" shape-rendering="crispEdges"/>
<rect x="319.60" y="95" width="148.70" height="1" fill="url(#gb60)" shape-rendering="crispEdges"/>
<rect x="319.60" y="96" width="148.70" height="1" fill="url(#gb61)" shape-rendering="crispEdges"/>
<rect x="319.60" y="97" width="148.70" height="1" fill="url(#gb62)" shape-rendering="crispEdges"/>
<rect x="319.60" y="98" width="148.70" height="1" fill="url(#gb63)" shape-rendering="crispEdges"/>
<rect x="319.60" y="99" width="148.70" height="1" fill="url(#gb64)" shape-rendering="crispEdges"/>
<rect x="319.60" y="100" width="148.70" height="1" fill="url(#gb65)" shape-rendering="crispEdges"/>
<rect x="319.60" y="101" width="148.70" height="1" fill="url(#gb66)" shape-rendering="crispEdges"/>
<rect x="319.60" y="102" width="148.70" height="1" fill="url(#gb67)" shape-rendering="crispEdges"/>
<rect x="319.60" y="103" width="148.70" height="1" fill="url(#gb68)" shape-rendering="crispEdges"/>
<rect x="319.60" y="104" width="148.70" height="1" fill="url(#gb69)" shape-rendering="crispEdges"/>
<rect x="319.60" y="105" width="148.70" height="1" fill="url(#gb70)" shape-rendering="crispEdges"/>
<rect x="319.60" y="106" width="148.70" height="1" fill="url(#gb71)" shape-rendering="crispEdges"/>
<rect x="319.60" y="107" width="148.70" height="1" fill="url(#gb72)" shape-rendering="crispEdges"/>
<rect x="319.60" y="108" width="148.70" height="1" fill="url(#gb73)" shape-rendering="crispEdges"/>
<rect x="319.60" y="109" width="148.70" height="1" fill="url(#gb74)" shape-rendering="crispEdges"/>
<rect x="319.60" y="110" width="148.70" height="1" fill="url(#gb75)" shape-rendering="crispEdges"/>
<rect x="319.60" y="111" width="148.70" height="1" fill="url(#gb76)" shape-rendering="crispEdges"/>
<rect x="319.60" y="112" width="148.70" height="1" fill="url(#gb77)" shape-rendering="crispEdges"/>
<rect x="319.60" y="113" width="148.70" height="1" fill="url(#gb78)" shape-rendering="crispEdges"/>
<rect x="319.60" y="114" width="148.70" height="1" fill="url(#gb79)" shape-rendering="crispEdges"/>
<rect x="319.60" y="115" width="148.70" height="1" fill="url(#gb80)" shape-rendering="crispEdges"/>
<rect x="319.60" y="116" width="148.70" height="1" fill="url(#gb81)" shape-rendering="crispEdges"/>
<rect x="319.60" y="117" width="148.70" height="1" fill="url(#gb82)" shape-rendering="crispEdges"/>
<rect x="319.60" y="118" width="148.70" height="1" fill="url(#gb83)" shape-rendering="crispEdges"/>
<rect x="319.60" y="119" width="148.70" height="1" fill="url(#gb84)" shape-rendering="crispEdges"/>
<rect x="319.60" y="120" width="148.70" height="1" fill="url(#gb85)" shape-rendering="crispEdges"/>
<rect x="319.60" y="121" width="148.70" height="1" fill="url(#gb86)" shape-rendering="crispEdges"/>
<rect x="319.60" y="122" width="148.70" height="1" fill="url(#gb87)" shape-rendering="crispEdges"/>
<rect x="319.60" y="123" width="148.70" height="1" fill="url(#gb88)" shape-rendering="crispEdges"/>
<rect x="319.60" y="124" width="148.70" height="1" fill="url(#gb89)" shape-rendering="crispEdges"/>
<rect x="319.60" y="125" width="148.70" height="1" fill="url(#gb90)" shape-rendering="crispEdges"/>
<rect x="319.60" y="126" width="148.70" height="1" fill="url(#gb91)" shape-rendering="crispEdges"/>
<rect x="319.60" y="127" width="148.70" height="1" fill="url(#gb92)" shape-rendering="crispEdges"/>
<rect x="319.60" y="128" width="148.70" height="1" fill="url(#gb93)" shape-rendering="crispEdges"/>
<rect x="319.60" y="129" width="148.70" height="1" fill="url(#gb94)" shape-rendering="crispEdges"/>
<rect x="319.60" y="130" width="148.70" height="1" fill="url(#gb95)" shape-rendering="crispEdges"/>
<rect x="319.60" y="131" width="148.70" height="1" fill="url(#gb96)" shape-rendering="crispEdges"/>
<rect x="319.60" y="132" width="148.70" height="1" fill="url(#gb97)" shape-rendering="crispEdges"/>
<rect x="319.60" y="133" width="148.70" height="1" fill="url(#gb98)" shape-rendering="crispEdges"/>
<rect x="319.60" y="134" width="148.70" height="1" fill="url(#gb99)" shape-rendering="crispEdges"/>
<rect x="319.60" y="135" width="148.70" height="1" fill="url(#gb100)" shape-rendering="crispEdges"/>
<rect x="319.60" y="136" width="148.70" height="1" fill="url(#gb101)" shape-rendering="crispEdges"/>
<rect x="319.60" y="137" width="148.70" height="1" fill="url(#gb102)" shape-rendering="crispEdges"/>
<rect x="319.60" y="138" width="148.70" height="1" fill="url(#gb103)" shape-rendering="crispEdges"/>
<rect x="319.60" y="139" width="148.70" height="1" fill="url(#gb104)" shape-rendering="crispEdges"/>
<rect x="319.60" y="140" width="148.70" height="1" fill="url(#gb105)" shape-rendering="crispEdges"/>
<rect x="319.60" y="141" width="148.70" height="1" fill="url(#gb106)" shape-rendering="crispEdges"/>
<rect x="319.60" y="142" width="148.70" height="1" fill="url(#gb107)" shape-rendering="crispEdges"/>
<rect x="319.60" y="143" width="148.70" height="1" fill="url(#gb108)" shape-rendering="crispEdges"/>
<rect x="319.60" y="144" width="148.70" height="1" fill="url(#gb109)" shape-rendering="crispEdges"/>
<rect x="319.60" y="145" width="148.70" height="1" fill="url(#gb110)" shape-rendering="crispEdges"/>
<rect x="319.60" y="146" width="148.70" height="1" fill="url(#gb111)" shape-rendering="crispEdges"/>
<rect x="319.60" y="147" width="148.70" height="1" fill="url(#gb112)" shape-rendering="crispEdges"/>
<rect x="319.60" y="148" width="148.70" height="1" fill="url(#gb113)" shape-rendering="crispEdges"/>
<rect x="319.60" y="149" width="148.70" height="1" fill="url(#gb114)" shape-rendering="crispEdges"/>
<rect x="319.60" y="150" width="148.70" height="1" fill="url(#gb115)" shape-rendering="crispEdges"/>
<rect x="319.60" y="151" width="148.70" height="1" fill="url(#gb116)" shape-rendering="crispEdges"/>
<rect x="319.60" y="152" width="148.70" height="1" fill="url(#gb117)" shape-rendering="crispEdges"/>
<rect x="319.60" y="153" width="148.70" height="1" fill="url(#gb118)" shape-rendering="crispEdges"/>
<rect x="319.60" y="154" width="148.70" height="1" fill="url(#gb119)" shape-rendering="crispEdges"/>
<rect x="319.60" y="155" width="148.70" height="1" fill="url(#gb120)" shape-rendering="crispEdges"/>
<rect x="319.60" y="156" width="148.70" height="1" fill="url(#gb121)" shape-rendering="crispEdges"/>
<rect x="319.60" y="157" width="148.70" height="1" fill="url(#gb122)" shape-rendering="crispEdges"/>
<rect x="319.60" y="158" width="148.70" height="1" fill="url(#gb123)" shape-rendering="crispEdges"/>
<rect x="319.60" y="159" width="148.70" height="1" fill="url(#gb124)" shape-rendering="crispEdges"/>
<rect x="319.60" y="160" width="148.70" height="1" fill="url(#gb125)" shape-rendering="crispEdges"/>
<rect x="319.60" y="161" width="148.70" height="1" fill="url(#gb126)" shape-rendering="crispEdges"/>
<rect x="319.60" y="162" width="148.70" height="1" fill="url(#gb127)" shape-rendering="crispEdges"/>
<rect x="319.60" y="163" width="148.70" height="1" fill="url(#gb128)" shape-rendering="crispEdges"/>
<rect x="319.60" y="164" width="148.70" height="1" fill="url(#gb129)" shape-rendering="crispEdges"/>
<rect x="319.60" y="165" width="148.70" height="1" fill="url(#gb130)" shape-rendering="crispEdges"/>
<rect x="319.60" y="166" width="148.70" height="1" fill="url(#gb131)" shape-rendering="crispEdges"/>
<rect x="319.60" y="167" width="148.70" height="1" fill="url(#gb132)" shape-rendering="crispEdges"/>
<rect x="319.60" y="168" width="148.70" height="1" fill="url(#gb133)" shape-rendering="crispEdges"/>
<rect x="319.60" y="169" width="148.70" height="1" fill="url(#gb134)" shape-rendering="crispEdges"/>
<path d="M319.5,35.4 L327.9,35.4 L327.9,34.3 L333.0,37.8 L327.9,41.4 L327.9,40.3 L319.5,40.3 Z" fill="#f00000"/>
<path d="M320.0,163.9 L327.1,163.9 L327.1,162.7 L332.5,166.4 L327.1,170.2 L327.1,169.0 L320.0,169.0 Z" fill="#000"/>
<path d="M462.6,169.3 L462.6,164.5 L461.2,164.5 L465.7,158.4 L470.2,164.5 L468.8,164.5 L468.8,169.3 Z" fill="#cc30aa"/>
<line x1="319.60" y1="169.30" x2="324.60" y2="169.30" stroke="#000" stroke-width="1.2" />
<line x1="319.60" y1="169.50" x2="319.60" y2="165.00" stroke="#000" stroke-width="1.2" />
<line x1="319.60" y1="125.00" x2="324.60" y2="125.00" stroke="#000" stroke-width="1.2" />
<line x1="369.16" y1="169.50" x2="369.16" y2="165.00" stroke="#000" stroke-width="1.2" />
<line x1="319.60" y1="80.70" x2="324.60" y2="80.70" stroke="#000" stroke-width="1.2" />
<line x1="418.72" y1="169.50" x2="418.72" y2="165.00" stroke="#000" stroke-width="1.2" />
<line x1="319.60" y1="36.40" x2="324.60" y2="36.40" stroke="#000" stroke-width="1.2" />
<line x1="468.28" y1="169.50" x2="468.28" y2="165.00" stroke="#000" stroke-width="1.2" />
<text x="316.5" y="172.1" font-size="12" text-anchor="end" fill="#000" >0.4</text>
<text x="316.5" y="128.7" font-size="12" text-anchor="end" fill="#000" >0.6</text>
<text x="316.5" y="85.2" font-size="12" text-anchor="end" fill="#000" >0.8</text>
<text x="316.5" y="42.7" font-size="12" text-anchor="end" fill="#000" >1.0</text>
<text x="322.7" y="181.4" font-size="12" text-anchor="middle" fill="#000" >0.4</text>
<text x="369.5" y="181.4" font-size="12" text-anchor="middle" fill="#000" >0.6</text>
<text x="419.0" y="181.4" font-size="12" text-anchor="middle" fill="#000" >0.8</text>
<text x="468.5" y="181.4" font-size="12" text-anchor="middle" fill="#000" >1.0</text>
<text x="329" y="194.3" font-size="12.2">Dimensionless parameter <tspan font-style="italic">k</tspan><tspan font-size="7.5" dy="2.5">1</tspan></text>
<text transform="translate(299.8,176.7) rotate(-90)" x="0" y="0" font-size="12.3">Dimensionless parameter <tspan font-style="italic" fill="#888" font-size="11">k</tspan><tspan font-size="6.5" dy="1.5" fill="#888">2</tspan></text>
<rect x="474.60" y="35.40" width="10.40" height="133.90" fill="url(#cbb)" stroke="#888" stroke-width="0.4" />
<text x="489.0" y="50.0" font-size="12" text-anchor="start" fill="#000" >2.0</text>
<text x="489.0" y="64.4" font-size="12" text-anchor="start" fill="#000" >0.0</text>
<text x="489.0" y="78.8" font-size="12" text-anchor="start" fill="#000" >-1.5</text>
<text x="489.0" y="93.3" font-size="12" text-anchor="start" fill="#000" >-2.0</text>
<text x="489.0" y="107.7" font-size="12" text-anchor="start" fill="#000" >-4.0</text>
<text x="489.0" y="122.1" font-size="12" text-anchor="start" fill="#000" >-6.0</text>
<text x="489.0" y="136.5" font-size="12" text-anchor="start" fill="#000" >-8.0</text>
<text x="489.0" y="150.9" font-size="12" text-anchor="start" fill="#000" >-10.0</text>
<text x="489.0" y="165.4" font-size="12" text-anchor="start" fill="#000" >-12.0</text>
<text x="472.4" y="31.6" font-size="11.5" font-style="italic">α</text><text x="479.8" y="26.8" font-size="6.8">1.5</text><text x="479" y="34" font-size="6.8" font-style="italic">z</text>
<text transform="translate(525.3,99.8) rotate(-90)" x="0" y="0" font-size="12.5" text-anchor="middle">Coef. of Thermal Expansion(ppm/°C)</text>
<text x="7.8" y="212.0" font-size="14.5" text-anchor="start" fill="#000" >(c)</text>
<line x1="77.80" y1="388.00" x2="77.80" y2="384.80" stroke="#404040" stroke-width="1.2" />
<line x1="77.80" y1="228.60" x2="77.80" y2="231.80" stroke="#f01010" stroke-width="1.2" />
<line x1="134.33" y1="388.00" x2="134.33" y2="384.80" stroke="#404040" stroke-width="1.2" />
<line x1="134.33" y1="228.60" x2="134.33" y2="231.80" stroke="#f01010" stroke-width="1.2" />
<line x1="190.86" y1="388.00" x2="190.86" y2="384.80" stroke="#404040" stroke-width="1.2" />
<line x1="190.86" y1="228.60" x2="190.86" y2="231.80" stroke="#f01010" stroke-width="1.2" />
<line x1="247.39" y1="388.00" x2="247.39" y2="384.80" stroke="#404040" stroke-width="1.2" />
<line x1="247.39" y1="228.60" x2="247.39" y2="231.80" stroke="#f01010" stroke-width="1.2" />
<line x1="106.06" y1="388.00" x2="106.06" y2="386.00" stroke="#404040" stroke-width="1.0" />
<line x1="106.06" y1="228.60" x2="106.06" y2="230.60" stroke="#f01010" stroke-width="1.0" />
<line x1="162.59" y1="388.00" x2="162.59" y2="386.00" stroke="#404040" stroke-width="1.0" />
<line x1="162.59" y1="228.60" x2="162.59" y2="230.60" stroke="#f01010" stroke-width="1.0" />
<line x1="219.12" y1="388.00" x2="219.12" y2="386.00" stroke="#404040" stroke-width="1.0" />
<line x1="219.12" y1="228.60" x2="219.12" y2="230.60" stroke="#f01010" stroke-width="1.0" />
<line x1="64.30" y1="239.00" x2="67.60" y2="239.00" stroke="#404040" stroke-width="1.2" />
<line x1="261.60" y1="239.00" x2="258.30" y2="239.00" stroke="#f01010" stroke-width="1.2" />
<text x="60.5" y="243.2" font-size="12" text-anchor="end" fill="#000" >2.0</text>
<text x="265.0" y="243.2" font-size="12" text-anchor="start" fill="#f01010" >2.0</text>
<line x1="64.30" y1="259.07" x2="67.60" y2="259.07" stroke="#404040" stroke-width="1.2" />
<line x1="261.60" y1="259.07" x2="258.30" y2="259.07" stroke="#f01010" stroke-width="1.2" />
<text x="60.5" y="263.3" font-size="12" text-anchor="end" fill="#000" >0.0</text>
<text x="265.0" y="263.3" font-size="12" text-anchor="start" fill="#f01010" >0.0</text>
<line x1="64.30" y1="279.14" x2="67.60" y2="279.14" stroke="#404040" stroke-width="1.2" />
<line x1="261.60" y1="279.14" x2="258.30" y2="279.14" stroke="#f01010" stroke-width="1.2" />
<text x="60.5" y="283.3" font-size="12" text-anchor="end" fill="#000" >-2.0</text>
<text x="265.0" y="283.3" font-size="12" text-anchor="start" fill="#f01010" >-2.0</text>
<line x1="64.30" y1="299.21" x2="67.60" y2="299.21" stroke="#404040" stroke-width="1.2" />
<line x1="261.60" y1="299.21" x2="258.30" y2="299.21" stroke="#f01010" stroke-width="1.2" />
<text x="60.5" y="303.4" font-size="12" text-anchor="end" fill="#000" >-4.0</text>
<text x="265.0" y="303.4" font-size="12" text-anchor="start" fill="#f01010" >-4.0</text>
<line x1="64.30" y1="319.28" x2="67.60" y2="319.28" stroke="#404040" stroke-width="1.2" />
<line x1="261.60" y1="319.28" x2="258.30" y2="319.28" stroke="#f01010" stroke-width="1.2" />
<text x="60.5" y="323.5" font-size="12" text-anchor="end" fill="#000" >-6.0</text>
<text x="265.0" y="323.5" font-size="12" text-anchor="start" fill="#f01010" >-6.0</text>
<line x1="64.30" y1="339.35" x2="67.60" y2="339.35" stroke="#404040" stroke-width="1.2" />
<line x1="261.60" y1="339.35" x2="258.30" y2="339.35" stroke="#f01010" stroke-width="1.2" />
<text x="60.5" y="343.6" font-size="12" text-anchor="end" fill="#000" >-8.0</text>
<text x="265.0" y="343.6" font-size="12" text-anchor="start" fill="#f01010" >-8.0</text>
<line x1="64.30" y1="359.42" x2="67.60" y2="359.42" stroke="#404040" stroke-width="1.2" />
<line x1="261.60" y1="359.42" x2="258.30" y2="359.42" stroke="#f01010" stroke-width="1.2" />
<text x="60.5" y="363.6" font-size="12" text-anchor="end" fill="#000" >-10.0</text>
<text x="265.0" y="363.6" font-size="12" text-anchor="start" fill="#f01010" >-10.0</text>
<line x1="64.30" y1="379.49" x2="67.60" y2="379.49" stroke="#404040" stroke-width="1.2" />
<line x1="261.60" y1="379.49" x2="258.30" y2="379.49" stroke="#f01010" stroke-width="1.2" />
<text x="60.5" y="383.7" font-size="12" text-anchor="end" fill="#000" >-12.0</text>
<text x="265.0" y="383.7" font-size="12" text-anchor="start" fill="#f01010" >-12.0</text>
<line x1="64.30" y1="228.97" x2="66.30" y2="228.97" stroke="#404040" stroke-width="1.0" />
<line x1="261.60" y1="228.97" x2="259.60" y2="228.97" stroke="#f01010" stroke-width="1.0" />
<line x1="64.30" y1="249.03" x2="66.30" y2="249.03" stroke="#404040" stroke-width="1.0" />
<line x1="261.60" y1="249.03" x2="259.60" y2="249.03" stroke="#f01010" stroke-width="1.0" />
<line x1="64.30" y1="269.11" x2="66.30" y2="269.11" stroke="#404040" stroke-width="1.0" />
<line x1="261.60" y1="269.11" x2="259.60" y2="269.11" stroke="#f01010" stroke-width="1.0" />
<line x1="64.30" y1="289.18" x2="66.30" y2="289.18" stroke="#404040" stroke-width="1.0" />
<line x1="261.60" y1="289.18" x2="259.60" y2="289.18" stroke="#f01010" stroke-width="1.0" />
<line x1="64.30" y1="309.25" x2="66.30" y2="309.25" stroke="#404040" stroke-width="1.0" />
<line x1="261.60" y1="309.25" x2="259.60" y2="309.25" stroke="#f01010" stroke-width="1.0" />
<line x1="64.30" y1="329.31" x2="66.30" y2="329.31" stroke="#404040" stroke-width="1.0" />
<line x1="261.60" y1="329.31" x2="259.60" y2="329.31" stroke="#f01010" stroke-width="1.0" />
<line x1="64.30" y1="349.38" x2="66.30" y2="349.38" stroke="#404040" stroke-width="1.0" />
<line x1="261.60" y1="349.38" x2="259.60" y2="349.38" stroke="#f01010" stroke-width="1.0" />
<line x1="64.30" y1="369.46" x2="66.30" y2="369.46" stroke="#404040" stroke-width="1.0" />
<line x1="261.60" y1="369.46" x2="259.60" y2="369.46" stroke="#f01010" stroke-width="1.0" />
<text x="77.8" y="401.5" font-size="12" text-anchor="middle" fill="#000" >0.4</text>
<text x="77.8" y="223.5" font-size="12" text-anchor="middle" fill="#f01010" >0.4</text>
<text x="134.3" y="401.5" font-size="12" text-anchor="middle" fill="#000" >0.6</text>
<text x="134.3" y="223.5" font-size="12" text-anchor="middle" fill="#f01010" >0.6</text>
<text x="190.9" y="401.5" font-size="12" text-anchor="middle" fill="#000" >0.8</text>
<text x="190.9" y="223.5" font-size="12" text-anchor="middle" fill="#f01010" >0.8</text>
<text x="247.4" y="401.5" font-size="12" text-anchor="middle" fill="#000" >1.0</text>
<text x="247.4" y="223.5" font-size="12" text-anchor="middle" fill="#f01010" >1.0</text>
<line x1="64.30" y1="228.60" x2="261.60" y2="228.60" stroke="#f01010" stroke-width="1.5" />
<line x1="261.60" y1="228.60" x2="261.60" y2="388.00" stroke="#f01010" stroke-width="1.5" />
<line x1="64.30" y1="228.10" x2="64.30" y2="388.75" stroke="#404040" stroke-width="1.5" />
<line x1="64.30" y1="388.00" x2="261.60" y2="388.00" stroke="#404040" stroke-width="1.5" />
<text x="102.6" y="212" font-size="12.2" fill="#f01010">Dimensionless parameter <tspan font-style="italic">k</tspan><tspan font-size="7.5" dy="2.5">2</tspan></text>
<text x="103.2" y="413" font-size="12.2">Dimensionless parameter <tspan font-style="italic">k</tspan><tspan font-size="7.5" dy="2.5">1</tspan></text>
<text transform="translate(38.4,316.2) rotate(-90)" x="0" y="0" font-size="12.1" text-anchor="middle">Coef. of Thermal Expansion(ppm/°C)</text>
<polyline points="77.8,260.4 134.3,274.9 190.9,288.6 247.4,303.9" fill="none" stroke="#2ca05a" stroke-width="1.6"/>
<rect x="75.50" y="258.10" width="4.60" height="4.60" fill="#2ca05a" stroke="none" stroke-width="1" />
<rect x="132.03" y="272.60" width="4.60" height="4.60" fill="#2ca05a" stroke="none" stroke-width="1" />
<rect x="188.56" y="286.30" width="4.60" height="4.60" fill="#2ca05a" stroke="none" stroke-width="1" />
<rect x="245.09" y="301.60" width="4.60" height="4.60" fill="#2ca05a" stroke="none" stroke-width="1" />
<polyline points="77.8,239.5 134.3,261.2 190.9,277.2 247.4,295.2" fill="none" stroke="#1f6fe0" stroke-width="1.6"/>
<circle cx="77.8" cy="239.5" r="2.30" fill="#1f6fe0"/>
<circle cx="134.3" cy="261.2" r="2.30" fill="#1f6fe0"/>
<circle cx="190.9" cy="277.2" r="2.30" fill="#1f6fe0"/>
<circle cx="247.4" cy="295.2" r="2.30" fill="#1f6fe0"/>
<polyline points="77.8,306.9 134.3,306.7 190.9,303.0 247.4,303.5" fill="none" stroke="#a070e0" stroke-width="1.6"/>
<path d="M77.8,304.1 L80.6,309.0 L75.0,309.0 Z" fill="#a070e0"/>
<path d="M134.3,303.9 L137.1,308.8 L131.6,308.8 Z" fill="#a070e0"/>
<path d="M190.9,300.2 L193.6,305.1 L188.1,305.1 Z" fill="#a070e0"/>
<path d="M247.4,300.7 L250.1,305.6 L244.6,305.6 Z" fill="#a070e0"/>
<polyline points="77.8,380.5 134.3,335.3 190.9,307.2 247.4,295.8" fill="none" stroke="#404040" stroke-width="1.6"/>
<path d="M77.8,383.3 L80.6,378.4 L75.0,378.4 Z" fill="#404040"/>
<path d="M134.3,338.1 L137.1,333.2 L131.6,333.2 Z" fill="#404040"/>
<path d="M190.9,310.0 L193.6,305.1 L188.1,305.1 Z" fill="#404040"/>
<path d="M247.4,298.6 L250.1,293.7 L244.6,293.7 Z" fill="#404040"/>
<rect x="191.80" y="235.20" width="65.60" height="33.20" fill="#fff" stroke="#f5b820" stroke-width="1.2" />
<line x1="208.50" y1="242.60" x2="234.80" y2="242.60" stroke="#2ca05a" stroke-width="1.6" />
<rect x="219.50" y="240.50" width="4.20" height="4.20" fill="#2ca05a" stroke="none" stroke-width="1" />
<line x1="208.50" y1="260.50" x2="234.80" y2="260.50" stroke="#1f6fe0" stroke-width="1.6" />
<circle cx="221.6" cy="260.5" r="2.10" fill="#1f6fe0"/>
<text x="239.1" y="246.7" font-size="12" fill="#f01010" font-style="italic">α</text>
<text x="246.5" y="241.7" font-size="8.2" fill="#f01010">1.5</text>
<text x="246.0" y="248.5" font-size="8.2" fill="#f01010" font-style="italic">xy</text>
<text x="239.1" y="264.2" font-size="12" fill="#f01010" font-style="italic">α</text>
<text x="246.5" y="259.2" font-size="8.2" fill="#f01010">1.5</text>
<text x="246.0" y="266.0" font-size="8.2" fill="#f01010" font-style="italic">z</text>
<path d="M180.1,240.5 L180.1,251.2 L191.8,251.2" fill="none" stroke="#f01010" stroke-width="1.2"/>
<path d="M198.8,256.5 L198.8,251.0 L197.4,251.0 L201.7,245.2 L206.0,251.0 L204.6,251.0 L204.6,256.5 Z" fill="#cc30aa"/>
<rect x="191.70" y="349.30" width="66.90" height="34.60" fill="#fff" stroke="#f5b820" stroke-width="1.2" />
<line x1="207.30" y1="357.00" x2="233.10" y2="357.00" stroke="#a070e0" stroke-width="1.6" />
<path d="M220.2,354.5 L222.7,358.9 L217.7,358.9 Z" fill="#a070e0"/>
<line x1="207.30" y1="375.60" x2="233.10" y2="375.60" stroke="#404040" stroke-width="1.6" />
<path d="M220.2,378.1 L222.7,373.7 L217.7,373.7 Z" fill="#404040"/>
<text x="238.1" y="361.2" font-size="12" fill="#000" font-style="italic">α</text>
<text x="245.5" y="356.2" font-size="8.2" fill="#000">1.5</text>
<text x="245.0" y="363.0" font-size="8.2" fill="#000" font-style="italic">xy</text>
<text x="238.1" y="379.7" font-size="12" fill="#000" font-style="italic">α</text>
<text x="245.5" y="374.7" font-size="8.2" fill="#000">1.5</text>
<text x="245.0" y="381.5" font-size="8.2" fill="#000" font-style="italic">z</text>
<path d="M179.3,375.2 L179.3,365.3 L191.7,365.3" fill="none" stroke="#f01010" stroke-width="1.2"/>
<path d="M194.4,362.9 L202.4,362.9 L202.4,361.7 L207.7,365.4 L202.4,369.0 L202.4,367.8 L194.4,367.8 Z" fill="#f00000"/>
<path d="M330.8,237.8 L338.3,237.8 L338.3,236.5 L344.1,240.5 L338.3,244.5 L338.3,243.2 L330.8,243.2 Z" fill="#000"/>
<text x="350.6" y="237.2" font-size="12.5" font-style="italic">k</text>
<text x="356.1" y="239.8" font-size="7.8">2</text>
<text x="363.3" y="237.2" font-size="12.5">=</text>
<text x="371.5" y="237.2" font-size="12.5">0.4,</text>
<text x="394.8" y="237.2" font-size="12.5" font-style="italic">k</text>
<text x="400.3" y="239.8" font-size="7.8">3</text>
<text x="406.8" y="237.2" font-size="12.5">=</text>
<text x="414.3" y="237.2" font-size="12.5">1.5,</text>
<text x="435.5" y="237.2" font-size="12.5" font-style="italic">θ</text>
<text x="443.3" y="237.2" font-size="12.5">=</text>
<text x="450.0" y="237.2" font-size="12.5">45°</text>
<line x1="351.00" y1="242.20" x2="469.80" y2="242.20" stroke="#000" stroke-width="1.5" />
<path d="M334.6,278.3 L334.6,272.3 L333.3,272.3 L337.5,266.7 L341.6,272.3 L340.3,272.3 L340.3,278.3 Z" fill="#cc30aa"/>
<text x="350.0" y="272.2" font-size="12.5" font-style="italic">k</text>
<text x="355.5" y="274.8" font-size="7.8">1</text>
<text x="362.8" y="272.2" font-size="12.5">=</text>
<text x="370.3" y="272.2" font-size="12.5">1.0,</text>
<text x="393.6" y="272.2" font-size="12.5" font-style="italic">k</text>
<text x="399.1" y="274.8" font-size="7.8">3</text>
<text x="406.8" y="272.2" font-size="12.5">=</text>
<text x="414.3" y="272.2" font-size="12.5">1.5,</text>
<text x="435.2" y="272.2" font-size="12.5" font-style="italic">θ</text>
<text x="442.5" y="272.2" font-size="12.5">=</text>
<text x="451.0" y="272.2" font-size="12.5">45°</text>
<line x1="351.10" y1="276.60" x2="469.80" y2="276.60" stroke="#e58bd0" stroke-width="1.5" />
<path d="M333.3,304.0 L340.9,304.0 L340.9,302.9 L346.0,306.4 L340.9,310.0 L340.9,308.9 L333.3,308.9 Z" fill="#f00000"/>
<text x="350.0" y="305.3" font-size="12.5" font-style="italic">k</text>
<text x="355.5" y="307.9" font-size="7.8">2</text>
<text x="362.8" y="305.3" font-size="12.5">=</text>
<text x="371.5" y="305.3" font-size="12.5">1.0,</text>
<text x="392.3" y="305.3" font-size="12.5" font-style="italic">k</text>
<text x="397.8" y="307.9" font-size="7.8">3</text>
<text x="405.6" y="305.3" font-size="12.5">=</text>
<text x="414.3" y="305.3" font-size="12.5">1.5,</text>
<text x="435.2" y="305.3" font-size="12.5" font-style="italic">θ</text>
<text x="442.5" y="305.3" font-size="12.5">=</text>
<text x="451.0" y="305.3" font-size="12.5">45°</text>
<line x1="352.30" y1="310.40" x2="471.00" y2="310.40" stroke="#f01010" stroke-width="1.5" />
<text x="11.8" y="416.9" font-size="14.5" text-anchor="start" fill="#000" >(d)</text>
<line x1="74.80" y1="585.00" x2="74.80" y2="581.80" stroke="#404040" stroke-width="1.2" />
<text x="74.8" y="599.3" font-size="12" text-anchor="middle" fill="#000" >0.4</text>
<line x1="131.77" y1="585.00" x2="131.77" y2="581.80" stroke="#404040" stroke-width="1.2" />
<text x="131.8" y="599.3" font-size="12" text-anchor="middle" fill="#000" >0.6</text>
<line x1="188.74" y1="585.00" x2="188.74" y2="581.80" stroke="#404040" stroke-width="1.2" />
<text x="188.7" y="599.3" font-size="12" text-anchor="middle" fill="#000" >0.8</text>
<line x1="245.71" y1="585.00" x2="245.71" y2="581.80" stroke="#404040" stroke-width="1.2" />
<text x="245.7" y="599.3" font-size="12" text-anchor="middle" fill="#000" >1.0</text>
<line x1="103.28" y1="585.00" x2="103.28" y2="583.00" stroke="#404040" stroke-width="1.0" />
<line x1="160.25" y1="585.00" x2="160.25" y2="583.00" stroke="#404040" stroke-width="1.0" />
<line x1="217.23" y1="585.00" x2="217.23" y2="583.00" stroke="#404040" stroke-width="1.0" />
<line x1="60.70" y1="434.30" x2="64.00" y2="434.30" stroke="#404040" stroke-width="1.2" />
<text x="57.5" y="438.5" font-size="12" text-anchor="end" fill="#000" >3.5</text>
<line x1="60.70" y1="443.75" x2="62.70" y2="443.75" stroke="#404040" stroke-width="1.0" />
<line x1="60.70" y1="453.20" x2="64.00" y2="453.20" stroke="#404040" stroke-width="1.2" />
<text x="57.5" y="457.4" font-size="12" text-anchor="end" fill="#000" >3.0</text>
<line x1="60.70" y1="462.65" x2="62.70" y2="462.65" stroke="#404040" stroke-width="1.0" />
<line x1="60.70" y1="472.10" x2="64.00" y2="472.10" stroke="#404040" stroke-width="1.2" />
<text x="57.5" y="476.3" font-size="12" text-anchor="end" fill="#000" >2.5</text>
<line x1="60.70" y1="481.55" x2="62.70" y2="481.55" stroke="#404040" stroke-width="1.0" />
<line x1="60.70" y1="491.00" x2="64.00" y2="491.00" stroke="#404040" stroke-width="1.2" />
<text x="57.5" y="495.2" font-size="12" text-anchor="end" fill="#000" >2.0</text>
<line x1="60.70" y1="500.45" x2="62.70" y2="500.45" stroke="#404040" stroke-width="1.0" />
<line x1="60.70" y1="509.90" x2="64.00" y2="509.90" stroke="#404040" stroke-width="1.2" />
<text x="57.5" y="514.1" font-size="12" text-anchor="end" fill="#000" >1.5</text>
<line x1="60.70" y1="519.35" x2="62.70" y2="519.35" stroke="#404040" stroke-width="1.0" />
<line x1="60.70" y1="528.80" x2="64.00" y2="528.80" stroke="#404040" stroke-width="1.2" />
<text x="57.5" y="533.0" font-size="12" text-anchor="end" fill="#000" >1.0</text>
<line x1="60.70" y1="538.25" x2="62.70" y2="538.25" stroke="#404040" stroke-width="1.0" />
<line x1="60.70" y1="547.70" x2="64.00" y2="547.70" stroke="#404040" stroke-width="1.2" />
<text x="57.5" y="551.9" font-size="12" text-anchor="end" fill="#000" >0.5</text>
<line x1="60.70" y1="557.15" x2="62.70" y2="557.15" stroke="#404040" stroke-width="1.0" />
<line x1="60.70" y1="566.60" x2="64.00" y2="566.60" stroke="#404040" stroke-width="1.2" />
<text x="57.5" y="570.8" font-size="12" text-anchor="end" fill="#000" >0.0</text>
<line x1="60.70" y1="576.05" x2="62.70" y2="576.05" stroke="#404040" stroke-width="1.0" />
<line x1="60.70" y1="585.50" x2="64.00" y2="585.50" stroke="#404040" stroke-width="1.2" />
<text x="57.5" y="589.7" font-size="12" text-anchor="end" fill="#000" >-0.5</text>
<rect x="60.70" y="424.40" width="198.90" height="160.60" fill="none" stroke="#404040" stroke-width="1.5" />
<line x1="60.70" y1="566.40" x2="259.60" y2="566.40" stroke="#404040" stroke-width="1.2" />
<polyline points="74.8,436.0 131.8,467.5 188.7,485.0 245.7,493.7" fill="none" stroke="#f26b1d" stroke-width="1.6"/>
<circle cx="74.8" cy="436.0" r="2.30" fill="#f26b1d"/>
<circle cx="131.8" cy="467.5" r="2.30" fill="#f26b1d"/>
<circle cx="188.7" cy="485.0" r="2.30" fill="#f26b1d"/>
<circle cx="245.7" cy="493.7" r="2.30" fill="#f26b1d"/>
<polyline points="74.8,576.3 131.8,575.2 188.7,574.4 245.7,573.0" fill="none" stroke="#d4a020" stroke-width="1.6"/>
<rect x="72.50" y="574.00" width="4.60" height="4.60" fill="#d4a020" stroke="none" stroke-width="1" />
<rect x="129.47" y="572.90" width="4.60" height="4.60" fill="#d4a020" stroke="none" stroke-width="1" />
<rect x="186.44" y="572.10" width="4.60" height="4.60" fill="#d4a020" stroke="none" stroke-width="1" />
<rect x="243.41" y="570.70" width="4.60" height="4.60" fill="#d4a020" stroke="none" stroke-width="1" />
<rect x="191.60" y="427.90" width="65.60" height="36.60" fill="#fff" stroke="#f8d060" stroke-width="1.2" />
<line x1="208.40" y1="436.20" x2="234.10" y2="436.20" stroke="#d4a020" stroke-width="1.6" />
<rect x="219.10" y="434.10" width="4.20" height="4.20" fill="#d4a020" stroke="none" stroke-width="1" />
<line x1="208.40" y1="456.60" x2="234.10" y2="456.60" stroke="#f26b1d" stroke-width="1.6" />
<circle cx="221.2" cy="456.6" r="2.10" fill="#f26b1d"/>
<text x="238.8" y="440.7" font-size="12" fill="#000" font-style="italic">α</text>
<text x="246.2" y="435.7" font-size="8.2" fill="#000">1.5</text>
<text x="245.7" y="442.5" font-size="8.2" fill="#000" font-style="italic">xy</text>
<text x="238.8" y="461.0" font-size="12" fill="#000" font-style="italic">α</text>
<text x="246.2" y="456.0" font-size="8.2" fill="#000">1.5</text>
<text x="245.7" y="462.8" font-size="8.2" fill="#000" font-style="italic">z</text>
<path d="M195.2,443.7 L203.1,443.7 L203.1,442.7 L207.4,445.7 L203.1,448.7 L203.1,447.7 L195.2,447.7 Z" fill="#000"/>
<text x="99" y="615.7" font-size="12.4">Dimensionless parameter <tspan font-style="italic">k</tspan><tspan font-size="7.5" dy="2.5">1</tspan></text>
<text transform="translate(37.9,507.5) rotate(-90)" x="0" y="0" font-size="12.1" text-anchor="middle">Coef. of Thermal Expansion(ppm/°C)</text>
<text x="277.3" y="416.5" font-size="14.5" text-anchor="start" fill="#000" >(e)</text>
<line x1="344.40" y1="582.20" x2="344.40" y2="579.00" stroke="#404040" stroke-width="1.2" />
<text x="344.4" y="595.5" font-size="12" text-anchor="middle" fill="#000" >30</text>
<line x1="380.00" y1="582.20" x2="380.00" y2="579.00" stroke="#404040" stroke-width="1.2" />
<text x="380.0" y="595.5" font-size="12" text-anchor="middle" fill="#000" >40</text>
<line x1="415.60" y1="582.20" x2="415.60" y2="579.00" stroke="#404040" stroke-width="1.2" />
<text x="415.6" y="595.5" font-size="12" text-anchor="middle" fill="#000" >50</text>
<line x1="451.20" y1="582.20" x2="451.20" y2="579.00" stroke="#404040" stroke-width="1.2" />
<text x="451.2" y="595.5" font-size="12" text-anchor="middle" fill="#000" >60</text>
<line x1="486.80" y1="582.20" x2="486.80" y2="579.00" stroke="#404040" stroke-width="1.2" />
<text x="486.8" y="595.5" font-size="12" text-anchor="middle" fill="#000" >70</text>
<line x1="522.40" y1="582.20" x2="522.40" y2="579.00" stroke="#404040" stroke-width="1.2" />
<text x="522.4" y="595.5" font-size="12" text-anchor="middle" fill="#000" >80</text>
<line x1="362.20" y1="582.20" x2="362.20" y2="580.20" stroke="#404040" stroke-width="1.0" />
<line x1="397.80" y1="582.20" x2="397.80" y2="580.20" stroke="#404040" stroke-width="1.0" />
<line x1="433.40" y1="582.20" x2="433.40" y2="580.20" stroke="#404040" stroke-width="1.0" />
<line x1="469.00" y1="582.20" x2="469.00" y2="580.20" stroke="#404040" stroke-width="1.0" />
<line x1="504.60" y1="582.20" x2="504.60" y2="580.20" stroke="#404040" stroke-width="1.0" />
<line x1="326.20" y1="435.80" x2="329.50" y2="435.80" stroke="#404040" stroke-width="1.2" />
<text x="323.7" y="440.0" font-size="12" text-anchor="end" fill="#000" >-3.0</text>
<line x1="326.20" y1="447.10" x2="328.20" y2="447.10" stroke="#404040" stroke-width="1.0" />
<line x1="326.20" y1="458.40" x2="329.50" y2="458.40" stroke="#404040" stroke-width="1.2" />
<text x="323.7" y="462.6" font-size="12" text-anchor="end" fill="#000" >-3.5</text>
<line x1="326.20" y1="469.70" x2="328.20" y2="469.70" stroke="#404040" stroke-width="1.0" />
<line x1="326.20" y1="481.00" x2="329.50" y2="481.00" stroke="#404040" stroke-width="1.2" />
<text x="323.7" y="485.2" font-size="12" text-anchor="end" fill="#000" >-4.0</text>
<line x1="326.20" y1="492.30" x2="328.20" y2="492.30" stroke="#404040" stroke-width="1.0" />
<line x1="326.20" y1="503.60" x2="329.50" y2="503.60" stroke="#404040" stroke-width="1.2" />
<text x="323.7" y="507.8" font-size="12" text-anchor="end" fill="#000" >-4.5</text>
<line x1="326.20" y1="514.90" x2="328.20" y2="514.90" stroke="#404040" stroke-width="1.0" />
<line x1="326.20" y1="526.20" x2="329.50" y2="526.20" stroke="#404040" stroke-width="1.2" />
<text x="323.7" y="530.4" font-size="12" text-anchor="end" fill="#000" >-5.0</text>
<line x1="326.20" y1="537.50" x2="328.20" y2="537.50" stroke="#404040" stroke-width="1.0" />
<line x1="326.20" y1="548.80" x2="329.50" y2="548.80" stroke="#404040" stroke-width="1.2" />
<text x="323.7" y="553.0" font-size="12" text-anchor="end" fill="#000" >-5.5</text>
<line x1="326.20" y1="560.10" x2="328.20" y2="560.10" stroke="#404040" stroke-width="1.0" />
<line x1="326.20" y1="571.40" x2="329.50" y2="571.40" stroke="#404040" stroke-width="1.2" />
<text x="323.7" y="575.6" font-size="12" text-anchor="end" fill="#000" >-6.0</text>
<line x1="326.20" y1="424.50" x2="328.20" y2="424.50" stroke="#404040" stroke-width="1.0" />
<rect x="326.20" y="424.20" width="196.10" height="158.00" fill="none" stroke="#404040" stroke-width="1.5" />
<polyline points="344.4,442.9 397.8,505.2 451.2,541.9 504.6,567.2" fill="none" stroke="#7d4b48" stroke-width="1.6"/>
<rect x="342.10" y="440.60" width="4.60" height="4.60" fill="#7d4b48" stroke="none" stroke-width="1" />
<rect x="395.50" y="502.90" width="4.60" height="4.60" fill="#7d4b48" stroke="none" stroke-width="1" />
<rect x="448.90" y="539.60" width="4.60" height="4.60" fill="#7d4b48" stroke="none" stroke-width="1" />
<rect x="502.30" y="564.90" width="4.60" height="4.60" fill="#7d4b48" stroke="none" stroke-width="1" />
<polyline points="344.4,451.8 397.8,465.5 451.2,503.3 504.6,530.6" fill="none" stroke="#1cc6d2" stroke-width="1.6"/>
<circle cx="344.4" cy="451.8" r="2.30" fill="#1cc6d2"/>
<circle cx="397.8" cy="465.5" r="2.30" fill="#1cc6d2"/>
<circle cx="451.2" cy="503.3" r="2.30" fill="#1cc6d2"/>
<circle cx="504.6" cy="530.6" r="2.30" fill="#1cc6d2"/>
<rect x="421.10" y="426.60" width="99.10" height="38.20" fill="#fff" stroke="#f8c850" stroke-width="1.2" />
<text x="422.8" y="440.7" font-size="12.5" font-style="italic">k</text>
<text x="428.3" y="443.5" font-size="7.8">1</text>
<text x="434.8" y="440.7" font-size="12.5">=</text>
<text x="443.8" y="440.7" font-size="12.8">1.0</text>
<text x="422.8" y="458.4" font-size="12.5" font-style="italic">k</text>
<text x="428.3" y="461.2" font-size="7.8">2</text>
<text x="434.8" y="458.4" font-size="12.5">=</text>
<text x="443.8" y="458.4" font-size="12.8">1.0</text>
<line x1="471.30" y1="435.70" x2="496.90" y2="435.70" stroke="#7d4b48" stroke-width="1.6" />
<rect x="482.10" y="433.70" width="4.00" height="4.00" fill="#7d4b48" stroke="none" stroke-width="1" />
<line x1="471.30" y1="455.40" x2="496.90" y2="455.40" stroke="#1cc6d2" stroke-width="1.6" />
<circle cx="484.1" cy="455.4" r="2.00" fill="#1cc6d2"/>
<text x="500.6" y="440.2" font-size="12" fill="#000" >α</text>
<text x="508.0" y="435.2" font-size="8.2" fill="#000">1.5</text>
<text x="507.5" y="442.0" font-size="8.2" fill="#000" font-style="italic">xy</text>
<text x="500.6" y="459.7" font-size="12" fill="#000" >α</text>
<text x="508.0" y="454.7" font-size="8.2" fill="#000">1.5</text>
<text x="507.5" y="461.5" font-size="8.2" fill="#000" font-style="italic">z</text>
<text x="405.4" y="604.7" font-size="12"><tspan font-style="italic">θ</tspan> /degree</text>
<text transform="translate(300.0,503.3) rotate(-90)" x="0" y="0" font-size="12.0" text-anchor="middle">Coef. of Thermal Expansion(ppm/°C)</text>
</svg></body></html>
